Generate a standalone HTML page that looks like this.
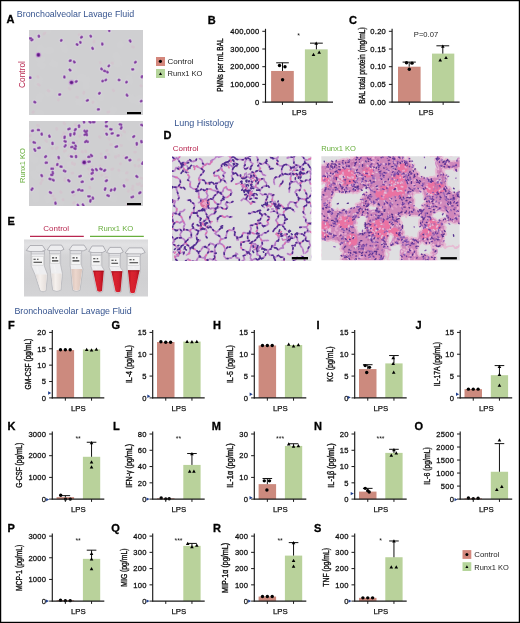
<!DOCTYPE html>
<html><head><meta charset="utf-8"><title>Figure</title>
<style>html,body{margin:0;padding:0;background:#fff;}svg{display:block;}text{font-family:'Liberation Sans', Arial, Helvetica, sans-serif;}</style>
</head><body>
<svg width="520" height="623" viewBox="0 0 520 623">
<rect x="0" y="0" width="520" height="623" fill="#fff"/>
<text x="16.80" y="16.60" font-size="9" fill="#36548f" text-anchor="start" font-weight="normal" textLength="117.3" lengthAdjust="spacingAndGlyphs">Bronchoalveolar Lavage Fluid</text>
<text x="6.50" y="23.00" font-size="11" fill="#000" text-anchor="start" font-weight="bold" stroke="#000" stroke-width="0.3">A</text>
<clipPath id="bc"><rect x="29" y="30" width="114" height="85"/></clipPath>
<filter id="bcf" x="-5%" y="-5%" width="110%" height="110%"><feGaussianBlur stdDeviation="0.35"/></filter>
<g clip-path="url(#bc)"><g filter="url(#bcf)">
<rect x="27" y="28" width="118" height="89" fill="#cfcfd1"/>
<path d="M80.6 77.6l2.5 -0.2M86.9 79.9l-1.9 0.1M100.8 97.4l-2.4 -1.2M39.3 98.8l1.2 -2.7M141 112l0.9 0.7M47 31.3l0.2 -2.6M50.7 50.6l-2.8 -0.2M79.2 101.6l0.1 0.8M86 86.3l-0.3 -1.3M142.7 114.6l2 1.2M64.9 49.5l-1.3 -2.6M116.4 64l2.1 -0.7M138.2 102l-3 -1.7M132.8 69.9l2.9 -0.6M37.3 83.5l1.7 -1.4M38.9 58.3l2.8 1.5M42.5 50.9l-2.4 -2.6M119.9 45.1l0.4 -0.3M50.7 92.2l-2.2 0.9M42.3 65.8l-1.7 -1.4M139.7 98.3l-1.2 2.3M53 63.5l2.1 0.9M40.4 114.1l-1.7 -1.5M117.1 58l-1.2 -2.6M39.3 79.5l-1.5 0.6M71.4 68.5l2.8 -0.1M94.5 103.7l-1.9 -2.1M132.6 99.5l-1.5 -1.9M113.3 109.9l-1.8 2.7M129.6 81.3l-0.5 -2.4" stroke="#d1d1d3" stroke-width="7" stroke-linecap="round" opacity="0.5"/>
<path d="M33.4 111.8l-0.6 0.5M58.3 100l0.2 -0.5M49 91.2l-1 -0.7M92.8 102.5l0.3 -0.5M133.6 47.3l-1.2 -0.6M79.8 35.1l-0.8 -0.3M94.2 41.2l-0.3 0.9M140.8 85.8l0.5 0.2M45 33l-1.2 1M108.9 111.8l-1.1 0.3M84 92.1l-0.4 1.2M37.6 76.4l0.6 1M113 89.8l0.7 1M69.1 88.2l1 0.9M76.6 97.2l0.9 0.2M100.2 62.5l0.2 0.3M38.1 84.3l1.2 0.9M112 63l0.6 0.2" stroke="#d7bccb" stroke-width="2.8" stroke-linecap="round" opacity="0.45"/>
<path d="M109.1 29.9l0.2 1M90.6 36l0.3 0.5M102.3 43.7l0 0.9M92.3 48l0.5 0.7M129.9 40.5l0.5 0.9M109 65.6l-0.3 0.5M101.3 68.8l0.5 0.4M104.2 70.8l0.7 0.3M107.2 71.9l0.4 0.5M135.7 62l-0.6 0.4M133.1 69.4l-0.8 0M142.1 76.3l-0.3 0.9M102.8 80.9l-0.4 0.3M106 79.8l-0.5 0.4M118.8 79.9l0.5 0.2M126.7 81.8l-0.3 0.5M99.7 93l-0.6 0.6M126.8 94.8l0.4 0.8M87.8 100.2l-0.8 0.4M141.4 100.9l-0.4 0.4M98 109.4l0.8 0M38.8 35.8l0.1 0.9M32.4 39.6l-0.8 0.6M30.9 38.3l-1.1 0.1M61.4 40.2l-0.3 0.4M81.8 36.9l-0.6 0.5M80.3 42.1l0.1 0.5M76.7 44.3l0.7 0.4M70.6 60.5l-0.8 0.3M74 61.6l0.6 0.7M69.7 69.7l0.6 0.7M64.4 76.6l-0.1 0.8M29.7 77.7l0.7 0M76.5 81.3l-0.7 0.5M60.1 94.4l-0.8 0.2M34.4 102l0.7 0.3" stroke="#dad4df" stroke-width="5.0" stroke-linecap="round" opacity="0.55"/>
<path d="M109.1 29.9l0.2 1M90.6 36l0.3 0.5M102.3 43.7l0 0.9M92.3 48l0.5 0.7M129.9 40.5l0.5 0.9M109 65.6l-0.3 0.5M101.3 68.8l0.5 0.4M104.2 70.8l0.7 0.3M107.2 71.9l0.4 0.5M135.7 62l-0.6 0.4M133.1 69.4l-0.8 0M142.1 76.3l-0.3 0.9M102.8 80.9l-0.4 0.3M106 79.8l-0.5 0.4M118.8 79.9l0.5 0.2M126.7 81.8l-0.3 0.5M99.7 93l-0.6 0.6M126.8 94.8l0.4 0.8M87.8 100.2l-0.8 0.4M141.4 100.9l-0.4 0.4M98 109.4l0.8 0M38.8 35.8l0.1 0.9M32.4 39.6l-0.8 0.6M30.9 38.3l-1.1 0.1M61.4 40.2l-0.3 0.4M81.8 36.9l-0.6 0.5M80.3 42.1l0.1 0.5M76.7 44.3l0.7 0.4M70.6 60.5l-0.8 0.3M74 61.6l0.6 0.7M69.7 69.7l0.6 0.7M64.4 76.6l-0.1 0.8M29.7 77.7l0.7 0M76.5 81.3l-0.7 0.5M60.1 94.4l-0.8 0.2M34.4 102l0.7 0.3" stroke="#ab7ec4" stroke-width="2.7" stroke-linecap="round"/>
<path d="M109.1 29.5l-0 0.8M109.3 30.5l-0 0.8M90.3 35.7l0.6 0.5M91.2 36.1l-0.5 0.6M102 43.4l0.6 0.6M101.9 44.5l0.8 0M92.4 47.6l-0 0.8M93.2 48.5l-0.6 0.6M130.3 40.4l-0.8 0.3M130.2 41.1l0.4 0.7M109.3 65.4l-0.7 0.5M108.9 65.9l-0.6 0.6M101.4 68.4l-0.2 0.8M101.6 68.8l0.4 0.7M104.5 70.5l-0.5 0.6M105.4 71.1l-0.8 0.1M107.2 71.5l0.1 0.8M108 72.2l-0.8 0.2M135.7 61.6l0 0.8M135.2 61.9l0.4 0.7M135.4 62.2l-0.7 0.4M133.4 69.2l-0.7 0.4M132.1 69.1l0.5 0.6M142.1 75.9l-0.2 0.8M141.5 76.8l0.5 0.7M102.7 80.6l0.2 0.8M102.1 81l0.7 0.4M106.4 79.5l-0.6 0.5M106 80.2l-0.8 0M119 79.5l-0.4 0.7M119.4 79.8l-0.7 0.5M119.8 80l-0.8 0.1M126.4 81.6l0.6 0.6M126.6 82l-0.5 0.6M99.4 92.8l0.7 0.4M98.8 93.3l0.5 0.6M126.8 94.4l-0 0.8M127.4 95.2l-0.8 0M126.9 95.4l0.7 0.4M87.4 100.1l0.8 0.2M87.4 100.5l-0.8 0.2M141.1 100.6l0.7 0.5M141.4 101.2l-0.8 0.3M98.4 109.2l-0.7 0.3M98.7 109.2l-0.6 0.5M99.2 109.3l-0.8 0.1M38.5 35.6l0.8 0.2M39.3 36.5l-0.7 0.3M32.1 39.3l0.6 0.5M32 40.1l-0.8 0.2M31.3 38.2l-0.8 0.1M30.8 38.2l-0.8 0.2M29.6 38l0.5 0.6M61 40.1l0.8 0.2M61.1 40l0.1 0.8M61.1 40.2l-0.1 0.8M81.5 36.7l0.6 0.5M81.6 37.3l-0.7 0.3M80.1 41.8l0.4 0.7M80.7 42.2l-0.6 0.5M80.1 42.5l0.7 0.3M76.8 43.9l-0 0.8M77.3 44.2l-0.4 0.7M77.4 44.3l0.1 0.8M70.2 60.4l0.8 0.2M69.9 60.4l0.6 0.5M69.8 60.5l-0.1 0.8M73.7 61.4l0.7 0.4M74.3 61.6l-0 0.8M75 62.3l-0.8 0.2M69.4 69.4l0.6 0.5M70.4 69.8l-0.7 0.4M70.7 70.3l-0.8 0.1M64.3 76.2l0.2 0.8M64 77.3l0.7 0.3M30.1 77.7l-0.8 0.1M30.1 77.3l-0 0.8M30.3 77.3l0.2 0.8M76.2 81.1l0.8 0.2M75.5 81.5l0.7 0.4M59.8 94.1l0.5 0.6M59.3 94.2l0.1 0.8M34.5 101.6l-0.1 0.8M34.8 102.1l0.8 0.3" stroke="#9a5db3" stroke-width="1.6" stroke-linecap="round"/>
<path d="M109.1 29.9l0.1 0.1M109.3 30.9l0.1 0.1M90.6 36l0.1 0.1M91 36.4l0.1 0.1M102.3 43.7l0.1 0.1M102.3 44.5l0.1 0.1M92.3 48l0.1 0.1M92.9 48.8l0.1 0.1M129.9 40.5l0.1 0.1M130.5 41.5l0.1 0.1M109 65.6l0.1 0.1M108.6 66.2l0.1 0.1M101.3 68.8l0.1 0.1M101.9 69.2l0.1 0.1M104.2 70.8l0.1 0.1M105 71.2l0.1 0.1M107.2 71.9l0.1 0.1M107.6 72.3l0.1 0.1M135.7 62l0.1 0.1M135.4 62.2l0.1 0.1M135.1 62.4l0.1 0.1M133.1 69.4l0.1 0.1M132.3 69.4l0.1 0.1M142.1 76.3l0.1 0.1M141.7 77.1l0.1 0.1M102.8 80.9l0.1 0.1M102.4 81.3l0.1 0.1M106 79.8l0.1 0.1M105.6 80.2l0.1 0.1M118.8 79.9l0.1 0.1M119.1 80l0.1 0.1M119.4 80.1l0.1 0.1M126.7 81.8l0.1 0.1M126.3 82.4l0.1 0.1M99.7 93l0.1 0.1M99.1 93.6l0.1 0.1M126.8 94.8l0.1 0.1M127 95.2l0.1 0.1M127.2 95.6l0.1 0.1M87.8 100.2l0.1 0.1M87 100.6l0.1 0.1M141.4 100.9l0.1 0.1M141 101.3l0.1 0.1M98 109.4l0.1 0.1M98.4 109.4l0.1 0.1M98.8 109.4l0.1 0.1M38.8 35.8l0.1 0.1M39 36.6l0.1 0.1M32.4 39.6l0.1 0.1M31.6 40.2l0.1 0.1M30.9 38.3l0.1 0.1M30.4 38.3l0.1 0.1M29.9 38.3l0.1 0.1M61.4 40.2l0.1 0.1M61.2 40.4l0.1 0.1M61 40.6l0.1 0.1M81.8 36.9l0.1 0.1M81.2 37.5l0.1 0.1M80.3 42.1l0.1 0.1M80.4 42.4l0.1 0.1M80.5 42.7l0.1 0.1M76.7 44.3l0.1 0.1M77.1 44.5l0.1 0.1M77.5 44.7l0.1 0.1M70.6 60.5l0.1 0.1M70.2 60.7l0.1 0.1M69.8 60.9l0.1 0.1M74 61.6l0.1 0.1M74.3 62l0.1 0.1M74.6 62.4l0.1 0.1M69.7 69.7l0.1 0.1M70 70l0.1 0.1M70.3 70.3l0.1 0.1M64.4 76.6l0.1 0.1M64.4 77.4l0.1 0.1M29.7 77.7l0.1 0.1M30.1 77.7l0.1 0.1M30.5 77.7l0.1 0.1M76.5 81.3l0.1 0.1M75.9 81.7l0.1 0.1M60.1 94.4l0.1 0.1M59.3 94.6l0.1 0.1M34.4 102l0.1 0.1M35.2 102.2l0.1 0.1" stroke="#7a3c98" stroke-width="1.1" stroke-linecap="round"/>
<circle cx="38.4" cy="54.9" r="3" fill="#c9a8d4" opacity="0.7"/><circle cx="38.4" cy="54.9" r="2.1" fill="#9a4cb6"/><circle cx="38.4" cy="54.9" r="1.3" fill="#5a1d80"/>
<circle cx="71.5" cy="82.5" r="3" fill="#c9a8d4" opacity="0.7"/><circle cx="71.5" cy="82.5" r="2.1" fill="#9a4cb6"/><circle cx="71.5" cy="82.5" r="1.3" fill="#5a1d80"/>
</g></g>
<clipPath id="bk"><rect x="29" y="121" width="114" height="85"/></clipPath>
<filter id="bkf" x="-5%" y="-5%" width="110%" height="110%"><feGaussianBlur stdDeviation="0.35"/></filter>
<g clip-path="url(#bk)"><g filter="url(#bkf)">
<rect x="27" y="119" width="118" height="89" fill="#cfcfd1"/>
<path d="M83.1 176.9l1 -2.1M30.2 152.9l-1.4 1.9M107.7 172.1l0.3 1M45.6 158.4l-2 2.4M35.7 190.6l-2.6 1.1M67.4 155.4l2.1 -2.9M35.9 198.8l0.1 -2.5M141.5 201.5l-2.3 -0.5M44.4 147.6l0.7 -2M108.4 125.4l-2 1.9M74.7 156.6l0.6 -0.1M72.8 123.6l1.4 2.8M140.3 177.4l-0.9 -0.8M107.7 178.3l-2.3 -1.6M70.4 164.5l1.9 0M32.2 190.9l-0.4 0.1M54.3 157.3l-0.7 1.6M40.7 167.7l-1.9 1.2M33.2 144.5l-0.9 0.8M34.9 160l-1.7 -1.3M83.3 202.5l-0.1 2.7M48.1 199.6l-0.8 -1.9M114.3 198.5l-3 -1.4M116.9 150.1l-1.6 -2.9M33.6 173.6l2.9 3M86.4 123l-1.1 1.7M123.8 175.3l-1.6 0.2M83.4 174.3l-1.4 2.7M131 134.8l-1.3 2.2M60.7 201.2l0.1 1.2" stroke="#d1d1d3" stroke-width="7" stroke-linecap="round" opacity="0.5"/>
<path d="M109.3 139.2l-0.5 -0.6M106.9 180l-0.9 0.9M76.9 141.5l-0.2 1.2M92.8 174.1l1 1.1M115.7 156.5l0.2 1M119 170.3l-0.4 -0.3M112.9 168.9l-1.2 0.5M132 188.8l1 1M90 188.1l-0.3 -1M69.3 147.5l1 0.5M90.7 173.9l-0.9 0.1M108.9 154.5l-0.6 -0.2M65.9 179.2l-0.9 -1M64.6 180.1l0.6 0.4M135.6 152.1l-1.1 -0M79.6 136.2l0.4 -0.4M56.2 148.8l1.1 -1.2M70.1 144.8l-0.7 -0.2M54.1 199.1l0 0.5M47.5 160.5l0.3 0.8M57.5 160.1l0.9 0.8M54.9 166.7l0.6 -0.3M105.8 177.4l1.1 0.1M106.6 150.8l0.6 -0.4M86 151.7l-0.5 -0.9M54.7 167.3l-0.6 -1.1M120.6 145.3l1 0.2M73.4 195.2l1 -0.4M43.3 175.5l0.8 0.3M118.4 156.1l0.3 -0.6M75.4 153.3l-0.3 -0.2M121 135.4l-0.7 -0.6M139.7 165.4l-1.1 0.8M128.6 190.8l-0.3 0.6M63.8 132.7l0.9 0.8M53.1 195.8l-1.1 -0.5M30.5 135.5l-0.8 0.5M62.8 137.2l-0.8 -0.5M127.3 172.6l-1 0.4M90.1 159.1l0.1 0.4M120.3 163.9l0.3 -0.1M101.3 154l-0.2 0M110.5 144.7l1 -0M126.5 179.7l1.1 0.4M77.7 155.5l0.3 0.6M124.7 132l-1.1 -0.9M38.6 125.8l-1.2 -0.6M41.9 179.2l0.3 1.1M138.5 184.5l1.1 -1.1M55 199.7l-0.1 -0.7M115.3 157l0.1 -0.4M56.6 128.4l0.3 1.1M141.5 186l1 -0.3M63 199.5l0.2 0.4M30.4 140.4l-0 0.6M123.1 185.4l-0.4 -0.3M127.3 205.1l-0 -0.7M100.2 166.6l-0.3 -0.6M72.9 173.1l-0.9 0.1M137.6 184.3l-0.6 -0.2M40.7 183.6l0.3 -0.8M91.5 171.6l0.2 -0.3M64.3 151.2l1.2 -0.4M86.3 160.1l-0.8 -0.2M52.4 148.4l-0.3 -0.4M135.9 146.2l-0.4 0.4M74.3 164.8l0.4 -1M105.6 129.6l-0.6 0.7M141.8 178.3l-0.8 -0.1M61.2 192.5l-0.6 -0.7M101.7 175.2l0.2 -0.1M138.3 160l1 -0.3M82.1 151.5l0.5 0.6M56.3 165.7l0.5 0M104.5 173.4l0.5 -0.3M63.9 123.1l0.9 0.7M73.5 203.2l1 -0.8M124.4 156.8l-0.4 -0.6M76.2 125.4l-1.1 -0.9M64 134.5l-0.9 0.8M72.3 162.7l0.2 1M45.7 140.4l0.9 1M135.2 165.9l-0.3 -0.7M132.8 186.1l0.1 0.7M58.7 166.4l1 -0.9M99.4 136.8l0.8 0.8M102.4 158.1l-1.1 -0M69.9 155l-1 1M88.5 168.7l0.8 1M91.7 167.2l0.8 -0.3" stroke="#d7bccb" stroke-width="2.8" stroke-linecap="round" opacity="0.45"/>
<path d="M32.9 130.6l-0.9 0.3M38.9 130l-1 0M41.5 133.7l0.3 0.9M49.2 135.7l0.4 1M33.6 142.2l1.3 0.5M39.6 147.8l-1.2 0.1M34.5 149.3l0.7 1.3M52.4 142.8l0.2 1.2M46 156.2l-0.8 0.8M46.8 162.6l-1.1 0.2M58.6 157.1l0.3 1.1M57.4 164.1l-0.2 0.9M60.5 166.5l1.1 0.2M63.9 170.7l1.4 0.6M52.9 168.7l-1.5 0M52.7 172.1l0.3 1.4M52.3 174.9l-1.1 0M49.5 178.9l0.9 0.2M52.8 179.8l0.9 0.5M41.5 175.2l0.5 0.9M32.5 188.5l-0.9 1.2M49.9 192.2l1.1 0.7M55.4 202.7l0.1 0.9M69.6 128.8l-1.2 0.3M75.7 129.1l-0.8 1M79 125.5l0.1 1.4M83.9 121l0.2 1.5M70.4 134.1l0 1.4M74.5 133.1l-0.4 1.2M84.5 130.8l1 1.1M85.4 134.3l-0.8 0.5M64.7 136.7l-0.2 1.3M64.7 141.2l1 0.5M65.6 145.3l-0.9 1.1M73 142.7l1 0.2M72.3 146.9l-1 0.1M75.5 145.6l0.4 1M74.4 148.3l1.1 0.6M86 141.3l-0.9 0.7M71 156.4l1 0.3M76 156l0.1 1.1M68.3 180.2l1.1 1M80.7 176l-1.3 0.5M82.7 181.6l-0.9 0.3M73.4 191.8l-1 0.5M79.2 189.6l-1 0.4M82.5 190.4l-1.4 0.1M77.7 205l0.6 1M82.8 204.5l0.6 0.9M89.6 121.8l0.9 0.7M94.3 122.1l-1.4 0.1M106.9 121.3l-1 0.8M105.9 126.1l1 0.3M119.8 124.3l1.3 0.3M121.5 127.3l-0.5 1.2M141.4 124.8l1 0.5M110.3 129.2l1.2 0.2M112.7 133.3l-1 0.2M106.4 133.7l0.5 0.8M118.5 135.5l-0.9 0M87 130.9l-0.5 1.1M86.5 133.9l0.4 1.2M86.5 141l1.3 0.8M134.1 136.2l-0.8 0.7M136.8 143.1l0 1.4M141.3 141.1l0.3 1.1M117 146.4l-1.2 0.4M89.3 156.9l-0.9 0M91 155l0.9 1M105.5 156.7l0.2 0.9M126.9 157.4l-1.1 0.5M130.3 160l-0.9 0.2M89.6 161.6l-1.2 0.2M92.1 169.7l0.9 0.7M96 169.1l0.8 1M100.3 168.8l1.2 0.6M105.1 170l-0.9 0.9M92.7 172.8l-1.1 0.8M92.6 178.7l-1 0.6M106.9 180.4l-1 0.7M136.4 176.1l0.9 0.8M123.9 185.5l0.3 0.9M105.4 188.3l-0.5 1.3M111.4 189.7l-0.5 0.8M115 188.7l-0.5 1.3M89.6 196.3l-1.3 0M92.8 197.6l0.2 1.1M90.5 200.1l-0.3 1.4M107.5 195.3l1.3 0.6M133 196.7l-1.4 0.5M140.4 192.4l-1.1 0.8M143 162.5l-0.8 1.1" stroke="#dad4df" stroke-width="5.0" stroke-linecap="round" opacity="0.55"/>
<path d="M32.9 130.6l-0.9 0.3M38.9 130l-1 0M41.5 133.7l0.3 0.9M49.2 135.7l0.4 1M33.6 142.2l1.3 0.5M39.6 147.8l-1.2 0.1M34.5 149.3l0.7 1.3M52.4 142.8l0.2 1.2M46 156.2l-0.8 0.8M46.8 162.6l-1.1 0.2M58.6 157.1l0.3 1.1M57.4 164.1l-0.2 0.9M60.5 166.5l1.1 0.2M63.9 170.7l1.4 0.6M52.9 168.7l-1.5 0M52.7 172.1l0.3 1.4M52.3 174.9l-1.1 0M49.5 178.9l0.9 0.2M52.8 179.8l0.9 0.5M41.5 175.2l0.5 0.9M32.5 188.5l-0.9 1.2M49.9 192.2l1.1 0.7M55.4 202.7l0.1 0.9M69.6 128.8l-1.2 0.3M75.7 129.1l-0.8 1M79 125.5l0.1 1.4M83.9 121l0.2 1.5M70.4 134.1l0 1.4M74.5 133.1l-0.4 1.2M84.5 130.8l1 1.1M85.4 134.3l-0.8 0.5M64.7 136.7l-0.2 1.3M64.7 141.2l1 0.5M65.6 145.3l-0.9 1.1M73 142.7l1 0.2M72.3 146.9l-1 0.1M75.5 145.6l0.4 1M74.4 148.3l1.1 0.6M86 141.3l-0.9 0.7M71 156.4l1 0.3M76 156l0.1 1.1M68.3 180.2l1.1 1M80.7 176l-1.3 0.5M82.7 181.6l-0.9 0.3M73.4 191.8l-1 0.5M79.2 189.6l-1 0.4M82.5 190.4l-1.4 0.1M77.7 205l0.6 1M82.8 204.5l0.6 0.9M89.6 121.8l0.9 0.7M94.3 122.1l-1.4 0.1M106.9 121.3l-1 0.8M105.9 126.1l1 0.3M119.8 124.3l1.3 0.3M121.5 127.3l-0.5 1.2M141.4 124.8l1 0.5M110.3 129.2l1.2 0.2M112.7 133.3l-1 0.2M106.4 133.7l0.5 0.8M118.5 135.5l-0.9 0M87 130.9l-0.5 1.1M86.5 133.9l0.4 1.2M86.5 141l1.3 0.8M134.1 136.2l-0.8 0.7M136.8 143.1l0 1.4M141.3 141.1l0.3 1.1M117 146.4l-1.2 0.4M89.3 156.9l-0.9 0M91 155l0.9 1M105.5 156.7l0.2 0.9M126.9 157.4l-1.1 0.5M130.3 160l-0.9 0.2M89.6 161.6l-1.2 0.2M92.1 169.7l0.9 0.7M96 169.1l0.8 1M100.3 168.8l1.2 0.6M105.1 170l-0.9 0.9M92.7 172.8l-1.1 0.8M92.6 178.7l-1 0.6M106.9 180.4l-1 0.7M136.4 176.1l0.9 0.8M123.9 185.5l0.3 0.9M105.4 188.3l-0.5 1.3M111.4 189.7l-0.5 0.8M115 188.7l-0.5 1.3M89.6 196.3l-1.3 0M92.8 197.6l0.2 1.1M90.5 200.1l-0.3 1.4M107.5 195.3l1.3 0.6M133 196.7l-1.4 0.5M140.4 192.4l-1.1 0.8M143 162.5l-0.8 1.1" stroke="#ab7ec4" stroke-width="2.7" stroke-linecap="round"/>
<path d="M33 130.2l-0.1 0.8M32.2 130.5l-0.3 0.7M38.7 129.7l0.5 0.6M37.9 129.6l-0 0.8M41.8 133.3l-0.4 0.7M42.1 133.9l-0.7 0.3M42 134.2l-0.4 0.7M49.4 135.4l-0.4 0.7M50 136.5l-0.7 0.4M33.7 141.8l-0.3 0.8M34.5 142.5l0.7 0.3M39.7 147.4l-0.1 0.8M38.8 147.8l-0.8 0.3M34.1 149.3l0.8 0M34.8 150.5l0.7 0.4M52.7 142.5l-0.6 0.6M52.9 143.8l-0.7 0.4M45.7 156l0.6 0.5M45.6 156.9l-0.8 0.1M46.5 162.5l0.8 0.2M45.7 162.4l0 0.8M58.3 156.7l0.5 0.7M59.1 157.4l-0.7 0.3M59 157.8l-0.3 0.7M57.7 163.9l-0.7 0.3M57.1 164.2l0.4 0.7M57.6 164.9l-0.8 0.2M60.7 166.2l-0.4 0.7M61.2 166.3l-0.5 0.6M61.2 166.5l0.6 0.5M64.1 170.3l-0.3 0.8M65.6 171l-0.6 0.6M53.3 168.7l-0.8 0M51.8 168.5l-0.6 0.5M52.5 171.7l0.4 0.7M53.1 173.1l-0.3 0.7M52.3 174.5l0.1 0.8M51.5 174.7l0.6 0.5M50.9 174.7l0.6 0.5M49.5 178.5l0 0.8M50.8 178.9l-0.7 0.5M52.8 179.5l-0.1 0.8M53.5 180l0.3 0.8M41.1 175l0.7 0.3M41.9 175.3l-0.4 0.7M42 175.6l-0.1 0.8M32.1 188.3l0.6 0.5M31.4 189.3l0.2 0.8M49.8 191.8l0.1 0.8M51.3 192.7l-0.8 0.2M55.3 202.4l0.3 0.8M55.2 203l0.6 0.5M56 203.6l-0.8 0.1M69.7 128.4l-0.2 0.8M68.6 128.9l0.8 0.2M68.6 128.9l-0.5 0.6M75.4 128.9l0.7 0.4M75 129.3l0.6 0.5M75.2 129.8l-0.5 0.6M79.4 125.4l-0.8 0.2M79.4 126.7l-0.7 0.3M84 120.6l-0.1 0.8M83.6 121.5l0.7 0.4M84.5 122.4l-0.8 0.1M70.8 133.9l-0.8 0.3M70.4 135.1l-0 0.8M74.2 132.8l0.5 0.6M73.9 133.6l0.8 0.2M73.8 134.1l0.7 0.4M84.7 130.5l-0.4 0.7M84.9 131l0.2 0.8M85.1 131.9l0.8 0.1M85.6 133.9l-0.3 0.7M84.9 134.5l-0.6 0.5M65.1 136.5l-0.8 0.2M64.2 137.3l0.8 0M64.8 137.6l-0.5 0.6M64.3 141.1l0.8 0.2M65.9 141.3l-0.4 0.7M65.6 144.9l-0 0.8M65.1 146.2l-0.6 0.5M72.6 142.7l0.8 0.1M73.8 142.6l0.4 0.7M71.9 146.9l0.8 0M71.6 146.8l-0.6 0.5M75.1 145.5l0.7 0.3M76.1 146.2l-0.4 0.7M74 148.2l0.8 0.2M75.1 148.3l-0.5 0.6M75.8 148.7l-0.7 0.4M86.4 141.2l-0.8 0.2M85.6 142.1l-0.8 0M70.8 156.1l0.4 0.7M71.9 156.5l-0.8 0.2M72.3 156.5l-0.6 0.5M75.6 155.9l0.8 0.2M75.6 157.1l0.8 0M68.3 179.8l-0.1 0.8M69.2 180.5l-0.7 0.3M69.7 181l-0.7 0.5M81 175.6l-0.5 0.7M79.1 176.3l0.8 0.2M82.3 181.4l0.7 0.4M82.1 182l-0.8 0M73.2 191.5l0.5 0.6M73.2 191.8l-0.5 0.6M72 192.3l0.8 0.1M79.3 189.2l-0.2 0.8M78.5 189.7l-0.6 0.6M82.4 190.1l0.2 0.8M80.7 190.5l0.8 0.2M77.7 204.6l0.1 0.8M78.1 205.6l0.4 0.7M82.6 204.2l0.4 0.7M83.1 205.2l0.6 0.5M90 121.7l-0.8 0.2M90.8 122.1l-0.5 0.6M94.7 121.9l-0.7 0.3M93.4 121.8l0.5 0.6M92.5 122.1l0.8 0.1M106.6 121.1l0.7 0.3M106.7 121.5l-0.6 0.5M105.9 121.7l-0.1 0.8M106.1 125.7l-0.3 0.7M106.5 126.2l0.8 0.2M120.2 124.1l-0.7 0.4M120.8 124.5l0.7 0.4M121.4 126.9l0.2 0.8M120.6 128.3l0.7 0.4M141.8 124.7l-0.8 0.2M142 125.3l0.8 0.1M110.6 128.9l-0.6 0.5M111.7 129.1l-0.5 0.6M112.8 133l-0.3 0.7M112.1 133.3l-0.7 0.3M106.8 133.7l-0.8 0M107.2 134.2l-0.4 0.7M118.9 135.4l-0.8 0.1M118.3 135.2l-0.6 0.5M117.6 135.1l-0.2 0.8M87.1 130.5l-0.2 0.8M86.5 131.5l-0.1 0.8M86.1 133.9l0.8 0M86.7 134.1l0.1 0.8M87.3 135.1l-0.8 0.1M86.2 140.7l0.5 0.6M87.9 141.4l-0.2 0.8M134.4 136l-0.7 0.4M132.9 136.8l0.8 0.1M136.7 142.7l0.2 0.8M136.5 143.5l0.6 0.5M136.9 144.1l-0.2 0.8M141.7 141l-0.8 0.2M142 142.1l-0.8 0.3M117.2 146.1l-0.4 0.7M116.2 146.7l-0.8 0.2M88.9 156.7l0.8 0.3M89.2 156.8l-0.8 0.1M88.7 156.7l-0.6 0.5M90.8 154.7l0.5 0.6M91.3 155.2l0.4 0.7M92.4 155.9l-0.8 0.2M105.1 156.7l0.8 0M105.8 156.8l-0.3 0.7M105.9 157.3l-0.5 0.6M126.5 157.3l0.8 0.1M126.6 157.3l-0.6 0.5M125.8 157.5l-0.1 0.8M130.3 159.6l0.2 0.8M129.4 159.8l0.2 0.8M89.2 161.5l0.8 0.1M88.2 161.5l0.4 0.7M92.3 169.3l-0.4 0.7M93.2 170l-0.3 0.7M95.9 168.7l0.3 0.8M96.2 169.3l0.4 0.7M96.4 169.9l0.8 0.3M100.3 168.4l0.1 0.8M101.2 168.8l-0.6 0.5M101.8 169.2l-0.7 0.3M104.7 169.9l0.8 0.1M104.9 170.1l-0.6 0.5M103.8 170.7l0.7 0.4M92.4 172.6l0.7 0.3M91.5 173.2l0.3 0.7M92.5 178.3l0.2 0.8M92.3 178.7l-0.4 0.7M91.2 179.1l0.7 0.4M107.3 180.3l-0.8 0.1M106.2 180.4l0.4 0.7M105.5 181l0.8 0M136.5 175.7l-0.3 0.7M136.4 176.3l0.7 0.3M136.8 176.9l0.8 0.1M123.6 185.2l0.5 0.6M123.7 185.6l0.6 0.5M123.7 186.3l0.8 0.1M105.3 188l0.1 0.8M105.2 188.6l-0.3 0.8M104.8 189.3l0.1 0.8M111 189.5l0.7 0.4M110.9 190.1l-0.2 0.8M115 188.3l0 0.8M114.3 189.2l0.7 0.3M114.4 189.7l0 0.8M90 196.3l-0.8 0.1M88 196.2l0.8 0.3M92.5 197.3l0.6 0.5M93.4 198.6l-0.8 0.2M90.8 199.8l-0.4 0.7M90 200.7l0.7 0.3M90 201.2l0.5 0.6M107.8 195.1l-0.7 0.4M108.9 195.5l-0.3 0.7M133.2 196.4l-0.5 0.7M131.3 197l0.6 0.5M140.3 192l0.2 0.8M139.7 192.5l0.4 0.7M139.8 193.1l-0.8 0.2M142.7 162.2l0.5 0.6M142.2 163.3l0 0.8" stroke="#9a5db3" stroke-width="1.6" stroke-linecap="round"/>
<path d="M32.9 130.6l0.1 0.1M32.1 130.8l0.1 0.1M38.9 130l0.1 0.1M37.9 130l0.1 0.1M41.5 133.7l0.1 0.1M41.7 134.1l0.1 0.1M41.9 134.5l0.1 0.1M49.2 135.7l0.1 0.1M49.6 136.7l0.1 0.1M33.6 142.2l0.1 0.1M34.8 142.6l0.1 0.1M39.6 147.8l0.1 0.1M38.4 148l0.1 0.1M34.5 149.3l0.1 0.1M35.1 150.7l0.1 0.1M52.4 142.8l0.1 0.1M52.6 144l0.1 0.1M46 156.2l0.1 0.1M45.2 157l0.1 0.1M46.8 162.6l0.1 0.1M45.8 162.8l0.1 0.1M58.6 157.1l0.1 0.1M58.7 157.6l0.1 0.1M58.8 158.1l0.1 0.1M57.4 164.1l0.1 0.1M57.3 164.5l0.1 0.1M57.2 164.9l0.1 0.1M60.5 166.5l0.1 0.1M61 166.6l0.1 0.1M61.5 166.7l0.1 0.1M63.9 170.7l0.1 0.1M65.3 171.3l0.1 0.1M52.9 168.7l0.1 0.1M51.5 168.7l0.1 0.1M52.7 172.1l0.1 0.1M52.9 173.5l0.1 0.1M52.3 174.9l0.1 0.1M51.8 174.9l0.1 0.1M51.3 174.9l0.1 0.1M49.5 178.9l0.1 0.1M50.5 179.1l0.1 0.1M52.8 179.8l0.1 0.1M53.6 180.4l0.1 0.1M41.5 175.2l0.1 0.1M41.7 175.6l0.1 0.1M41.9 176l0.1 0.1M32.5 188.5l0.1 0.1M31.5 189.7l0.1 0.1M49.9 192.2l0.1 0.1M50.9 192.8l0.1 0.1M55.4 202.7l0.1 0.1M55.5 203.2l0.1 0.1M55.6 203.7l0.1 0.1M69.6 128.8l0.1 0.1M69 129l0.1 0.1M68.4 129.2l0.1 0.1M75.7 129.1l0.1 0.1M75.3 129.6l0.1 0.1M74.9 130.1l0.1 0.1M79 125.5l0.1 0.1M79 126.9l0.1 0.1M83.9 121l0.1 0.1M84 121.7l0.1 0.1M84.1 122.4l0.1 0.1M70.4 134.1l0.1 0.1M70.4 135.5l0.1 0.1M74.5 133.1l0.1 0.1M74.3 133.7l0.1 0.1M74.1 134.3l0.1 0.1M84.5 130.8l0.1 0.1M85 131.4l0.1 0.1M85.5 132l0.1 0.1M85.4 134.3l0.1 0.1M84.6 134.7l0.1 0.1M64.7 136.7l0.1 0.1M64.6 137.3l0.1 0.1M64.5 137.9l0.1 0.1M64.7 141.2l0.1 0.1M65.7 141.6l0.1 0.1M65.6 145.3l0.1 0.1M64.8 146.5l0.1 0.1M73 142.7l0.1 0.1M74 142.9l0.1 0.1M72.3 146.9l0.1 0.1M71.3 147.1l0.1 0.1M75.5 145.6l0.1 0.1M75.9 146.6l0.1 0.1M74.4 148.3l0.1 0.1M74.9 148.6l0.1 0.1M75.4 148.9l0.1 0.1M86 141.3l0.1 0.1M85.2 142.1l0.1 0.1M71 156.4l0.1 0.1M71.5 156.6l0.1 0.1M72 156.8l0.1 0.1M76 156l0.1 0.1M76 157.2l0.1 0.1M68.3 180.2l0.1 0.1M68.8 180.7l0.1 0.1M69.3 181.2l0.1 0.1M80.7 176l0.1 0.1M79.5 176.4l0.1 0.1M82.7 181.6l0.1 0.1M81.7 182l0.1 0.1M73.4 191.8l0.1 0.1M72.9 192.1l0.1 0.1M72.4 192.4l0.1 0.1M79.2 189.6l0.1 0.1M78.2 190l0.1 0.1M82.5 190.4l0.1 0.1M81.1 190.6l0.1 0.1M77.7 205l0.1 0.1M78.3 206l0.1 0.1M82.8 204.5l0.1 0.1M83.4 205.5l0.1 0.1M89.6 121.8l0.1 0.1M90.6 122.4l0.1 0.1M94.3 122.1l0.1 0.1M93.6 122.1l0.1 0.1M92.9 122.1l0.1 0.1M106.9 121.3l0.1 0.1M106.4 121.7l0.1 0.1M105.9 122.1l0.1 0.1M105.9 126.1l0.1 0.1M106.9 126.3l0.1 0.1M119.8 124.3l0.1 0.1M121.2 124.7l0.1 0.1M121.5 127.3l0.1 0.1M120.9 128.5l0.1 0.1M141.4 124.8l0.1 0.1M142.4 125.4l0.1 0.1M110.3 129.2l0.1 0.1M111.5 129.4l0.1 0.1M112.7 133.3l0.1 0.1M111.7 133.5l0.1 0.1M106.4 133.7l0.1 0.1M107 134.5l0.1 0.1M118.5 135.5l0.1 0.1M118 135.5l0.1 0.1M117.5 135.5l0.1 0.1M87 130.9l0.1 0.1M86.4 131.9l0.1 0.1M86.5 133.9l0.1 0.1M86.7 134.5l0.1 0.1M86.9 135.1l0.1 0.1M86.5 141l0.1 0.1M87.7 141.8l0.1 0.1M134.1 136.2l0.1 0.1M133.3 136.8l0.1 0.1M136.8 143.1l0.1 0.1M136.8 143.8l0.1 0.1M136.8 144.5l0.1 0.1M141.3 141.1l0.1 0.1M141.7 142.3l0.1 0.1M117 146.4l0.1 0.1M115.8 146.8l0.1 0.1M89.3 156.9l0.1 0.1M88.8 156.9l0.1 0.1M88.3 156.9l0.1 0.1M91 155l0.1 0.1M91.5 155.5l0.1 0.1M92 156l0.1 0.1M105.5 156.7l0.1 0.1M105.6 157.2l0.1 0.1M105.7 157.7l0.1 0.1M126.9 157.4l0.1 0.1M126.3 157.6l0.1 0.1M125.7 157.8l0.1 0.1M130.3 160l0.1 0.1M129.5 160.2l0.1 0.1M89.6 161.6l0.1 0.1M88.4 161.8l0.1 0.1M92.1 169.7l0.1 0.1M93.1 170.3l0.1 0.1M96 169.1l0.1 0.1M96.4 169.6l0.1 0.1M96.8 170.1l0.1 0.1M100.3 168.8l0.1 0.1M100.9 169.1l0.1 0.1M101.5 169.4l0.1 0.1M105.1 170l0.1 0.1M104.6 170.4l0.1 0.1M104.1 170.8l0.1 0.1M92.7 172.8l0.1 0.1M91.7 173.6l0.1 0.1M92.6 178.7l0.1 0.1M92.1 179l0.1 0.1M91.6 179.3l0.1 0.1M106.9 180.4l0.1 0.1M106.4 180.7l0.1 0.1M105.9 181l0.1 0.1M136.4 176.1l0.1 0.1M136.8 176.5l0.1 0.1M137.2 176.9l0.1 0.1M123.9 185.5l0.1 0.1M124 185.9l0.1 0.1M124.1 186.3l0.1 0.1M105.4 188.3l0.1 0.1M105.1 189l0.1 0.1M104.8 189.7l0.1 0.1M111.4 189.7l0.1 0.1M110.8 190.5l0.1 0.1M115 188.7l0.1 0.1M114.7 189.4l0.1 0.1M114.4 190.1l0.1 0.1M89.6 196.3l0.1 0.1M88.4 196.3l0.1 0.1M92.8 197.6l0.1 0.1M93 198.6l0.1 0.1M90.5 200.1l0.1 0.1M90.4 200.8l0.1 0.1M90.3 201.5l0.1 0.1M107.5 195.3l0.1 0.1M108.7 195.9l0.1 0.1M133 196.7l0.1 0.1M131.6 197.3l0.1 0.1M140.4 192.4l0.1 0.1M139.9 192.8l0.1 0.1M139.4 193.2l0.1 0.1M143 162.5l0.1 0.1M142.2 163.7l0.1 0.1" stroke="#7a3c98" stroke-width="1.1" stroke-linecap="round"/>
<circle cx="84.2" cy="162.4" r="3" fill="#c9a8d4" opacity="0.7"/><circle cx="84.2" cy="162.4" r="2.1" fill="#9a4cb6"/><circle cx="84.2" cy="162.4" r="1.3" fill="#5a1d80"/>
</g></g>
<rect x="127" y="112" width="14" height="2.2" fill="#000"/>
<rect x="127" y="203" width="14" height="2.2" fill="#000"/>
<text transform="translate(22.20,74.50) rotate(-90)" x="0" y="2.99" font-size="8.3" fill="#b8264f" text-anchor="middle"  >Control</text>
<text transform="translate(21.90,165.50) rotate(-90)" x="0" y="2.92" font-size="8.1" fill="#68ae3d" text-anchor="middle" textLength="34.8" lengthAdjust="spacingAndGlyphs" >Runx1 KO</text>
<rect x="156" y="57" width="9" height="9" fill="#d4877c"/>
<rect x="156" y="69" width="9" height="9" fill="#b5d59b"/>
<circle cx="160.40" cy="61.30" r="1.6" fill="#000"/>
<polygon points="158.90,75.04 162.10,75.04 160.50,72.16" fill="#000"/>
<text x="167.60" y="63.90" font-size="8.0" fill="#222" text-anchor="start" font-weight="normal" >Control</text>
<text x="167.60" y="75.80" font-size="8.0" fill="#222" text-anchor="start" font-weight="normal" textLength="34.8" lengthAdjust="spacingAndGlyphs">Runx1 KO</text>
<text x="207.80" y="23.80" font-size="11" fill="#000" text-anchor="start" font-weight="bold" stroke="#000" stroke-width="0.3">B</text>
<rect x="271.10" y="70.95" width="22.70" height="31.15" fill="#cc8a7e"/>
<rect x="304.90" y="49.35" width="22.80" height="52.75" fill="#b9d29b"/>
<line x1="282.50" y1="70.95" x2="282.50" y2="62.81" stroke="#111" stroke-width="1.0" stroke-linecap="butt"/>
<line x1="276.20" y1="62.81" x2="288.80" y2="62.81" stroke="#111" stroke-width="1.0" stroke-linecap="butt"/>
<line x1="316.40" y1="49.35" x2="316.40" y2="43.16" stroke="#111" stroke-width="1.0" stroke-linecap="butt"/>
<line x1="310.00" y1="43.16" x2="322.80" y2="43.16" stroke="#111" stroke-width="1.0" stroke-linecap="butt"/>
<circle cx="279.50" cy="65.46" r="1.7" fill="#000"/>
<circle cx="285.00" cy="66.70" r="1.7" fill="#000"/>
<circle cx="282.60" cy="79.80" r="1.7" fill="#000"/>
<polygon points="314.40,44.78 318.00,44.78 316.20,41.54" fill="#000"/>
<polygon points="311.70,55.93 315.30,55.93 313.50,52.69" fill="#000"/>
<polygon points="317.40,53.63 321.00,53.63 319.20,50.39" fill="#000"/>
<line x1="265.50" y1="28.80" x2="265.50" y2="102.60" stroke="#1a1a1a" stroke-width="1.15" stroke-linecap="butt"/>
<line x1="262.30" y1="102.10" x2="265.50" y2="102.10" stroke="#1a1a1a" stroke-width="1.0" stroke-linecap="butt"/>
<text x="259.50" y="104.84" font-size="7.6" fill="#111" text-anchor="end" font-weight="normal" letter-spacing="0.25" stroke="#111" stroke-width="0.28">0</text>
<line x1="262.30" y1="84.40" x2="265.50" y2="84.40" stroke="#1a1a1a" stroke-width="1.0" stroke-linecap="butt"/>
<text x="259.50" y="87.14" font-size="7.6" fill="#111" text-anchor="end" font-weight="normal" letter-spacing="0.25" stroke="#111" stroke-width="0.28">100,000</text>
<line x1="262.30" y1="66.70" x2="265.50" y2="66.70" stroke="#1a1a1a" stroke-width="1.0" stroke-linecap="butt"/>
<text x="259.50" y="69.44" font-size="7.6" fill="#111" text-anchor="end" font-weight="normal" letter-spacing="0.25" stroke="#111" stroke-width="0.28">200,000</text>
<line x1="262.30" y1="49.00" x2="265.50" y2="49.00" stroke="#1a1a1a" stroke-width="1.0" stroke-linecap="butt"/>
<text x="259.50" y="51.74" font-size="7.6" fill="#111" text-anchor="end" font-weight="normal" letter-spacing="0.25" stroke="#111" stroke-width="0.28">300,000</text>
<line x1="262.30" y1="31.30" x2="265.50" y2="31.30" stroke="#1a1a1a" stroke-width="1.0" stroke-linecap="butt"/>
<text x="259.50" y="34.04" font-size="7.6" fill="#111" text-anchor="end" font-weight="normal" letter-spacing="0.25" stroke="#111" stroke-width="0.28">400,000</text>
<line x1="265.00" y1="102.10" x2="333.00" y2="102.10" stroke="#1a1a1a" stroke-width="1.15" stroke-linecap="butt"/>
<line x1="282.45" y1="102.10" x2="282.45" y2="104.90" stroke="#1a1a1a" stroke-width="1.0" stroke-linecap="butt"/>
<line x1="316.30" y1="102.10" x2="316.30" y2="104.90" stroke="#1a1a1a" stroke-width="1.0" stroke-linecap="butt"/>
<text x="299.40" y="114.60" font-size="7.8" fill="#111" text-anchor="middle" font-weight="normal" stroke="#111" stroke-width="0.25">LPS</text>
<text transform="translate(220.38,65.10) rotate(-90)" x="0" y="2.95" font-size="8.2" fill="#111" text-anchor="middle" textLength="53.4" lengthAdjust="spacingAndGlyphs" stroke="#111" stroke-width="0.35">PMNs per mL BAL</text>
<text x="298.50" y="37.50" font-size="6.9" fill="#111" text-anchor="middle" font-weight="normal" >*</text>
<text x="349.00" y="24.10" font-size="11" fill="#000" text-anchor="start" font-weight="bold" stroke="#000" stroke-width="0.3">C</text>
<rect x="398.00" y="66.70" width="22.60" height="35.40" fill="#cc8a7e"/>
<rect x="432.00" y="53.60" width="22.30" height="48.50" fill="#b9d29b"/>
<line x1="409.20" y1="66.70" x2="409.20" y2="62.10" stroke="#111" stroke-width="1.0" stroke-linecap="butt"/>
<line x1="402.60" y1="62.10" x2="415.80" y2="62.10" stroke="#111" stroke-width="1.0" stroke-linecap="butt"/>
<line x1="442.80" y1="53.60" x2="442.80" y2="45.81" stroke="#111" stroke-width="1.0" stroke-linecap="butt"/>
<line x1="436.40" y1="45.81" x2="449.20" y2="45.81" stroke="#111" stroke-width="1.0" stroke-linecap="butt"/>
<circle cx="406.50" cy="62.81" r="1.7" fill="#000"/>
<circle cx="412.00" cy="63.16" r="1.7" fill="#000"/>
<circle cx="409.30" cy="69.18" r="1.7" fill="#000"/>
<polygon points="441.00,47.79 444.60,47.79 442.80,44.55" fill="#000"/>
<polygon points="438.40,61.59 442.00,61.59 440.20,58.35" fill="#000"/>
<polygon points="444.20,59.12 447.80,59.12 446.00,55.88" fill="#000"/>
<line x1="392.10" y1="28.80" x2="392.10" y2="102.60" stroke="#1a1a1a" stroke-width="1.15" stroke-linecap="butt"/>
<line x1="388.90" y1="102.10" x2="392.10" y2="102.10" stroke="#1a1a1a" stroke-width="1.0" stroke-linecap="butt"/>
<text x="386.10" y="104.84" font-size="7.6" fill="#111" text-anchor="end" font-weight="normal" letter-spacing="0.25" stroke="#111" stroke-width="0.28">0.00</text>
<line x1="388.90" y1="84.40" x2="392.10" y2="84.40" stroke="#1a1a1a" stroke-width="1.0" stroke-linecap="butt"/>
<text x="386.10" y="87.14" font-size="7.6" fill="#111" text-anchor="end" font-weight="normal" letter-spacing="0.25" stroke="#111" stroke-width="0.28">0.05</text>
<line x1="388.90" y1="66.70" x2="392.10" y2="66.70" stroke="#1a1a1a" stroke-width="1.0" stroke-linecap="butt"/>
<text x="386.10" y="69.44" font-size="7.6" fill="#111" text-anchor="end" font-weight="normal" letter-spacing="0.25" stroke="#111" stroke-width="0.28">0.10</text>
<line x1="388.90" y1="49.00" x2="392.10" y2="49.00" stroke="#1a1a1a" stroke-width="1.0" stroke-linecap="butt"/>
<text x="386.10" y="51.74" font-size="7.6" fill="#111" text-anchor="end" font-weight="normal" letter-spacing="0.25" stroke="#111" stroke-width="0.28">0.15</text>
<line x1="388.90" y1="31.30" x2="392.10" y2="31.30" stroke="#1a1a1a" stroke-width="1.0" stroke-linecap="butt"/>
<text x="386.10" y="34.04" font-size="7.6" fill="#111" text-anchor="end" font-weight="normal" letter-spacing="0.25" stroke="#111" stroke-width="0.28">0.20</text>
<line x1="391.60" y1="102.10" x2="459.60" y2="102.10" stroke="#1a1a1a" stroke-width="1.15" stroke-linecap="butt"/>
<line x1="409.30" y1="102.10" x2="409.30" y2="104.90" stroke="#1a1a1a" stroke-width="1.0" stroke-linecap="butt"/>
<line x1="443.15" y1="102.10" x2="443.15" y2="104.90" stroke="#1a1a1a" stroke-width="1.0" stroke-linecap="butt"/>
<text x="426.15" y="114.60" font-size="7.8" fill="#111" text-anchor="middle" font-weight="normal" stroke="#111" stroke-width="0.25">LPS</text>
<text transform="translate(362.28,65.50) rotate(-90)" x="0" y="2.95" font-size="8.2" fill="#111" text-anchor="middle" textLength="76.7" lengthAdjust="spacingAndGlyphs" stroke="#111" stroke-width="0.35">BAL total protein (mg/mL)</text>
<text x="426.00" y="36.60" font-size="7.6" fill="#222" text-anchor="middle" font-weight="normal" >P=0.07</text>
<text x="174.20" y="126.30" font-size="9" fill="#36548f" text-anchor="start" font-weight="normal" >Lung Histology</text>
<text x="163.50" y="138.80" font-size="11" fill="#000" text-anchor="start" font-weight="bold" stroke="#000" stroke-width="0.3">D</text>
<text x="172.70" y="151.40" font-size="8" fill="#b8264f" text-anchor="start" font-weight="normal" >Control</text>
<text x="321.20" y="151.40" font-size="8" fill="#68ae3d" text-anchor="start" font-weight="normal" textLength="34.8" lengthAdjust="spacingAndGlyphs">Runx1 KO</text>
<clipPath id="hc"><rect x="172" y="156.3" width="139.3" height="104.8"/></clipPath>
<filter id="hcf" x="-5%" y="-5%" width="110%" height="110%"><feGaussianBlur stdDeviation="0.4"/></filter>
<g clip-path="url(#hc)"><g filter="url(#hcf)">
<rect x="170" y="154.3" width="143.3" height="108.8" fill="#dcdcde"/>
<path d="M169.8 178.5L170 181.9L169.8 185.2M310.7 204L311.6 206.3L313 208.3M252.2 260.2L249.4 261.9L248.4 265M252.2 260.2L255.2 258.6L258.2 260.1M259.9 179.8L258.2 182L256.2 184.1L255.5 187M259.9 179.8L257.9 178.6L255.9 177.2L253.5 177L251.3 176.1M251.3 176.1L250.7 177.1L249.6 177.7M249.6 177.7L251.3 179.7L252.1 182.1L250.7 185L252.3 187M300.9 187.8L300.4 185.2L300.8 182.7M301.6 181.3L304.2 181.6L306.6 179.9L309.3 180.6M309.3 180.6L310.3 183.4L313 184.8M313 184.8L313.2 186.8L311.7 188M313.9 193.6L311.9 191.1L311.7 188M313.9 193.6L310.8 194.3L309.5 197.5L306.7 198.6M306.7 198.6L306.9 195.5L306 192.6L304.4 189.9M311.8 173.2L310.6 175.5L311 178.4L309.3 180.6M310.7 204L309.3 202.3L307.1 202.4M306.7 198.6L306.3 199.1L306.2 199.8M307.1 202.4L306.6 201.1L306.2 199.8M171.2 233.3L171.4 235.9L172.9 237.9L174 240M174 240L174 241.8L172.5 242.7M193.6 261.6L190.6 260.9L188.1 259.1M183.8 262.8L185.8 260.8L188.1 259.1M206.7 260.3L205.1 259.5L204.8 257.7M193.6 261.6L196.6 260.9L197.7 258.1L199.8 256.4M204.8 257.7L202.1 257.8L199.8 256.4M239.1 261.8L236.4 263.7L232.9 262.5L230.1 264M219.5 263.2L217.5 261.8L215.3 260.6L214.9 258M207.4 260.5L209.7 258.8L212.7 259.7L214.9 258M206.7 260.3L207.2 259.9L207.4 260.5M313 208.3L311.8 210.9L310.6 213.4M317.8 228.5L316.3 225.8L312.8 225.6L311 223.4M315 217.5L312.6 218.8L313.4 222.2L311 223.4M266.3 262.6L268.9 263.8L271.4 262L274 262.3M274 262.3L273.6 262.9L274.3 262.6M258.2 260.1L259.1 258.7L260.6 258M262.8 258.1L261.7 258.8L260.6 258M274 262.3L275.2 260.3L274.3 258.1M274.3 258.1L273.2 255.4L269.7 255.1L268.4 252.5M262.8 258.1L264.9 256.4L265.9 253.7L268.4 252.5M249 253L250.7 255.1L250.3 258.1L252.2 260.2M260.6 258L259.7 255.9L257.1 254.6L257.2 252M287.5 157.9L287.9 157.7L288.2 157.4M220.8 156.4L224 155.3L225.1 152.1M225.1 152.1L226.7 154.7L229.3 156.2L231.8 157.9M231.8 157.9L229.5 159.9L228.3 162.7M228.3 162.7L225.8 162.3L223.8 163.6M216.6 156L218.6 157.1L220.8 156.4M234.3 157.3L232.7 156.2L231.8 157.9M170.4 152.9L171.2 155.6L172.9 157.6L175.3 159.1M175.3 159.1L172.5 161L169.6 162.6M216.6 156L214.7 158.8L211.8 160.4M259.9 179.8L261.8 179L263.8 178.6M251.3 176.1L250.6 173.9L252 172.2M265.5 175.5L262.8 174.5L261.4 171.7L258.9 170.4M258.9 170.4L256.7 171.1L254.6 172.7L252 172.2M240.5 175.1L237.9 175.7L236 173.1L233.4 173.5M237.3 165.2L234.9 166.3L233 168.2M233 168.2L232.4 170.2L232.4 172.2M233.4 173.5L232.8 172.9L232.4 172.2M236.9 159.5L235.5 158.4L234.3 157.3M228.3 162.7L229.7 164.7L231.8 166.1L233 168.2M255.5 187L258.2 188.3L259.9 190.8M263.8 178.6L264.5 181L266.5 183.1L266.4 185.8M259.9 190.8L261.4 188.3L263.4 186.4L266.4 185.8M274 179.3L273.9 181.9L274.5 184.3M266.4 185.8L268.1 186.1L269.3 187.4M267.9 216.4L265.3 214.2L262 214.5M260.4 210.7L259.8 213.2L262 214.5M266.7 205.1L267.2 206.7L268.5 205.7M271 194L271.6 195.7L273.2 195M300.9 187.8L299.7 190.2L296.3 189.9L295.2 192.4M306.2 199.8L303.8 199.2L301.3 198.7L298.7 198.3M298.7 198.3L297.2 195.2L295.2 192.4M305.1 214.6L303.3 212.3L303.9 209.4L303.7 206.8M306.3 227.3L303.2 226.9L300 227.4M306.3 227.3L307.5 225.5L308.6 223.7M308.6 223.7L305.8 222.2L305.8 218.7L303.6 216.8M311 223.4L309.8 223.5L308.6 223.7M307.1 202.4L306.4 205.4L303.7 206.8M298.7 198.3L298.2 201.3L295.6 203M295.6 203L295.6 205.4L297.3 207.1M183.8 262.8L181.1 262.6L178.4 262.2M179.6 248.6L176.9 247.7L175.2 245.4L172.9 244M179.6 248.6L180.1 250.7L180.1 252.8M180.1 252.8L178.3 255.8L174.9 256.6M186.6 255L189 253.6L189.7 251.1L190.5 248.7M190.5 248.7L189.2 246.4L187.1 244.8L185.6 242.7M185.6 242.7L183.6 244.6L181.3 246.3L179.6 248.6M178.4 262.2L176.2 259.7L174.9 256.6M199.8 256.4L198.7 254.4L198.5 252.2M190.5 248.7L191.7 247.2L193.2 248.4M198.5 252.2L196 250.2L193.2 248.4M174 240L176.1 238.5L178.4 237.6L181 237.9M185.6 242.7L185.2 242.3L185.5 241.8M181 237.9L184 239L185.5 241.8M172.3 176.1L175.2 177L178 178L180.2 180.2M181.1 167.3L179.2 169.3L176 167.9L174.5 171L171.8 171.1M223.8 163.6L221.7 164.7L221.5 167.1M225 172.7L222.2 170.5L221.5 167.1M211.8 160.4L211 161L211.6 161.8M287 219.1L284.6 220.4L284.5 223.5L282.4 224.9M282.4 224.9L284 227.8L286.3 230.3M311.8 173.2L310.4 173L311 171.7M319 161.7L316.6 162.9L315.8 165.8L314.2 167.9L311.3 168.6M311 171.7L311.6 170.2L311.3 168.6M319 161.7L316.9 160.4L314.3 159.7L312.9 157.4M274.3 258.1L276.4 256.7L278.5 255.2M268.4 252.5L268 251.2L268.6 250.1M268.6 250.1L271 249L271.9 246.4M272.3 246.4L272 245.2L271.9 246.4M272.3 246.4L274.3 247.5L276.6 248.3L278.3 250M317.8 228.5L315.4 229.3L315 232.4L312.6 233.2M306.3 227.3L307.8 229.1L307.5 231.4M312.6 233.2L310.3 231.5L307.5 231.4M268.6 250.1L265.6 249.6L262.8 248.6L260.3 246.8M257.2 252L257 249.4L258.7 247.6M258.7 247.6L259.5 247.2L260.3 246.8M241.7 181.1L241.9 183.8L243 186L245.9 187.2L246.2 189.9M249.6 177.7L247.1 176.6L245 178.3L242.7 178.6M252.3 187L250.5 189.3L247.9 190.6M257.4 233.7L254.8 233.7L252.3 233L249.9 231.9M257.4 233.7L256.7 231.3L257.6 228.9L257 226.5L257.3 224.1M249.9 231.9L251.1 228.8L250.2 225.6M250.2 225.6L252.6 225.3L254.9 224.1L257.3 224.1M259.9 210.5L257.6 211.2L255.5 212.2L252.9 211.7L250.9 213.3L248.6 213.6M262 214.5L261.6 217.2L260.3 219.4L257.8 220.7M255.3 202.2L252.6 201.8L250.9 203.9M269 219.1L267.1 220.8L268.4 223.9L266.3 225.6M269 219.1L269.3 217.4L267.9 216.4M266.3 225.6L263.1 226.3L261.1 223L258 223.4M257.8 220.7L259 221.9L258 223.4M241.7 181.1L239.2 183.2L236 184.1M242.7 178.6L240.8 177.3L240.5 175.1M233.4 173.5L231.6 175.9L232.9 179.1L231.3 181.6M213.7 173.1L215.5 171.5L217.8 170.6L220 169.4L221.2 167.1M213.7 173.1L214.6 175.9L218.4 175.5L219.4 178.1L221.1 179.9M225 172.7L223.1 174.7L224.1 177.8L222.2 179.8M222.2 179.8L224.7 180.9L226.3 183M268.4 240.5L265.1 240.4L261.9 241M261.9 241L260.6 238.3L258.3 236.3M268.7 230.5L266.5 232.6L263.7 233L261.5 235.2L258.4 235M258.4 235L259.3 235.7L258.3 236.3M260.3 246.8L262.4 244.3L261.9 241M273 231.5L274.5 229.1L276.8 227.3L278.3 225M275.9 220.1L277.2 222.5L278.3 225M257.4 233.7L258.8 233.7L258.4 235M258 223.4L257.4 223.5L257.3 224.1M311 171.7L308.3 171.1L306.1 173.5L303.6 173.8L301 173M301.6 181.3L299.8 179.3L300.9 176.7L300.1 174.5M300.1 174.5L299.8 173.3L301 173M300.8 182.7L298.3 183.8L296.1 180.9L293.6 181.9L291.2 181.7M300.1 174.5L297.3 174.5L294.5 173.8L291.6 174.2M291.6 174.2L290.7 176.7L290.4 179.2L291.2 181.7M289.3 192.1L289.4 189.1L289.7 186.1L289.8 183.1M289.8 183.1L291.1 183L291.2 181.7M258.9 170.4L260.4 168.1L258.2 165.6L259.4 163.4M259.4 163.4L262.6 164.1L265.3 162.2M265.3 162.2L267.3 164.2L269.4 166.1L269.8 169.1M178 159.2L179.4 161.8L181.1 164.1M178 159.2L179.7 156.5L181 153.6M181.1 164.1L183.1 162.4L186.3 163.3L187.9 161L190.2 160M181 153.6L184.2 154.1L187.3 154.6M175.3 159.1L176.7 158L178 159.2M181.1 167.3L182.1 165.7L181.1 164.1M193.8 161.3L191.7 161.6L190.2 160M193.8 161.3L195.8 160.9L196.5 159M205.5 164.9L207.2 163.5L209.3 164.4M205.5 164.9L203 166.3L201.9 169M201.9 169L203.8 170.8L202.9 173.3M199.7 158.7L202.1 160.3L202.7 163.6L205.5 164.9M211.6 161.8L210.5 163.2L209.3 164.4M194.1 167L197.1 166.3L199.5 167.8L201.9 169M243.8 167.5L245.6 169.4L248.6 167.3L250.4 169.3M236.9 159.5L239.8 159.4L242.9 159.7L245.7 158.4M243.8 167.5L244.9 165.3L244.8 162.9L245.7 160.8L245.7 158.4M246.3 157.8L247 159.1L245.7 158.4M260.2 193.4L262.5 194.8L265.4 194.2L267.6 195.8M265.5 202.5L265.9 200.2L267.1 198.1L267.6 195.8M271 194L268.8 193.9L267.6 195.8M247.9 190.6L247.4 191.6L248.4 192.3M248.4 192.3L250.9 193.2L253.2 194.6L254.1 197.8L256.9 198.3M250.9 203.9L248.5 201.4L245.9 199.2M245.9 199.2L247 197L248.2 194.9L248.4 192.3M266.7 205.1L265.5 204.1L265.5 202.5M273.9 203.2L272.2 200.6L272.5 197.8L273.2 195M270.9 211.9L274 211.1L277.2 212M273.9 203.2L276 204.9L278.7 205.3M278.7 205.3L276.7 208.4L277.2 212M287 219.1L285 217.4L283.7 215M275.9 220.1L278.1 217.6L278.8 214.3M282.4 224.9L280.3 224.8L278.3 225M283.7 215L281.2 214.7L278.8 214.3M277.2 212L277.5 213.5L278.8 214.3M202.7 247.1L201.2 250.1L198.5 252.2M193.2 248.4L193.5 245.8L195.8 244.2L197.2 242.1L197.9 239.8M197.9 239.8L198.8 241.1L200.1 240.3M185.5 241.8L187.5 240.2L188.9 237.8L191.7 237.4M197.9 239.8L197.1 239.4L196.8 238.6M171.4 217L172.4 216.1L172.6 214.7M172.6 214.7L170.2 213.6L169.3 210.9L167.6 209.1L165.4 207.8M285.1 233.9L283 235.8L280.6 236.3L278 235.6M272.3 246.4L275 245.2L275.6 241.9L278.3 240.7M278.3 240.7L278.9 238.1L278 235.6M307.5 231.4L304.7 232.6L304.5 235.6M304.5 235.6L302.2 234L299.6 233.7L297 233.2M297 233.2L297.3 234.3L296.5 233.4M312.6 233.2L313.9 235.3L313.2 237.6M304.5 235.6L306.2 237.2L305.4 239.4M305.4 239.4L306.9 241.2L309.2 241M305.4 253.1L307.7 251.1L308.3 247.9L310.5 245.8M314.3 261.8L312.8 258.7L311.9 255.4M309.2 241L309.5 243.5L310.5 245.8M283.8 261.7L282 261.5L282.3 263.3M274.3 262.6L276.9 263L279.5 264.4L282.3 263.3M283.6 257.2L280.6 257.2L278.5 255.2M283.6 257.2L284.2 259.4L283.8 261.7M314.3 261.8L312.8 263.7L311.2 265.5L309.7 267.4M249.9 231.9L250 233.7L248.3 233.2M248.3 233.2L247.7 235.8L247.7 238.3L249.1 240.7M258.3 236.3L256.3 238.5L254.6 241L251.5 242.1M258.7 247.6L256.9 245.5L254.8 243.9L252 243.5M252 243.5L250.3 243.2L251.5 242.1M249 253L248.7 252.2L247.9 252.3M252 243.5L251.3 245.8L250.4 248.1L250.2 250.7L247.9 252.3M245.9 199.2L243.3 198.5L241.4 200.5M248.3 233.2L246.1 233.1L243.8 232.6M300 167.1L298.2 165.2L295.5 165.2M300 167.1L302.6 165.1L304.7 162.7M295.5 165.2L293.8 162.8L293.6 160L293.8 157.2M302.1 156.2L303.6 157.9L305 159.7M295.6 155.8L294.3 156L293.8 157.2M305 159.7L304.5 161.2L304.7 162.7M311.3 168.6L309.2 166.5L307.8 163.7L304.7 162.7M301 173L300.7 170L300 167.1M312.9 157.4L310.4 158.5L307.9 160L305 159.7M288.2 157.4L291 157.1L293.8 157.2M274 179.3L275.7 177.3L278.6 177.1L280.3 175.3M279.5 186.4L280.6 184.4L282.4 182.7L283 180.4M280.3 175.3L280.9 174.9L281.5 175.4M269.8 169.1L271.1 168.5L272.6 168.6M291.2 168.1L289.1 165.5L285.8 164.4M290.9 173.5L288.2 174.8L285.3 173.7L282.6 174.3M282.6 174.3L281.6 171.5L281.8 168.7L283.1 166M285.8 164.4L284.3 164.9L283.1 166M295.5 165.2L293.8 167.3L291.2 168.1M277 163.8L279.7 165.8L283.1 166M278 156.7L277.6 157.9L276.4 158.4M276.4 158.4L277.7 161L277 163.8M265.3 162.2L266.8 161.2L266.4 159.5M276.4 158.4L273.1 158.6L270.2 157.1M257.7 162.5L257.7 159L256.6 155.8M252.9 163.7L250.7 162L250.1 158.8L247.1 157.9M247.1 157.9L249.1 156.4L251.7 155.8L253.5 154M253.5 154L255 155.1L256.6 155.8M250.4 169.3L251.3 166.3L252.9 163.7M246.3 157.8L246.7 157.7L247.1 157.9M280.2 204.6L282.3 206.1L284 208.3L286.8 208.3M290.2 201.9L288.2 204.6L288 208M288 208L287.5 208.7L286.8 208.3M278.7 205.3L278.8 203.7L280.2 204.6M283.7 215L283.5 212.2L285.2 210.3L286.8 208.3M295.6 203L293 202L290.2 201.9M294.4 211.6L292.7 209.6L290.7 208.1L288 208M202.7 247.1L205 246.6L206.9 247.8M210.3 243.2L208.6 245.4L206.9 247.8M204.8 257.7L205.7 255.6L207.2 253.7L208.6 251.8M208.6 251.8L208.9 249.3L206.9 247.8M209.9 225.7L211.5 228.5L213.7 230.6L216.6 232.1M206.8 237.7L205.4 234.8L207 231.5L205.4 228.7M216.6 232.1L215.1 233.4L216.6 234.8M182.7 221.4L179.9 222.7L176.6 221.7L173.9 223.5M182.7 221.4L183.3 221.4L183.5 221.8M183.5 221.8L184.9 224.3L183.6 227L183.8 229.5M173.9 223.5L173.3 225.1L172.6 226.7M182 231.1L179.5 229.1L176 230.6L173.3 229.1M173.3 229.1L171.7 228.3L172.6 226.7M171.4 217L172.9 218.9L172.8 221.5L173.9 223.5M179.3 214.4L177.2 214L175.2 213.5M179.3 214.4L181.1 216.4L182.3 218.7L182.7 221.4M172.6 214.7L173.2 212.8L175.2 213.5M181 237.9L180.1 234.3L182 231.1M191.7 237.4L191.3 235.1L191.4 232.6L189.3 230.9M189.3 230.9L186.7 229.7L183.8 229.5M189.3 230.9L191.3 229.3L193.4 227.9M196.8 238.6L196.1 235.6L198 233.2L198.5 230.5M193.4 227.9L195.5 230L198.5 230.5M205.4 228.7L204.3 229.1L203.3 228.3M203.3 228.3L201.3 230.3L198.5 230.5M178 200.1L179.1 197.4L177.9 194.9L177.6 192.3L176.6 189.8L176.7 187.1M174.7 200.8L171.9 199.8L169.7 198.2L168.2 195.6M168.2 195.6L168.8 193.3L170.5 191.6L171.3 189.4L172 187.2M172 187.2L174.3 187.3L176.7 187.1M179.3 214.4L180.1 211.7L183.1 211.3L184.7 209.5M175.2 213.5L176.7 211L176.7 208.5L174.2 205.9L174.4 203.4L175.5 200.9M165.4 207.8L166.9 206L168.7 204.4L170.4 202.9L172.6 201.9L174.7 200.8M180.2 180.2L180.5 182.9L179.2 185.3M179.2 185.3L178.2 186.5L176.7 187.1M278.3 250L280.5 248.3L283.3 248M283.3 248L282.7 245.6L284.6 244M247.9 252.3L247.5 253.4L247.1 252.3M247.1 252.3L246 254.6L243.3 256L244.6 259.6L242.1 261.1M226.3 258.7L228.9 258.3L231.5 257.9L233.5 256L235.7 254.6M235.7 254.6L235.9 257.4L239.2 258.5L239.4 261.4M242.1 261.1L240.9 262.5L239.4 261.4M249.1 240.7L246.3 241.1L243.7 242L240.9 242.3M247.1 252.3L245.2 250.3L242.4 249.5M240.9 242.3L241 244.8L240.9 247.3L242.4 249.5M243.8 232.6L242.3 234.4L241.8 237L238.5 237.4L238.1 240.1M235.7 254.6L237 254.2L236 253.3M226.3 186.9L227.4 189.5L230.7 190L231.8 192.7M226.3 186.9L223.7 188.4L222.7 191.8L219.7 192.9M219.7 192.9L222.4 194.6L223.9 197.4M231.8 192.7L230.4 194.8L228.6 196.3L226.6 197.5L223.9 197.4M179.2 185.3L180.4 187.8L183.6 187.3L185.1 189.4M193.8 203.5L191.6 202.5L190.2 200.3L187.5 200.2M196.3 191.2L198.6 192.5L198.8 195.2L198.9 197.8L200.9 199.4M198.6 202.7L200.7 201.7L200.9 199.4M206.9 189.7L206.3 192.6L207.8 195.4L206.8 198.3M206.9 189.7L204.3 190.5L201.7 189L199.1 190.8L196.5 190.1M196.5 190.1L197.5 190.9L196.3 191.2M200.9 199.4L204 199.6L206.8 198.3M217.3 183.1L216.1 185.4L216.1 187.7L218 190L217.6 192.3M217.3 183.1L214.6 184.2L212 182.4L209.4 182.5M217.6 192.3L215.3 190.7L212.7 190.2L210.3 188.9L207.5 189.1M208.2 183.5L209.5 183.7L209.4 182.5M221.1 179.9L219.7 182.1L217.3 183.1M219.7 192.9L218.9 191.7L217.7 192.5M206.9 189.7L206.8 189L207.5 189.1M213.1 199.4L213.5 196.3L216 194.6L217.7 192.5M213.1 199.4L210.8 198.8L208.6 199.6M217.5 204.4L220.6 203.9L221.3 200.4L224 199.5M217.5 204.4L217.8 206.2L217.3 208M217.3 208L220.5 207L223.2 208.8L226.2 209M226.2 209L227.7 206.8L225.4 204.3L226.7 202M213.1 199.4L214.9 202.2L217.5 204.4M223.9 197.4L222.7 198.6L224 199.5M232.8 201.6L229.8 202.9L226.7 202M232.1 216.7L229.6 217.1L227 216.1L224.5 217.2L221.9 215.8L219.4 216.4M219.4 216.4L217.5 218.7L217.4 221.6M222 225.9L220.9 226.7L222 227.5M216.6 232.1L218.4 230.6L220 228.9L222 227.5M215.9 253.2L214.3 253.2L214.8 251.7M214.8 251.7L214.7 248.7L215.6 245.8M224.2 253.2L224.6 251.5L225.4 249.8M225.4 249.8L224.4 247L222.7 244.7L219.9 243.4M219.9 243.4L217.3 243.8L215.6 245.8M226.2 258.7L224.1 256.4L224.2 253.2M214.9 258L214.3 255.3L215.9 253.2M208.6 251.8L211.7 251.5L214.8 251.7M210.3 243.2L213.1 244.2L215.6 245.8M230.8 247L227.5 247.2L225.4 249.8M216.6 234.8L219.7 236.1L221.1 239.2M221.1 239.2L219.6 241L219.9 243.4M234 227.9L233.8 230.5L235.2 232.7L234.4 235.4L237.3 237.3L236.9 239.9M234 227.9L232.4 230.4L229.3 230L227.2 231.4M227.2 231.4L226.5 234.5L226 237.7M221.1 239.2L223.6 238.7L226 237.7M189.7 219.2L190 216.8L191.1 214.7M200.9 218.5L198.1 216.5L196.7 213.4M200.9 218.5L200.2 220.1L199.4 221.7M191.1 214.7L192 212.7L194.1 213M194.1 213L195.4 213.1L196.7 213.4M193.4 227.9L192.2 225.4L193.5 223.1M203.3 228.3L200.8 226.8L201 223.7L199.4 221.7M193.8 203.5L194.7 205.9L193.8 208.3L193.8 210.7L194.1 213M202.8 208.7L201.1 210.8L197.9 210.7L196.7 213.4M285.1 233.9L287 236.6L288.7 239.3M296.5 233.4L295.1 234.2L295.5 235.8M295.5 235.8L293.9 238.3L290.9 238.1L288.7 239.3M284.6 244L285.7 241.9L288.1 242M288.7 239.3L289.6 240.9L288.1 242M196.2 189.5L192.9 188.7L190.3 186.7M196.2 189.5L197.8 187.3L198.3 184.8L199.8 182.6L199.3 179.7M190.3 186.7L190.1 184.3L190.4 181.8L187.6 179.9L189.6 177L188 174.9M196.5 190.1L196.3 189.8L196.2 189.5M208.2 183.5L205.8 183.1L204.2 180.6L201.9 179.8L199.3 179.7M202.9 173.3L200.2 175.4L198.8 178.6M207.8 206.6L206.7 208.9L204.2 209M207.8 206.6L209.9 208.8L213.5 208L215.7 210.2M204.2 209L205.2 211.7L206.5 214.3L207.3 217.1M215.7 210.2L214.7 210.8L215.6 211.5M215.6 211.5L214.3 213.8L211.6 214.2L209.7 215.6L208.1 217.5M207.3 217.1L207.7 217.3L208.1 217.5M202.8 208.7L203.2 210.1L204.2 209M208.6 199.6L207.1 201.8L208.8 204.3L207.8 206.6M217.3 208L215.6 208.4L215.7 210.2M210.6 223.6L209.3 220.6L208.1 217.5M292.1 245.5L294.8 245.8L296.4 242.7L299.2 243.2M292.1 245.5L293.1 248.2L292.5 251L292.5 253.7M300 243.5L299.8 242.9L299.2 243.2M300 243.5L300.7 246.1L302.5 248.3L303.2 250.9L303.7 253.5M295.5 235.8L297.3 238L297.6 240.9L299.2 243.2M287.5 253.7L290 254.6L292.5 253.7M290.8 263.6L292.8 261.4L295.5 259.8L297 257M305.4 239.4L302.5 241.3L300 243.5M309.7 267.4L309.2 264.9L307.1 263.5L304.9 262.1L304.4 259.6L303.3 257.5L301.5 255.9" fill="none" stroke="#d3aadb" stroke-width="2.0" stroke-linecap="round"/>
<path d="M169.8 178.5L170 181.9L169.8 185.2M310.7 204L311.6 206.3L313 208.3M252.2 260.2L249.4 261.9L248.4 265M252.2 260.2L255.2 258.6L258.2 260.1M259.9 179.8L258.2 182L256.2 184.1L255.5 187M259.9 179.8L257.9 178.6L255.9 177.2L253.5 177L251.3 176.1M251.3 176.1L250.7 177.1L249.6 177.7M249.6 177.7L251.3 179.7L252.1 182.1L250.7 185L252.3 187M300.9 187.8L300.4 185.2L300.8 182.7M301.6 181.3L304.2 181.6L306.6 179.9L309.3 180.6M309.3 180.6L310.3 183.4L313 184.8M313 184.8L313.2 186.8L311.7 188M313.9 193.6L311.9 191.1L311.7 188M313.9 193.6L310.8 194.3L309.5 197.5L306.7 198.6M306.7 198.6L306.9 195.5L306 192.6L304.4 189.9M311.8 173.2L310.6 175.5L311 178.4L309.3 180.6M310.7 204L309.3 202.3L307.1 202.4M306.7 198.6L306.3 199.1L306.2 199.8M307.1 202.4L306.6 201.1L306.2 199.8M171.2 233.3L171.4 235.9L172.9 237.9L174 240M174 240L174 241.8L172.5 242.7M193.6 261.6L190.6 260.9L188.1 259.1M183.8 262.8L185.8 260.8L188.1 259.1M206.7 260.3L205.1 259.5L204.8 257.7M193.6 261.6L196.6 260.9L197.7 258.1L199.8 256.4M204.8 257.7L202.1 257.8L199.8 256.4M239.1 261.8L236.4 263.7L232.9 262.5L230.1 264M219.5 263.2L217.5 261.8L215.3 260.6L214.9 258M207.4 260.5L209.7 258.8L212.7 259.7L214.9 258M206.7 260.3L207.2 259.9L207.4 260.5M313 208.3L311.8 210.9L310.6 213.4M317.8 228.5L316.3 225.8L312.8 225.6L311 223.4M315 217.5L312.6 218.8L313.4 222.2L311 223.4M266.3 262.6L268.9 263.8L271.4 262L274 262.3M274 262.3L273.6 262.9L274.3 262.6M258.2 260.1L259.1 258.7L260.6 258M262.8 258.1L261.7 258.8L260.6 258M274 262.3L275.2 260.3L274.3 258.1M274.3 258.1L273.2 255.4L269.7 255.1L268.4 252.5M262.8 258.1L264.9 256.4L265.9 253.7L268.4 252.5M249 253L250.7 255.1L250.3 258.1L252.2 260.2M260.6 258L259.7 255.9L257.1 254.6L257.2 252M287.5 157.9L287.9 157.7L288.2 157.4M220.8 156.4L224 155.3L225.1 152.1M225.1 152.1L226.7 154.7L229.3 156.2L231.8 157.9M231.8 157.9L229.5 159.9L228.3 162.7M228.3 162.7L225.8 162.3L223.8 163.6M216.6 156L218.6 157.1L220.8 156.4M234.3 157.3L232.7 156.2L231.8 157.9M170.4 152.9L171.2 155.6L172.9 157.6L175.3 159.1M175.3 159.1L172.5 161L169.6 162.6M216.6 156L214.7 158.8L211.8 160.4M259.9 179.8L261.8 179L263.8 178.6M251.3 176.1L250.6 173.9L252 172.2M265.5 175.5L262.8 174.5L261.4 171.7L258.9 170.4M258.9 170.4L256.7 171.1L254.6 172.7L252 172.2M240.5 175.1L237.9 175.7L236 173.1L233.4 173.5M237.3 165.2L234.9 166.3L233 168.2M233 168.2L232.4 170.2L232.4 172.2M233.4 173.5L232.8 172.9L232.4 172.2M236.9 159.5L235.5 158.4L234.3 157.3M228.3 162.7L229.7 164.7L231.8 166.1L233 168.2M255.5 187L258.2 188.3L259.9 190.8M263.8 178.6L264.5 181L266.5 183.1L266.4 185.8M259.9 190.8L261.4 188.3L263.4 186.4L266.4 185.8M274 179.3L273.9 181.9L274.5 184.3M266.4 185.8L268.1 186.1L269.3 187.4M267.9 216.4L265.3 214.2L262 214.5M260.4 210.7L259.8 213.2L262 214.5M266.7 205.1L267.2 206.7L268.5 205.7M271 194L271.6 195.7L273.2 195M300.9 187.8L299.7 190.2L296.3 189.9L295.2 192.4M306.2 199.8L303.8 199.2L301.3 198.7L298.7 198.3M298.7 198.3L297.2 195.2L295.2 192.4M305.1 214.6L303.3 212.3L303.9 209.4L303.7 206.8M306.3 227.3L303.2 226.9L300 227.4M306.3 227.3L307.5 225.5L308.6 223.7M308.6 223.7L305.8 222.2L305.8 218.7L303.6 216.8M311 223.4L309.8 223.5L308.6 223.7M307.1 202.4L306.4 205.4L303.7 206.8M298.7 198.3L298.2 201.3L295.6 203M295.6 203L295.6 205.4L297.3 207.1M183.8 262.8L181.1 262.6L178.4 262.2M179.6 248.6L176.9 247.7L175.2 245.4L172.9 244M179.6 248.6L180.1 250.7L180.1 252.8M180.1 252.8L178.3 255.8L174.9 256.6M186.6 255L189 253.6L189.7 251.1L190.5 248.7M190.5 248.7L189.2 246.4L187.1 244.8L185.6 242.7M185.6 242.7L183.6 244.6L181.3 246.3L179.6 248.6M178.4 262.2L176.2 259.7L174.9 256.6M199.8 256.4L198.7 254.4L198.5 252.2M190.5 248.7L191.7 247.2L193.2 248.4M198.5 252.2L196 250.2L193.2 248.4M174 240L176.1 238.5L178.4 237.6L181 237.9M185.6 242.7L185.2 242.3L185.5 241.8M181 237.9L184 239L185.5 241.8M172.3 176.1L175.2 177L178 178L180.2 180.2M181.1 167.3L179.2 169.3L176 167.9L174.5 171L171.8 171.1M223.8 163.6L221.7 164.7L221.5 167.1M225 172.7L222.2 170.5L221.5 167.1M211.8 160.4L211 161L211.6 161.8M287 219.1L284.6 220.4L284.5 223.5L282.4 224.9M282.4 224.9L284 227.8L286.3 230.3M311.8 173.2L310.4 173L311 171.7M319 161.7L316.6 162.9L315.8 165.8L314.2 167.9L311.3 168.6M311 171.7L311.6 170.2L311.3 168.6M319 161.7L316.9 160.4L314.3 159.7L312.9 157.4M274.3 258.1L276.4 256.7L278.5 255.2M268.4 252.5L268 251.2L268.6 250.1M268.6 250.1L271 249L271.9 246.4M272.3 246.4L272 245.2L271.9 246.4M272.3 246.4L274.3 247.5L276.6 248.3L278.3 250M317.8 228.5L315.4 229.3L315 232.4L312.6 233.2M306.3 227.3L307.8 229.1L307.5 231.4M312.6 233.2L310.3 231.5L307.5 231.4M268.6 250.1L265.6 249.6L262.8 248.6L260.3 246.8M257.2 252L257 249.4L258.7 247.6M258.7 247.6L259.5 247.2L260.3 246.8M241.7 181.1L241.9 183.8L243 186L245.9 187.2L246.2 189.9M249.6 177.7L247.1 176.6L245 178.3L242.7 178.6M252.3 187L250.5 189.3L247.9 190.6M257.4 233.7L254.8 233.7L252.3 233L249.9 231.9M257.4 233.7L256.7 231.3L257.6 228.9L257 226.5L257.3 224.1M249.9 231.9L251.1 228.8L250.2 225.6M250.2 225.6L252.6 225.3L254.9 224.1L257.3 224.1M259.9 210.5L257.6 211.2L255.5 212.2L252.9 211.7L250.9 213.3L248.6 213.6M262 214.5L261.6 217.2L260.3 219.4L257.8 220.7M255.3 202.2L252.6 201.8L250.9 203.9M269 219.1L267.1 220.8L268.4 223.9L266.3 225.6M269 219.1L269.3 217.4L267.9 216.4M266.3 225.6L263.1 226.3L261.1 223L258 223.4M257.8 220.7L259 221.9L258 223.4M241.7 181.1L239.2 183.2L236 184.1M242.7 178.6L240.8 177.3L240.5 175.1M233.4 173.5L231.6 175.9L232.9 179.1L231.3 181.6M213.7 173.1L215.5 171.5L217.8 170.6L220 169.4L221.2 167.1M213.7 173.1L214.6 175.9L218.4 175.5L219.4 178.1L221.1 179.9M225 172.7L223.1 174.7L224.1 177.8L222.2 179.8M222.2 179.8L224.7 180.9L226.3 183M268.4 240.5L265.1 240.4L261.9 241M261.9 241L260.6 238.3L258.3 236.3M268.7 230.5L266.5 232.6L263.7 233L261.5 235.2L258.4 235M258.4 235L259.3 235.7L258.3 236.3M260.3 246.8L262.4 244.3L261.9 241M273 231.5L274.5 229.1L276.8 227.3L278.3 225M275.9 220.1L277.2 222.5L278.3 225M257.4 233.7L258.8 233.7L258.4 235M258 223.4L257.4 223.5L257.3 224.1M311 171.7L308.3 171.1L306.1 173.5L303.6 173.8L301 173M301.6 181.3L299.8 179.3L300.9 176.7L300.1 174.5M300.1 174.5L299.8 173.3L301 173M300.8 182.7L298.3 183.8L296.1 180.9L293.6 181.9L291.2 181.7M300.1 174.5L297.3 174.5L294.5 173.8L291.6 174.2M291.6 174.2L290.7 176.7L290.4 179.2L291.2 181.7M289.3 192.1L289.4 189.1L289.7 186.1L289.8 183.1M289.8 183.1L291.1 183L291.2 181.7M258.9 170.4L260.4 168.1L258.2 165.6L259.4 163.4M259.4 163.4L262.6 164.1L265.3 162.2M265.3 162.2L267.3 164.2L269.4 166.1L269.8 169.1M178 159.2L179.4 161.8L181.1 164.1M178 159.2L179.7 156.5L181 153.6M181.1 164.1L183.1 162.4L186.3 163.3L187.9 161L190.2 160M181 153.6L184.2 154.1L187.3 154.6M175.3 159.1L176.7 158L178 159.2M181.1 167.3L182.1 165.7L181.1 164.1M193.8 161.3L191.7 161.6L190.2 160M193.8 161.3L195.8 160.9L196.5 159M205.5 164.9L207.2 163.5L209.3 164.4M205.5 164.9L203 166.3L201.9 169M201.9 169L203.8 170.8L202.9 173.3M199.7 158.7L202.1 160.3L202.7 163.6L205.5 164.9M211.6 161.8L210.5 163.2L209.3 164.4M194.1 167L197.1 166.3L199.5 167.8L201.9 169M243.8 167.5L245.6 169.4L248.6 167.3L250.4 169.3M236.9 159.5L239.8 159.4L242.9 159.7L245.7 158.4M243.8 167.5L244.9 165.3L244.8 162.9L245.7 160.8L245.7 158.4M246.3 157.8L247 159.1L245.7 158.4M260.2 193.4L262.5 194.8L265.4 194.2L267.6 195.8M265.5 202.5L265.9 200.2L267.1 198.1L267.6 195.8M271 194L268.8 193.9L267.6 195.8M247.9 190.6L247.4 191.6L248.4 192.3M248.4 192.3L250.9 193.2L253.2 194.6L254.1 197.8L256.9 198.3M250.9 203.9L248.5 201.4L245.9 199.2M245.9 199.2L247 197L248.2 194.9L248.4 192.3M266.7 205.1L265.5 204.1L265.5 202.5M273.9 203.2L272.2 200.6L272.5 197.8L273.2 195M270.9 211.9L274 211.1L277.2 212M273.9 203.2L276 204.9L278.7 205.3M278.7 205.3L276.7 208.4L277.2 212M287 219.1L285 217.4L283.7 215M275.9 220.1L278.1 217.6L278.8 214.3M282.4 224.9L280.3 224.8L278.3 225M283.7 215L281.2 214.7L278.8 214.3M277.2 212L277.5 213.5L278.8 214.3M202.7 247.1L201.2 250.1L198.5 252.2M193.2 248.4L193.5 245.8L195.8 244.2L197.2 242.1L197.9 239.8M197.9 239.8L198.8 241.1L200.1 240.3M185.5 241.8L187.5 240.2L188.9 237.8L191.7 237.4M197.9 239.8L197.1 239.4L196.8 238.6M171.4 217L172.4 216.1L172.6 214.7M172.6 214.7L170.2 213.6L169.3 210.9L167.6 209.1L165.4 207.8M285.1 233.9L283 235.8L280.6 236.3L278 235.6M272.3 246.4L275 245.2L275.6 241.9L278.3 240.7M278.3 240.7L278.9 238.1L278 235.6M307.5 231.4L304.7 232.6L304.5 235.6M304.5 235.6L302.2 234L299.6 233.7L297 233.2M297 233.2L297.3 234.3L296.5 233.4M312.6 233.2L313.9 235.3L313.2 237.6M304.5 235.6L306.2 237.2L305.4 239.4M305.4 239.4L306.9 241.2L309.2 241M305.4 253.1L307.7 251.1L308.3 247.9L310.5 245.8M314.3 261.8L312.8 258.7L311.9 255.4M309.2 241L309.5 243.5L310.5 245.8M283.8 261.7L282 261.5L282.3 263.3M274.3 262.6L276.9 263L279.5 264.4L282.3 263.3M283.6 257.2L280.6 257.2L278.5 255.2M283.6 257.2L284.2 259.4L283.8 261.7M314.3 261.8L312.8 263.7L311.2 265.5L309.7 267.4M249.9 231.9L250 233.7L248.3 233.2M248.3 233.2L247.7 235.8L247.7 238.3L249.1 240.7M258.3 236.3L256.3 238.5L254.6 241L251.5 242.1M258.7 247.6L256.9 245.5L254.8 243.9L252 243.5M252 243.5L250.3 243.2L251.5 242.1M249 253L248.7 252.2L247.9 252.3M252 243.5L251.3 245.8L250.4 248.1L250.2 250.7L247.9 252.3M245.9 199.2L243.3 198.5L241.4 200.5M248.3 233.2L246.1 233.1L243.8 232.6M300 167.1L298.2 165.2L295.5 165.2M300 167.1L302.6 165.1L304.7 162.7M295.5 165.2L293.8 162.8L293.6 160L293.8 157.2M302.1 156.2L303.6 157.9L305 159.7M295.6 155.8L294.3 156L293.8 157.2M305 159.7L304.5 161.2L304.7 162.7M311.3 168.6L309.2 166.5L307.8 163.7L304.7 162.7M301 173L300.7 170L300 167.1M312.9 157.4L310.4 158.5L307.9 160L305 159.7M288.2 157.4L291 157.1L293.8 157.2M274 179.3L275.7 177.3L278.6 177.1L280.3 175.3M279.5 186.4L280.6 184.4L282.4 182.7L283 180.4M280.3 175.3L280.9 174.9L281.5 175.4M269.8 169.1L271.1 168.5L272.6 168.6M291.2 168.1L289.1 165.5L285.8 164.4M290.9 173.5L288.2 174.8L285.3 173.7L282.6 174.3M282.6 174.3L281.6 171.5L281.8 168.7L283.1 166M285.8 164.4L284.3 164.9L283.1 166M295.5 165.2L293.8 167.3L291.2 168.1M277 163.8L279.7 165.8L283.1 166M278 156.7L277.6 157.9L276.4 158.4M276.4 158.4L277.7 161L277 163.8M265.3 162.2L266.8 161.2L266.4 159.5M276.4 158.4L273.1 158.6L270.2 157.1M257.7 162.5L257.7 159L256.6 155.8M252.9 163.7L250.7 162L250.1 158.8L247.1 157.9M247.1 157.9L249.1 156.4L251.7 155.8L253.5 154M253.5 154L255 155.1L256.6 155.8M250.4 169.3L251.3 166.3L252.9 163.7M246.3 157.8L246.7 157.7L247.1 157.9M280.2 204.6L282.3 206.1L284 208.3L286.8 208.3M290.2 201.9L288.2 204.6L288 208M288 208L287.5 208.7L286.8 208.3M278.7 205.3L278.8 203.7L280.2 204.6M283.7 215L283.5 212.2L285.2 210.3L286.8 208.3M295.6 203L293 202L290.2 201.9M294.4 211.6L292.7 209.6L290.7 208.1L288 208M202.7 247.1L205 246.6L206.9 247.8M210.3 243.2L208.6 245.4L206.9 247.8M204.8 257.7L205.7 255.6L207.2 253.7L208.6 251.8M208.6 251.8L208.9 249.3L206.9 247.8M209.9 225.7L211.5 228.5L213.7 230.6L216.6 232.1M206.8 237.7L205.4 234.8L207 231.5L205.4 228.7M216.6 232.1L215.1 233.4L216.6 234.8M182.7 221.4L179.9 222.7L176.6 221.7L173.9 223.5M182.7 221.4L183.3 221.4L183.5 221.8M183.5 221.8L184.9 224.3L183.6 227L183.8 229.5M173.9 223.5L173.3 225.1L172.6 226.7M182 231.1L179.5 229.1L176 230.6L173.3 229.1M173.3 229.1L171.7 228.3L172.6 226.7M171.4 217L172.9 218.9L172.8 221.5L173.9 223.5M179.3 214.4L177.2 214L175.2 213.5M179.3 214.4L181.1 216.4L182.3 218.7L182.7 221.4M172.6 214.7L173.2 212.8L175.2 213.5M181 237.9L180.1 234.3L182 231.1M191.7 237.4L191.3 235.1L191.4 232.6L189.3 230.9M189.3 230.9L186.7 229.7L183.8 229.5M189.3 230.9L191.3 229.3L193.4 227.9M196.8 238.6L196.1 235.6L198 233.2L198.5 230.5M193.4 227.9L195.5 230L198.5 230.5M205.4 228.7L204.3 229.1L203.3 228.3M203.3 228.3L201.3 230.3L198.5 230.5M178 200.1L179.1 197.4L177.9 194.9L177.6 192.3L176.6 189.8L176.7 187.1M174.7 200.8L171.9 199.8L169.7 198.2L168.2 195.6M168.2 195.6L168.8 193.3L170.5 191.6L171.3 189.4L172 187.2M172 187.2L174.3 187.3L176.7 187.1M179.3 214.4L180.1 211.7L183.1 211.3L184.7 209.5M175.2 213.5L176.7 211L176.7 208.5L174.2 205.9L174.4 203.4L175.5 200.9M165.4 207.8L166.9 206L168.7 204.4L170.4 202.9L172.6 201.9L174.7 200.8M180.2 180.2L180.5 182.9L179.2 185.3M179.2 185.3L178.2 186.5L176.7 187.1M278.3 250L280.5 248.3L283.3 248M283.3 248L282.7 245.6L284.6 244M247.9 252.3L247.5 253.4L247.1 252.3M247.1 252.3L246 254.6L243.3 256L244.6 259.6L242.1 261.1M226.3 258.7L228.9 258.3L231.5 257.9L233.5 256L235.7 254.6M235.7 254.6L235.9 257.4L239.2 258.5L239.4 261.4M242.1 261.1L240.9 262.5L239.4 261.4M249.1 240.7L246.3 241.1L243.7 242L240.9 242.3M247.1 252.3L245.2 250.3L242.4 249.5M240.9 242.3L241 244.8L240.9 247.3L242.4 249.5M243.8 232.6L242.3 234.4L241.8 237L238.5 237.4L238.1 240.1M235.7 254.6L237 254.2L236 253.3M226.3 186.9L227.4 189.5L230.7 190L231.8 192.7M226.3 186.9L223.7 188.4L222.7 191.8L219.7 192.9M219.7 192.9L222.4 194.6L223.9 197.4M231.8 192.7L230.4 194.8L228.6 196.3L226.6 197.5L223.9 197.4M179.2 185.3L180.4 187.8L183.6 187.3L185.1 189.4M193.8 203.5L191.6 202.5L190.2 200.3L187.5 200.2M196.3 191.2L198.6 192.5L198.8 195.2L198.9 197.8L200.9 199.4M198.6 202.7L200.7 201.7L200.9 199.4M206.9 189.7L206.3 192.6L207.8 195.4L206.8 198.3M206.9 189.7L204.3 190.5L201.7 189L199.1 190.8L196.5 190.1M196.5 190.1L197.5 190.9L196.3 191.2M200.9 199.4L204 199.6L206.8 198.3M217.3 183.1L216.1 185.4L216.1 187.7L218 190L217.6 192.3M217.3 183.1L214.6 184.2L212 182.4L209.4 182.5M217.6 192.3L215.3 190.7L212.7 190.2L210.3 188.9L207.5 189.1M208.2 183.5L209.5 183.7L209.4 182.5M221.1 179.9L219.7 182.1L217.3 183.1M219.7 192.9L218.9 191.7L217.7 192.5M206.9 189.7L206.8 189L207.5 189.1M213.1 199.4L213.5 196.3L216 194.6L217.7 192.5M213.1 199.4L210.8 198.8L208.6 199.6M217.5 204.4L220.6 203.9L221.3 200.4L224 199.5M217.5 204.4L217.8 206.2L217.3 208M217.3 208L220.5 207L223.2 208.8L226.2 209M226.2 209L227.7 206.8L225.4 204.3L226.7 202M213.1 199.4L214.9 202.2L217.5 204.4M223.9 197.4L222.7 198.6L224 199.5M232.8 201.6L229.8 202.9L226.7 202M232.1 216.7L229.6 217.1L227 216.1L224.5 217.2L221.9 215.8L219.4 216.4M219.4 216.4L217.5 218.7L217.4 221.6M222 225.9L220.9 226.7L222 227.5M216.6 232.1L218.4 230.6L220 228.9L222 227.5M215.9 253.2L214.3 253.2L214.8 251.7M214.8 251.7L214.7 248.7L215.6 245.8M224.2 253.2L224.6 251.5L225.4 249.8M225.4 249.8L224.4 247L222.7 244.7L219.9 243.4M219.9 243.4L217.3 243.8L215.6 245.8M226.2 258.7L224.1 256.4L224.2 253.2M214.9 258L214.3 255.3L215.9 253.2M208.6 251.8L211.7 251.5L214.8 251.7M210.3 243.2L213.1 244.2L215.6 245.8M230.8 247L227.5 247.2L225.4 249.8M216.6 234.8L219.7 236.1L221.1 239.2M221.1 239.2L219.6 241L219.9 243.4M234 227.9L233.8 230.5L235.2 232.7L234.4 235.4L237.3 237.3L236.9 239.9M234 227.9L232.4 230.4L229.3 230L227.2 231.4M227.2 231.4L226.5 234.5L226 237.7M221.1 239.2L223.6 238.7L226 237.7M189.7 219.2L190 216.8L191.1 214.7M200.9 218.5L198.1 216.5L196.7 213.4M200.9 218.5L200.2 220.1L199.4 221.7M191.1 214.7L192 212.7L194.1 213M194.1 213L195.4 213.1L196.7 213.4M193.4 227.9L192.2 225.4L193.5 223.1M203.3 228.3L200.8 226.8L201 223.7L199.4 221.7M193.8 203.5L194.7 205.9L193.8 208.3L193.8 210.7L194.1 213M202.8 208.7L201.1 210.8L197.9 210.7L196.7 213.4M285.1 233.9L287 236.6L288.7 239.3M296.5 233.4L295.1 234.2L295.5 235.8M295.5 235.8L293.9 238.3L290.9 238.1L288.7 239.3M284.6 244L285.7 241.9L288.1 242M288.7 239.3L289.6 240.9L288.1 242M196.2 189.5L192.9 188.7L190.3 186.7M196.2 189.5L197.8 187.3L198.3 184.8L199.8 182.6L199.3 179.7M190.3 186.7L190.1 184.3L190.4 181.8L187.6 179.9L189.6 177L188 174.9M196.5 190.1L196.3 189.8L196.2 189.5M208.2 183.5L205.8 183.1L204.2 180.6L201.9 179.8L199.3 179.7M202.9 173.3L200.2 175.4L198.8 178.6M207.8 206.6L206.7 208.9L204.2 209M207.8 206.6L209.9 208.8L213.5 208L215.7 210.2M204.2 209L205.2 211.7L206.5 214.3L207.3 217.1M215.7 210.2L214.7 210.8L215.6 211.5M215.6 211.5L214.3 213.8L211.6 214.2L209.7 215.6L208.1 217.5M207.3 217.1L207.7 217.3L208.1 217.5M202.8 208.7L203.2 210.1L204.2 209M208.6 199.6L207.1 201.8L208.8 204.3L207.8 206.6M217.3 208L215.6 208.4L215.7 210.2M210.6 223.6L209.3 220.6L208.1 217.5M292.1 245.5L294.8 245.8L296.4 242.7L299.2 243.2M292.1 245.5L293.1 248.2L292.5 251L292.5 253.7M300 243.5L299.8 242.9L299.2 243.2M300 243.5L300.7 246.1L302.5 248.3L303.2 250.9L303.7 253.5M295.5 235.8L297.3 238L297.6 240.9L299.2 243.2M287.5 253.7L290 254.6L292.5 253.7M290.8 263.6L292.8 261.4L295.5 259.8L297 257M305.4 239.4L302.5 241.3L300 243.5M309.7 267.4L309.2 264.9L307.1 263.5L304.9 262.1L304.4 259.6L303.3 257.5L301.5 255.9" fill="none" stroke="#b07ac0" stroke-width="0.9" stroke-linecap="round"/>
<ellipse cx="205" cy="203.5" rx="5" ry="4.5" fill="#d9709f"/>
<path d="M203.6 202.8l0.3 0.3M208.5 202.9l0.3 0.3M205.7 202.4l0.3 0.3M205.4 204.8l0.3 0.3M204.8 206.8l0.3 0.3M204.4 203.1l0.3 0.3M203.8 203.6l0.3 0.3M206.7 202.5l0.3 0.3M204.8 204.3l0.3 0.3M204.7 200.8l0.3 0.3M206.3 203l0.3 0.3M205.9 202.4l0.3 0.3M202.9 203.6l0.3 0.3M205.1 202.2l0.3 0.3" stroke="#eaa6c6" stroke-width="1.6" stroke-linecap="round"/>
<path d="M169.9 182.4l-0 1.4M311 205.1l0.7 1.2M249.9 261.6l-0.7 0.4M249.5 261.8l-0.4 0.5M253.9 259.4l0.7 -0.6M260 179.5l-1.4 -0.2M256.2 177.2l-1 -0M252.8 176.7l-0.9 -0.4M251.2 176.4l-0.5 0.6M251 176.8l-1.1 0.9M250.6 178.7l0.2 0.7M306.7 179.8l1.1 0.5M310 182.1l0.2 1.7M312.9 185.7l0.4 1.1M312.3 187.6l-1.1 0.5M311.8 190.2l0 -1.2M306.6 196.5l0.5 -1.5M310.5 176.6l0.6 1.2M171.5 234.5l-0.3 1.1M172.7 237.6l0.6 1M174.2 240.1l-0.5 1.3M174.5 241.5l-1.1 0.7M205.1 258.5l-0.6 -1.4M196.8 260l0.7 -1.1M205.5 257.7l-1.6 0.1M237.3 262.8l-0.7 1M231 263.3l-0.5 0.6M219 263.1l-0.5 -0.7M217.2 261.8l-1.1 -0.8M212.3 259.6l0.7 0.3M206.4 260.6l1 -1.1M311.1 212.3l-0.2 0.6M311.5 224.2l-0.7 -1.3M313.1 221l0.4 1M268.2 263.3l0.5 0.4M271.9 262.2l1 -0.2M269.5 254.9l-0.2 -0.7M263.7 257.4l0.7 -0.5M267.3 252.9l0.7 -0.1M250.9 254.4l-0.2 1.5M251 259.1l0.7 0.5M259.2 255.7l-1.1 -0.6M257.1 252.8l0.2 -1.3M287.1 158l1 -0.1M287.8 157.7l0.7 -0.5M222.6 155.6l1 -0M224.7 153.3l0.5 -1.6M227.1 154.8l0.8 0.8M230.5 158.9l-0.6 0.6M228.5 162.7l-1.3 -0M217.5 156.5l1.3 0.7M219.7 156.6l1.4 -0M169.9 162.4l-0.6 0.4M216.2 156.5l-0.3 0.7M213 159.6l-1.1 0.8M251.5 173l0.7 -1.4M264.2 175l-1.5 -0.5M261.9 172.5l-0.7 -0.7M256.6 171.1l-0.8 0.8M238.9 175.5l-0.6 0.1M232.4 171.8l-0.1 0.9M232.9 173l-0.8 -1.1M229.1 163.8l0.9 1.2M231.1 165.8l1.1 0.3M232.9 167.7l0.2 0.7M256.9 187.4l1.1 1M263.9 179.2l0.4 0.9M265.2 181.7l1 1.2M260.1 191l0.3 -1.5M263.6 186.6l1.4 -0.8M274 179.1l-0 0.7M273.8 181.9l0.4 0.8M267.3 185.9l1.3 0.5M264.2 214.4l-0.7 -0.1M267.4 206.4l1.4 -0.9M271.1 194.3l0.2 0.8M296 191l-0.7 0.8M302.4 198.7l-1.4 0M305.6 227l-1.4 0.2M306.4 227.4l0.3 -0.7M308.2 223.4l-0.8 -0.3M304.3 217.5l-0.8 -0.8M295.6 204.4l-0.1 1.1M296.2 205.8l0.5 1M183.7 262.6l-1 0.3M179.5 262.3l-1.4 -0.1M180 248.8l-1.2 -0.5M180 251.5l0.1 1.2M180.3 252.5l-0.3 0.7M178.5 256l-1.1 -0.1M189.1 252.9l0.6 -1.1M190 249.8l0.8 -1.3M184.7 243.7l-0.9 0.5M200 256.6l-0.9 -1.4M185.2 242.2l0.5 -0.6M181.8 238.1l1.3 0.6M184.4 239.8l0.6 0.8M173.1 176.4l1.5 0.3M179.6 179.6l0.6 0.5M176.4 167.5l-0.8 0.9M223.7 171.6l-0.7 -0.3M211.3 160.4l-0.5 1M210.8 160.9l0.9 0.9M283.5 224.1l-0.9 0.6M311.5 173.4l-1.3 -0.8M310.6 172.6l0.4 -1.2M317.9 161.9l-1.1 1.2M311.3 170.9l0.4 -0.6M315.7 160l-0.9 -0.1M313.8 158.3l-1.2 -1M274.1 258.3l0.8 -0.5M268.4 253l0 -1.1M267.7 251.4l0.7 -0.6M272 246.2l0.1 -1.1M274 247.2l0.5 0.5M313.1 232.9l-0.8 0.6M307.1 228.4l0.5 0.6M309.7 231.2l-1.5 0.6M266.6 249.8l-0.7 -0.2M257 250.2l-0.1 -1.4M256.7 249.5l1.4 -1M258.3 248l1.1 -1M259.5 247l1.5 -0.4M242.6 185l0.4 1.4M248 176.9l-0.6 -0M250.8 188.6l-0.3 1M248.9 190.1l-1.5 0.8M251 232.3l-1.1 -0.2M250.5 230.6l0.2 -0.8M251.1 228.4l-0.5 -0.8M253.6 224.7l1.4 -0.5M252.6 211.8l-0.7 0.9M267.7 224.6l-0.6 0.3M258.5 221.6l0.6 0.3M258.7 222l-0.4 1.1M220.1 169l0.8 -1.4M216.1 175.9l0.7 -0.4M225.5 172.5l-1.1 0.6M223.3 178.7l-0.6 0.4M222.8 180.1l0.7 0.1M267.6 240.4l-1 0.2M264.5 240.6l-0.6 -0.1M262 234.5l-0.3 0.7M259.4 234.8l-1.6 0.6M258.7 235l0.5 0.9M261.1 245.9l0.4 -0.6M276.1 220.1l0.4 1.3M259 233.2l-0.5 1.6M258.3 223.1l-1.2 0.6M310.8 171.8l-1 -0.5M305.6 173.6l-1.5 0.1M300.5 176.1l-0.1 -1.3M297.1 182.4l-0.2 -0.6M295 181.6l-1.6 0.1M300.4 174.6l-0.8 -0.3M295.5 174.1l-0.9 -0.3M293.9 173.7l-0.7 0.4M291.2 174.9l-0.1 1.4M290.9 180.1l0.1 1.6M289.6 190.2l-0.4 -1.5M290.4 183.1l1.1 -0.1M290.9 183.4l0.4 -1.3M258.8 166.5l-0.6 -0.8M264.8 162.7l0.6 -0.6M267.9 164.5l0.9 1.4M180.3 155.4l0.5 -1.3M184.3 162.6l1.4 0.7M187.1 161.9l0.7 -0.6M188 160.7l1.4 -0.1M175.1 159.5l0.7 -1.2M176.8 157.8l0.8 1.4M194.1 161.2l-1.2 0.2M193.5 161.6l1.3 -0.8M208.2 164l0.9 0.2M205.4 165l-0.7 0.3M199.3 158.7l1.5 0.5M202.8 163l-0.1 1M249.9 168.7l0.5 0.5M245 165.1l-0.4 -1.4M245 162l0.7 -1.1M245.7 159.7l0 -1M246.1 157.8l0.6 0.6M261.8 194.5l0.9 0.4M265.4 194.3l0.9 0.3M265.5 203.2l-0 -1.6M271.7 194l-1.5 0.1M269.3 193.5l-1.2 1.2M253.2 194.2l-0 0.9M247.1 200.4l-1 -1.1M266.7 205l-1.1 -0.7M272.5 201.3l-0.5 -1.1M275.9 211.8l0.9 -0.1M275.9 205l1.5 0.1M277.2 218.6l0.6 -0.7M282.3 225l-1.6 -0.3M280.7 214.6l-1.2 -0.1M277.1 213l1 1.1M202.6 248l-1.2 1.1M198.7 241.1l1.1 -0.5M190.6 237.6l0.6 -0.3M197.1 239.4l-0.2 -0.6M169.4 211.9l0 -1.4M283.7 235l-0.6 0.8M274 245.4l1.2 -0.1M275 244.8l0.4 -1.5M278.9 238.1l-0.4 -0.6M307.8 231.3l-0.9 0.4M297.2 233.6l0.1 1.3M312.3 233.1l0.7 0.6M314 235.3l-0.6 0.9M305.4 236.3l0.7 1.1M306.9 251.8l0.5 -0.4M307.9 248.8l0.6 -1.2M309.1 241.2l0.3 0.8M309.8 244l0.2 0.7M284.2 262l-1.4 -0.6M312.6 263.7l-0.2 0.6M310.8 266.1l-1.1 1.1M248 234l0.1 1M248.7 240.3l0.6 0.5M257.5 246.4l-0.3 -0.6M256.1 245.1l-0.8 -1.2M255.5 243.7l-1.6 0.4M251 246.5l-0.3 0.9M250.3 249.5l-0.1 1.5M249.6 251.2l-1.2 0.7M244.5 199.1l-1 -0.7M242.1 199.7l-0.8 0.8M244.6 232.6l-1.4 0.1M299.6 166.9l-0.7 -1.3M294.3 163.5l-0.3 -0.5M293.6 160.3l0 -1.3M302.1 155.9l0.4 0.8M295 155.8l-0.7 0.4M304.9 159.5l-0.2 1.5M300.6 169.7l-0.1 -1.2M306.3 159.8l-0.6 0.1M287.9 157.3l0.8 0.2M275.1 177.4l1.6 -0.4M280.1 175.5l0.9 -0.6M281.1 175.1l0.7 0.6M281.8 165.9l0.7 0.1M278.1 156.4l-0.4 1.4M277.1 158l-0.5 0.4M257.6 159.2l-0.1 -1.4M251.3 162.4l-1 -0.7M247.2 157.8l0.6 -0.6M254.3 154.7l1.3 0.7M254.8 155l0.6 0.2M245.9 158l0.9 -0.4M246.6 157.5l0.8 0.7M289.6 202.6l-0.4 1.1M288.1 204.4l0.2 1.6M278.4 203.6l1.2 0.6M283.7 215l-0.1 -0.7M291.2 201.8l-0.9 0.2M292.8 209.8l-0.6 -0.6M207.3 247.2l-0.4 0.6M205.1 256.9l0.3 -0.7M208.7 252.2l-0.3 -1.2M209.2 249.3l-1.3 -0.6M206.2 229.7l-0.9 -0.8M216.7 231.9l-0.8 0.8M215.1 233.5l0.5 0.5M180.9 222l-1.1 1M182.4 221.6l1 -0.4M183.9 222.4l0.1 0.7M184.1 225.8l-0.1 0.7M171.9 227.8l0.5 -0.7M171.9 217.7l0.5 0.7M178.7 214.4l-0.8 -0.3M182.6 219.7l-0.2 0.8M172.4 215.2l0.5 -1.4M174 213.1l1 0.2M180.8 236.4l-0.5 -0.9M181.3 232.5l0.6 -1.2M191.5 234.2l-0.3 -1.1M190.9 232.4l-0.8 -1M194.2 228.7l0.5 0.4M199.9 230.6l-1.3 -0.2M178.7 197l-0.1 -1.4M177 190.8l-0.6 -1.2M176.7 190.2l-0.2 -1.1M169.8 198l-0.9 -0.9M170.1 192.4l0.7 -1.5M180.2 211.7l1.5 -0.1M183.5 210.7l0.7 -0.6M175.4 212.6l1.2 -0.9M174.2 205.3l0.3 -1.6M174.4 203.4l0.4 -1.2M166.5 206.5l0.9 -1.1M167.9 205.1l1.2 -0.9M178.4 186.5l-1.4 0.4M278.7 249.5l1 -0.4M281 248.3l1.1 -0.3M283.2 247.5l-0.2 -0.6M282.5 246.1l0.5 -0.9M248 252.6l-0.7 1M246.6 253.5l-0.4 0.8M243.8 257.4l0.4 0.9M243.4 260.2l-0.4 0.5M230.1 258l1.1 0M232.6 256.8l0.7 -0.6M236.6 257.6l1.1 0.5M246.9 251.9l-0.8 -0.5M238.5 238.1l-0.3 1.4M236.1 254.4l1.5 -0.4M237.2 254.3l-1.2 -1M226.9 188.5l0.5 0.8M230.5 189.6l0.4 1.1M223.2 190.3l-0.5 1.2M225.6 197.6l-1.1 -0.3M198.6 192.8l0.1 1.5M198.6 197.7l0.6 0.2M199.8 202.4l1 -1.1M206.5 192.5l0.3 1.2M207.6 195.8l-0.2 1.4M197.4 190.9l-0.7 0.3M200.7 199.4l0.9 -0.1M204.4 199.6l0.9 -0.7M216.7 184l-0.2 0.8M216.2 191.1l-0.8 -0.3M215.5 190.7l-0.7 -0.2M210.5 188.9l-1.7 0.2M208.2 183.6l1 0.1M220.4 182.1l-1.5 0.1M219.7 193.3l-0.2 -1M206.9 190.2l0 -1.1M216.5 194.3l0.6 -1.6M221.3 201l-0 -0.7M217.6 204.4l0 1M216.6 208l1.7 0M227 206.2l-0.7 -1.1M226 203.6l0.1 -0.8M215.3 202.7l1.4 0.7M228.2 216.8l-1.1 -0.9M218 231.2l0.8 -1.1M214.4 252.5l0.8 -1.4M214.9 251.9l-0.2 -1.3M224.3 252.7l0.3 -0.7M224.2 251.8l1 -1.2M225.3 250.4l-0 -1.6M222.2 244.5l-0.8 -0.4M219.4 243.2l-1.5 0.7M226 258.7l-0.5 -1.2M214.5 255.3l0.8 -1.5M212.1 243.8l1 0.4M212.9 243.9l0.7 0.9M219.5 235.6l0.8 1.3M219.6 241.2l0.2 0.8M233.9 228.4l0.1 0.6M227 232.1l-0.2 1.1M226.3 235.1l-0 1.2M221.4 239.1l0.7 -0.1M191 215.2l0.2 -0.6M200.4 219.6l-0.6 1.4M194 203.6l0.1 1.1M193.8 208l0.1 1.7M194 211.8l0.1 0.8M285.3 234.4l0.8 0.8M288.1 238.4l0.8 1.2M287.3 241.8l1.5 0.5M289.3 241.1l-0.6 0.5M190.6 187l-0.5 -0.5M199.8 181.9l-0.4 -0.6M190 184.9l0.1 -0.6M188.8 178.4l0.2 -0.7M196.5 190.2l-0.3 -0.6M199.2 177.7l-0.5 1.1M207.7 206.5l-0.4 1.1M204.9 209l-0.6 -0.1M210.8 208.8l1 -0.6M214.1 208.5l0.4 0.5M205.7 212.9l0.6 0.9M214.7 213.7l-1.1 0.1M211.7 214.4l-0.8 0.2M209.2 215.8l-0.6 1.3M292.7 247.3l0.5 1.1M299.6 243.1l-0.6 0.1M300.2 244.8l0.3 0.7M300.8 246.5l0.6 0.4M303 249.8l0.1 1M303.1 250.9l0.4 0.7M297.4 238.1l-0.1 0.9M298.5 242.3l0.9 1.1M287.6 253.6l1.4 0.8M295.1 260.1l1.1 -1.2M309.6 266.6l-0.3 -1.5M308 264l-1.1 -0.6M304.8 261.5l-0.3 -1.5M252.1 193.6l0.4 1.7M254.8 175.3l0.2 0.6M253.7 176.4l-0.3 1.7M250.8 189.6l-0.7 0.5M251.2 188.4l-0.3 0.8M253.4 186.9l1.1 0.2M248.3 182.5l1 0.5M245 183.7l-1 0.7M250.5 194.1l1 1.5M249.7 174l-1.5 0.5M243.6 177l1.7 0.3M249.4 195.5l0 1.2M246.5 175l0 1.6M250.6 181.5l0.9 0.2M254.7 195.2l-0.7 1M251.1 186.9l-0.2 1.7M246.3 172.8l-0.4 1.1M247.2 187.3l0.5 0.8M244.8 173.8l-0.3 1.4M241.9 186.1l0.6 1.4M249.5 180.7l-0.6 0.1M250.1 196.4l-0.4 1.6M243.3 187.4l-0.5 1.3M252.4 191.1l-1.3 0.7M254.7 195.3l-0.8 0.3M253.8 176.1l-1.2 0.4M252.9 181.1l-0 0.7M252.8 186.2l1.1 0.5M271.6 209l1.7 0M279.9 206.6l-0.1 0.9M263.8 207.1l0.4 0.5M276.2 207.1l1.2 0.9M275.8 208l0.2 1M268 209.4l-0.8 0.9M275.3 202.8l0.8 0.4M273.6 204l-0.7 0M272.2 203.6l0.2 0.7M279.2 205.8l0.9 0.7M267.7 208.9l0.6 0.4M274.9 201.1l0.4 1.7M178.7 166.8l-0.8 0.9M183.6 163.4l1.1 0.2M183.3 166.7l-0.6 0.8M186.9 172.4l-0.5 0.6M185.6 170.2l-0.8 0.6M179.1 167.2l1.2 1.1M183.2 162.6l1.5 0.1M192.9 165.6l1.7 0.5M185.1 170.5l-0.1 1.7M185.1 165.1l-0.6 0.2M187.5 167.4l1.1 0.4M187 165.8l0.7 1M188.5 172.4l-0.5 0.3M188.2 168.7l-0.5 0.4M183.5 169.2l0.1 0.6M202.8 221.8l0.5 1.2M205.5 219.4l1.2 0.3M208.1 225.4l-0.5 1.3M205.3 223.8l-0.6 0.5M201.2 222.2l0.5 0.4M200.8 224.8l-0 0.9M207.5 227.5l0.6 0.9M203.7 220.1l-0.1 1.6M196.9 225.2l1 0.8M199.4 225.5l0.1 0.8M289.8 239.8l-1 0.9M287 238.8l-0.5 1.5M289.7 240.1l-0.7 0.1M291.2 237.3l1.3 0M290.7 237.3l0.4 0.5M288.4 236.6l1.3 0.3M291.6 235.9l-1 0.8M279 236.4l0.2 0.9M282.1 238.4l0.5 1.6M286.9 238.8l-1.2 0.8M282.7 235.8l-1.2 0.5M286.8 237.1l0.3 1M297.5 175.8l0.3 1.2M302.3 167.5l0.4 1.3M303.8 173.7l-0.6 0.2M297.3 166.8l-0.6 1.2M293.9 167.8l0.2 1.3M298.9 174.4l0.7 1.3M291.2 169.8l-1.2 0.3M295.6 168.5l-0.4 0.4M293.6 166.2l-1.4 0.7M291 172.6l-0.9 0.6M301.9 168.9l-0.5 0.9M294.7 166.8l0.4 1.5M293.2 170.7l-0.7 0.6M300.9 174.4l0.9 0.6M230.6 160.6l0.9 0.1M236.7 165.4l0.2 1.2M235.3 162.9l-1.1 0.7M229.7 160.1l-1 1.1M226.5 165.8l-0.6 0.4M224.2 163.5l0.3 1.4M233.9 160.2l-0.5 1M230.8 160.1l-0.7 0.7M231 161.5l-0 0.8M234.3 162.1l0.6 0.4M228.5 164.7l0.1 0.9M180.2 247.5l0.5 0.5M184.1 248.8l-0.4 0.6M177.5 249.5l-0.1 1.5M178.4 249.6l-1 0.9M173.7 251.6l-0.3 0.7M183.6 253.4l-0.3 1.1M177.8 254l-1.4 0.7M177.2 250.1l0.1 0.8M184.3 251.8l-1.2 1.2M182.8 252l-0.2 0.7M179.8 252.7l1.3 0.2M253.8 245.8l1.5 0.5M252.8 246.4l0.1 1.6M254.7 249.5l-0.9 0.3M258.9 248.5l-1.6 0.4M257.6 253.3l-0.5 1.4M258.4 250.7l0.8 0.1M258.3 248.3l0.2 1.3M257.9 248.6l0.2 1.3M256.8 249.1l-1.6 0.4" stroke="#b27cc4" stroke-width="1.4" stroke-linecap="round"/>
<path d="M170.1 180l-0.4 1.5M259.8 179.6l-0.6 1.4M257.3 182.8l-0.4 0.7M255.6 186.1l-0 0.7M251.5 183.4l-0.8 1.3M300.5 183.5l0.4 -0.9M310.8 183.8l1.5 0.5M313 193.9l-0.9 0.1M304.9 190.7l-0.3 -0.6M310.5 203.3l-1.4 -0.7M190.2 260.3l-1.2 -0.3M206.2 260.1l-1 -0.6M193.4 261.6l0.7 -0.1M236.1 263.7l-0.7 -0.5M214.9 258.7l0 -1.1M312.6 209.1l-0.6 1.4M274.1 262.4l-0.9 0.8M229.7 156.7l1.2 0.6M174.7 159.5l-0.6 0.4M259.9 179.5l1.6 -0.1M266.9 205.1l-0.1 1.1M300.1 190.3l-1 -0.1M304.8 199.4l-0.6 -0.1M303.3 212.4l-0 -0.8M303.9 208.9l-0.1 -1.4M307.7 224.9l1.1 -1.2M310.8 223.3l-1 0.3M296.9 202l-0.4 0.5M175.6 245.8l-0.5 -0.7M188.4 253.7l1.2 -0.2M187 244.5l-0.8 -0.8M175.1 257.6l-0.2 -1.6M194.9 249.2l-1.5 -0.4M185.7 242.7l-0.5 -0.3M175.5 177.4l1.6 -0M179.5 168.9l-0.4 0.5M222.3 170.5l-0.5 -0.9M316.1 164.7l-0.3 1M315.5 166.1l-0.6 0.8M316 228.9l-1.3 0.7M311.9 232.5l-1.3 -0.6M262.8 248.6l-0.8 -0.7M243.1 186l1.3 0.5M245.9 187.7l0.2 1.1M253.9 233.6l-1.4 -0.7M256.4 231.4l0.9 -1.1M257.3 226l-0.2 -1.6M252.1 202.2l-0.7 1.3M267.2 221.2l0.8 1.4M268.8 219.4l0.6 -1.4M236.7 184l-0.7 0.1M216.8 171.1l0.5 -0.5M214.4 175.3l0.2 0.7M218.7 176.7l0.7 1.1M219.4 178.1l0.7 0.8M261.7 240.3l-0.9 -0.8M277.6 223l0.3 1.3M257.2 223.3l0.3 0.9M301.1 182.6l-0.9 0.2M290.5 177.7l0.1 1.5M259.7 169.2l0.6 -0.7M179.4 157.3l0.2 -0.9M205.2 165l1.2 -0.9M202.8 166.7l-0.4 1.3M211.7 161.7l-0.6 0.7M210.5 163l-0.6 1.2M193.8 166.9l0.7 0.1M196.7 165.8l0.9 1.2M201.3 168.4l1.1 1.2M242.3 159.8l1.2 -0.1M250 192.8l0.7 0.5M250.9 193.3l1.1 0.5M250.7 203.9l-0.2 -0.6M272.4 200.1l-0.2 -0.9M272.9 195.6l0.6 -1M276.8 208.3l0.1 1.7M197.9 239.6l0.5 1.3M172.3 216.2l0.3 -1M169.4 211.4l-0.4 -1.1M278.9 235.8l-1.5 -0.4M281.9 262.6l0.6 1.1M284.3 259l-0 1M250.5 243.1l0.7 -0.8M251.4 244.5l0 1.3M311.7 157.9l-1.3 0.7M310.4 158.9l-1.7 0.3M280 185.5l0.6 -1M277.5 162.5l-0.7 1.3M252.5 154.7l1.3 -0.7M281 205l0.5 0.7M282.9 206.9l0.7 0.9M283.8 212l0.3 -0.7M205.6 255.9l0.9 -1.2M213.6 230.5l1.2 0.5M205.9 233.4l0.7 -0.7M177.4 221.8l-0.9 0.1M182.9 221l0.7 0.8M172.7 228.8l-0.9 -0.6M173.1 221.9l0.3 0.7M181 216.6l0.6 0.7M184.8 229.8l-1.1 -0.6M190.1 230.2l0.5 -0.3M204.4 229.3l-0.5 -0.6M171.4 199.2l-1.4 -0.5M176.6 210.2l0.2 -1.3M172.5 202.2l1.1 -1.2M243 242l-1.6 0.4M241.2 247.5l0.2 1M243.2 233.3l-0.4 0.6M228.4 189.7l1.5 0.3M225.9 187.2l-1.3 0.5M230.7 194.6l-1 0.7M228.5 196.3l-1.2 0.9M179.8 186.5l0.3 0.6M199 196.3l-0.3 0.8M206.5 190.5l0.2 1.2M211.2 189.5l-0.8 -0.6M210.6 199l-1.3 0.4M222.8 208.5l1.5 0.6M214.7 201.8l0.4 0.7M225.3 217l-1.1 0.2M223 216.6l-1 -0.9M224.2 246.9l-0.7 -1.4M210.3 251.7l0.8 -0.2M220.9 239.5l-0.7 0.7M229.9 230l-0.8 0.1M191.6 213.2l0.6 -0.7M201.7 227.3l-1.3 -0.7M295.4 235.7l-0.2 1M290.7 238.3l-1.3 0.6M284.6 243.8l0.6 -0.7M196.5 189.8l-1.4 -0.9M190.1 184.8l-0.1 -1M188.6 175.7l-0.4 -0.7M208.1 183.5l-1.4 -0.3M200.1 179.6l-1.4 0.3M215.3 210.3l-0.7 0.6M290.1 254.7l0.7 -0.4M301.3 242.5l-0.7 0.3M306.3 262.8l-1 -0.3M303.7 258.2l-0.5 -0.9M251.6 193.3l0.9 0.3M246 190l-0.9 0.8M243.6 185.2l-0.4 1.5M243.2 190.5l1.7 0M246.6 195.3l-0.7 0.2M254.3 173.3l-0.8 0.6M250.2 194.1l-0.5 1.4M254.9 179.7l-1.1 1.1M250.2 191.5l0.7 1.1M250.6 198.2l-1.2 0.2M243.4 177.4l-1.2 0M242.4 184.4l-1.5 0.1M255 175.1l0.9 0.7M253 178.3l-0.8 0M266.6 199.7l-0.3 0.9M271.2 206l-1.1 0.8M274.8 206.3l0.8 0.2M268.9 205.2l-1.6 0.6M266.1 204.4l0.6 0M271.5 203.7l1.4 0.9M183.8 168.3l0.7 1.1M184 163.9l1.6 0.2M186.5 170l0.9 0.8M194.7 168.5l-0.2 0.9M202.4 223.1l0.3 1.4M201 224.5l0.2 1.1M212 221.6l-1.2 0.4M206.4 218.4l1 0.6M203.8 224l-0.1 1.3M205.9 225.8l0.7 1.2M200.7 228l-0.5 0.4M284.1 239.5l-0.2 0.6M286.5 234l-1.2 1.3M281.4 231.7l-1.5 0.9M277.7 233.8l1 0.2M276.8 233l-0.8 1.2M293.7 170l1.1 0.4M296.8 175.4l-0.3 0.7M303.9 170.3l-0.8 0.2M300.1 174.6l1.3 0.3M290.6 168.8l-0.2 0.9M293.5 173.4l1.6 0.5M230 161l1 0.3M228.5 166.6l0.6 1.2M180.5 250.7l-0.5 1.7M178.1 254.2l0.3 0.8M175.5 252.1l-0.9 1.1M254.8 247.3l1.3 1.2" stroke="#dc72b0" stroke-width="1.6" stroke-linecap="round"/>
<path d="M311.3 206.2l1.1 0.9M256.1 258.9l1.1 0.8M256.9 178l-0.5 -0.4M251.8 181.6l0.3 0.6M251.3 185.7l0.6 0.9M300.7 186l-0.4 -1M301.8 181.3l0.8 0.1M305.4 180.9l0.5 -0.7M312.3 191.7l-0.4 -0.8M310.6 195.5l-1 1.2M308.1 198l-1 0.4M306.6 194l-0.7 -1M311.9 173l-0.5 1M310.3 179.2l-0.3 0.6M309.6 202.1l-1.3 0.5M307.1 198.4l-0.7 0.4M306.2 199l0.2 1M306.8 201.9l-0.2 -0.9M306.7 201.1l-0.5 -0.8M172 236.8l0.6 0.5M194.2 261.9l-1.3 -0.7M184.8 261.8l0.7 -0.4M185.6 261.1l0.5 -0.6M199.4 256.8l0.5 -0.6M200.5 257l-0.9 -0.9M207.5 260.5l0.5 -0.5M213.4 259.2l0.7 -0.6M207.2 259.8l0.3 0.9M317.7 228.5l-0.3 -0.9M315.5 225.7l-0.7 0.1M313.2 218.5l-0.7 0.2M311.7 222.8l-0.9 0.9M269.9 262.9l1.4 -0.7M273.4 262.8l1 0M259 259.2l0.2 -0.8M258.7 259.2l1.1 -1.1M263 258.2l-1.1 0.3M261.3 258.8l-0.8 -1.1M274.1 262l0.6 -0.5M275.3 260.1l-0.9 -1.4M273.9 257.5l-0 -1M273 255.3l-1.2 0M265.5 255.2l0.2 -1.3M248.8 252.8l1 1.1M260 257l-0.1 -1M225.4 152.5l0.3 0.9M229.4 160.8l-1 1M225.6 162.4l-1.1 0.8M234.2 157.6l-1.1 -1.3M232.5 156.6l-0.5 0.7M170.5 153.6l0.6 0.8M172.1 157.1l1.4 0.8M173.2 157.7l0.7 0.7M261.7 178.9l0.8 -0.1M251.4 175.9l-0.4 -0.5M261.2 171.4l-1.3 -0.2M257.3 170.8l-1.3 0.5M253.2 172.5l-1.1 -0.5M237.6 175.4l-0.7 -1.2M236 173.3l-0.8 -0.2M236.9 165.5l-1.3 0.4M234.3 166.8l-0.7 0.9M233.1 168.3l-0.5 1.1M233.8 174l-0.8 -1.2M236.8 159.3l-0.8 -0.3M235.3 158.3l-0.8 -0.8M259.2 189.7l0.4 0.5M266.5 185.4l-0.2 0.8M261.9 187.7l0.5 -0.3M268.3 186l0.7 1.2M265.8 214.7l-0.8 -1.1M259.8 212.4l-0 1M260.6 213.7l0.9 0.5M272.6 195.3l1.2 -0.5M300 189.8l-0.6 0.8M300 198.5l-0.8 -0.1M298.5 198l-0.2 -0.6M297 195.4l-0.5 -1.6M303.6 213l-0.4 -1.2M301.2 227.2l-1.4 0.2M305.7 220.9l0.1 -1M310.3 223.7l-1.3 -0.4M306.5 205l-0.3 0.6M305.1 205.8l-0.9 0.9M298.6 198.5l0 1.4M174.7 245.2l-0.8 -0.6M179.5 248.2l0.1 0.9M190.4 248.7l-0.2 -0.6M188.4 245.6l-1.2 -0.5M183.1 245.1l-1.4 0.8M181.4 245.7l-0.4 1.4M177 260.4l-1.3 -0.9M198.6 253.2l-0.1 -0.6M190.9 247.9l1.3 -1M192.6 247.8l0.7 0.6M197.9 251.8l-0.9 -0.9M175 239.4l0.5 -0.6M176.2 238.5l1.3 -0.7M179.6 237.9l1.6 -0.1M178.5 169l-1 -0.5M173.1 171.1l-0.7 -0M224.2 163.7l-1.6 0.3M221.5 165.4l0.2 0.8M285.9 219.8l-1.1 0.4M284.5 222.6l0.1 0.7M282.8 226.2l1 0.8M284.7 228.5l0.5 0.7M313.6 168l-1.5 0.5M311.7 169.9l-0.4 -0.9M318.1 161.1l-1.2 -0.9M277.4 255.7l1.1 -0.3M270.1 249.3l1 -0.3M271.6 247.2l0.4 -1.4M272 245.7l-0.2 0.8M274.6 247.7l1.1 0.2M276.6 248.1l0.9 1.3M315 231.2l0.2 1M307.6 230.2l0 0.6M266.2 249.9l-1.4 -0.7M241.8 182.7l0 0.7M246.4 177l-0.5 0.7M244.7 178.4l-1.3 0M257.2 233.6l-0.6 0.2M257.4 233.7l-0.1 -0.8M257.4 228.5l-0.2 -1.5M250.9 225.3l1.5 0.1M255.6 223.9l1.2 0.3M260.5 210.3l-1.6 0.3M257.9 210.9l-0.9 0.7M255.1 212.2l-1.3 -0.4M250.2 213.5l-1.3 -0.1M261.7 214.2l0.3 1.5M260.6 218.7l-0.5 1.3M258.6 220.3l-0.7 0.2M254.1 202.1l-1.5 -0.5M268.5 219.7l-0.7 0.5M269 216.9l-1 -0.3M265 225.9l-1.4 0.2M263.6 226.7l-1.2 -1.2M260.4 223l-1.1 0.4M241.8 181.3l-1.1 0.4M242.8 178.6l-1 -0.5M240.5 176.1l0.1 -1M233.5 173.3l-0.3 0.6M232.5 178.3l0.6 1M232.1 180.4l-0.6 0.7M213.9 173.2l0.5 -0.9M217.7 170.8l1.1 -0.8M223.2 175.5l0.5 0.7M224.4 180.5l0.7 1.1M258.9 237l-0.4 -0.6M268.3 231.1l-0.7 0.4M266 232.7l-1.1 0.1M259.2 235.7l-1.1 0.8M262.3 243.9l-0.1 -1.4M273.2 231.4l0.6 -1.3M274.7 228.9l1.1 -0.7M277.1 226.9l0.4 -0.8M257.7 233.7l1 -0.1M307.6 171.7l-0.7 1M303.1 173.9l-1.3 -1M301.5 181.3l-0.7 -0.8M300.3 178l0.6 -1M300.3 174.6l-0.4 -0.5M299.4 173.3l1.2 -0M292.3 181.7l-1.1 0.1M289.2 188.7l0.6 -1.4M289.7 184.6l0.1 -1.2M257.9 165.9l0.7 -0.7M259.9 163.3l1.2 0.8M265.4 162.5l1.1 0.8M269.5 166.6l-0.1 0.6M179 161.1l0.5 0.6M180.6 163.2l0.5 0.9M181.7 163.4l1.3 -0.8M181.2 153.5l1.6 0.6M186.9 154.6l0.6 -0.1M181.3 167.5l0.2 -1.1M182.1 165.5l-0.8 -0.9M191 160.9l-1.1 -1.2M196.1 160.1l0.3 -0.9M201.4 168.6l1.2 1M204.1 170.8l-1 1.4M202.7 163.4l0.6 0.6M244.8 168.5l0.4 0.5M246.6 168.7l0.7 -0.6M236.7 159.5l1.1 -0M242.1 159.7l1.2 0M244.4 165.8l0.8 -0.9M246.4 158.9l-1 -0.8M264.6 194.2l1.6 0M266.2 199.8l0.4 -0.8M267.5 197.4l-0.1 -1.1M248 190.2l-0.3 1.3M247.3 191.6l1.1 0.8M255.6 198.1l1.4 0.3M246.1 198.9l0.5 -1.4M247.2 196.8l0.4 -0.9M248.4 193.1l-0.2 -0.7M265.4 204.2l0.2 -1.4M273.5 211.2l0.8 0M274 203.4l0.8 0.3M278.1 205.9l-0.3 1.3M287.3 219.2l-0.8 -0.3M285.1 218l-0.3 -1.3M278.1 216.8l0.4 -0.9M279.6 224.8l-1.2 0.2M284.4 215.3l-1.4 -0.5M277.4 212.5l-0 0.8M199.7 251.4l-1.2 0.8M193.5 246.8l-0.1 -1.2M194.1 245.2l1 -0.4M196.3 243.6l0.3 -0.8M197.5 241.9l-0 -1.7M185.3 242.1l1 -1M187.4 240.2l0.5 -0.6M198.5 239.8l-1.6 -0.3M170.9 217.3l1 -0.7M170.8 213.9l-0.6 -0.3M166.7 208.8l-0.5 -0.6M282.4 235.8l-1.1 0.6M277 241.1l1 -0.3M278.3 241l0.3 -1.4M304.9 232.3l-0.3 0.9M304.1 235.5l-0.5 -0.7M302.2 234l-0.7 0M297.6 233.3l-0.6 -0.2M297.4 234.3l-1.1 -0.9M305.6 238.2l-0.1 1.1M305.9 240.3l1.3 0.9M306.7 241l1.2 0.3M308.4 248.2l0.6 -1.3M314.7 262.4l-0.8 -1.2M312.5 258.1l-0.3 -1.4M274.7 262.6l0.7 0.2M276.4 262.5l1.1 0.9M281.5 263.4l1.2 -0.2M282 257.1l-1.1 0.2M280.2 256.8l-0.5 -0.5M284.2 258.7l-0.1 0.9M313.2 263.1l-0.8 0.9M249.6 231.2l0.5 1.5M249.9 233.6l-1.2 -0.3M247.6 236.7l0.1 1.7M257.2 237.4l-0.2 0.6M255.7 239.8l-1.1 0.8M252.7 241.5l-1.2 0.7M251 243.2l-1.1 0.1M249.1 253l-0.5 -0.9M248.8 252.2l-0.9 -0M248.3 233.2l-0.6 0M296.8 165.3l-0.8 -0.3M299.7 167.2l0.7 -0.4M303.1 164.8l0.9 -1.3M293.7 163l0.3 -1M303.5 157.6l0.4 0.7M294.3 156l-0.3 0.7M304.8 161.8l-0.1 1.3M310 167.5l-0.5 -0.9M308.8 165.5l-0.6 -0.8M305.9 163.3l-1.2 -0.8M301.1 173.3l-0.4 -1.6M291 157l1.2 0.3M275 177.8l1.1 -0.8M279.4 176.6l0.7 -1.3M280.9 184.1l0.5 -0.4M282.4 182.8l0.4 -1.4M270.4 169l0.8 -0.6M271.8 168.7l1.2 -0.2M291.2 168.4l-0.6 -1.3M286.6 164.6l-0.8 -0.1M290.3 174l-1.2 0.1M287.2 174.3l-1.6 -0.3M285.5 173.6l-0.6 0.4M283 174.8l-0.9 -1M281.7 169.4l0.2 -0.7M282.5 167.2l0.3 -0.5M284.8 164.7l-0.7 0.2M284.4 165l-1.1 0.4M294.3 166.8l-0.7 0.7M292.1 167.7l-1.2 0.6M276.9 163.6l0.7 0.8M277.1 160.3l0.9 0.9M266.1 161.6l0.8 -0.3M266.5 160.7l0.1 -0.9M273.6 158.4l-0.7 0.3M272.4 157.9l-1.6 -0.2M257.6 160.3l0.4 -0.9M250.3 160.3l-0.2 -1.1M248.8 158.5l-0.9 -0.4M249.4 156.3l0.9 -0.1M250.4 169.5l0.4 -1.4M251 166.6l1 -1.2M283.6 208.5l1.4 -0.3M288 207.8l-0.2 0.6M287.7 208.7l-1.2 -0.4M278.8 205.8l-0.1 -1.6M285.9 209.8l0.5 -1.4M296 202.9l-1.5 -0.2M293.3 210l-1.1 -0.6M290.6 208.1l-1.6 -0.1M204.4 246.9l0.8 -0.5M205.1 246.8l1.3 0.6M209.5 244.4l-0.7 0.6M207.8 253l0.4 -0.9M210.3 226.7l0.7 0.7M212.8 229.5l0.7 0.9M207 237.8l-0.8 -1M174.8 222.9l-0.5 0.4M184 229l-0.3 1M173.9 223.7l-0.3 0.7M172.7 226.3l-0.1 0.8M181.3 230.7l-0.7 -1M177.4 230.4l-1.5 0M176 230.8l-1.1 -1.1M172.6 219.9l0.4 1.5M176.1 213.6l-1 -0.1M179.1 214.1l0.6 0.9M191.3 235.9l0 -1.6M187.8 230l-1.2 -0.2M193 228.2l0.4 -0.5M196.7 238.8l0.1 -1M197.2 234.4l0.5 -1.1M198.2 231.7l0.3 -0.8M196.2 229.9l1 0.5M204.7 228.9l-0.7 0.4M203.2 228.5l-0.8 0.7M178.4 198.6l0.6 -0.6M177.9 193.5l-0.5 -1.2M172.5 200.2l-1.1 -0.8M168.3 195l0.5 -1M170.7 190.9l0.5 -1M172 187.9l0.1 -1.4M171.5 187.4l1.6 -0.4M174.7 187.1l1.2 0.3M179 214.6l0.8 -1.2M174.5 206.1l-0.6 -0.3M168.7 204.6l0.4 -0.6M172 202.3l0.7 -0.5M180.3 181l0.1 1.1M179.6 184.5l-0.4 0.9M179.3 185.1l-0.5 0.7M247.4 253.1l-0.5 -1.4M244.9 255.3l-1.6 0.5M227.1 258.5l0.9 0.1M233.1 256.2l1.3 -0.6M235.8 255.4l-0.1 0.6M239.3 259.5l0 0.7M241.5 261.7l-0.4 0.8M240.9 262.4l-1.1 -0.6M249.4 240.5l-1.2 0.5M244.2 241.8l-1 0.4M243.6 249.7l-0.9 0M241 243.8l-0 1.3M241.1 244.5l-0.1 0.7M242.2 235.3l-0.4 1.2M240.8 237l-0.8 0.4M220.8 192.6l-0.8 0.1M220.8 193.6l0.6 0.4M223.3 196.7l0.9 1M230.9 193.6l-0.3 1.5M180.8 187.5l1 0.2M183.7 187.6l1.1 1.3M193.4 203.4l-0.7 -0.5M190.8 201.5l-0.5 -1.4M189.8 200.1l-1.3 0.2M196 191.2l0.8 0.2M200.8 201.1l0 -0.7M205.1 190.1l-0.7 0.4M203.8 190.3l-0.5 -0.6M201.3 189.2l-0.7 0.6M198.7 190.6l-1.7 -0.3M196.9 190.2l0.9 1M216 185.9l0.1 1.7M216.2 187.5l0.7 1.4M217.5 191.8l0.1 1M217.3 183.3l-1.6 0.1M213.9 184l-0.8 -1.1M211.8 182.3l-1.1 0.2M209.7 184l-0.5 -1.4M221 179.7l-0.2 1.2M218.4 191.9l-0.5 0.6M206.7 189.1l0.7 -0M213.2 198l0.3 -0.6M214.5 195.8l0.9 -0.9M212 199.2l-1.4 -0.4M217.5 204.4l1.1 -0.2M221.3 200.4l0.6 -0.2M217.7 206.6l-0.4 1M221.5 207.6l1.1 0.7M226.1 209l0.9 -1M223.1 198.2l-0.4 0.4M223.3 198.9l0.5 0.5M232.9 201.5l-1.1 0.7M227.6 202.4l-0.9 -0.4M230.8 216.8l-0.8 0.3M220.9 216.1l-1.1 0.1M218.8 217.4l-1.2 1M217.5 218l0.1 1.5M222.6 225.8l-1.5 0.6M221.3 227.1l1.1 0.7M219.4 229.5l0.9 -0.9M219.7 229.2l1.2 -1M216.2 253.1l-1.1 0.2M215 247.1l0.8 -1.5M216.3 244.9l-0.6 1.1M224.3 254.4l-0.2 -1.5M214.7 257.2l-0.1 -1.1M211.1 251.5l1.3 -0M230.1 246.9l-0.7 0.3M227.5 247.2l-0.7 0.9M218.3 235.3l1 0.9M234.6 231.8l0.5 0.7M234.6 233.7l0.1 1.4M236.8 237l0.9 0.4M237.3 237.8l-0.2 0.7M233.7 227.9l-0.3 1.2M227.8 230.9l-0.9 0.9M225.2 237.9l1.1 -0.2M189.8 217.7l0.3 -1.2M201.1 218.7l-0.8 -0.7M197.9 216.1l-0.4 -0.8M200.5 218.9l-0.1 1.2M193.3 212.9l0.6 0.1M193.7 213.3l1.6 -0.4M195.3 213.1l0.6 -0M193 226.8l-0.8 -0.8M192.5 224.5l0.7 -0.6M201 225.8l-0.2 -1.2M200.9 223.3l-0.8 -0.5M194.2 207.5l-0.6 0.9M201.9 209.6l-0.3 0.8M200.4 210.5l-1.6 0.4M197 212.4l-0.2 0.8M296.1 233.5l-0.7 0.7M295.1 234.4l0.3 0.6M292.2 238.3l-1.5 -0.2M288.7 239.5l0.5 0.6M195.9 189.5l0.9 -0.6M197.7 186.9l0.5 -1M198.8 184.1l0.6 -1M188.5 180.3l-0.8 -0.3M196.5 190.1l-0.6 -0.8M205.8 183.6l-0.2 -1.2M204.3 180.6l-1.5 -0.6M201.4 174.3l-0.7 0.9M208.1 206.6l0.7 1.5M204.5 209.8l0.2 0.8M206.4 214.2l0.4 0.6M215.3 211.4l0.6 0.2M215.4 212.4l-1 0.8M207 216.8l1.1 0.8M207.6 217.1l0.6 0.6M202.7 208.8l0.6 1M202.9 210.7l0.8 -1.4M208.8 199.6l-1 0.9M207.6 202.4l0.3 0.9M208.2 205.3l-0.2 1.2M216.3 208.3l-1.1 0.1M215.6 208.2l0.1 1.3M209.9 221.9l-0.5 -1.1M208.5 218.8l-0.2 -1.3M292.1 245.7l1 -0.2M295 245.9l0.1 -1.2M296 242.8l0.8 -0.2M293.1 247.7l-0.2 1.4M292.6 252.1l-0.3 1.1M299.9 243.7l-0 -0.7M296.3 236.7l0.5 0.6M291.7 262.4l1.3 -0.9M292.7 261.8l1.1 -1.2M303.4 240.5l-0.7 1M303.3 257.3l-1 -0.5M255.8 180.8l0.1 0.9M244.7 191.2l-0.5 1.1M256 193.8l1.2 1.2M244.5 190.6l-0.9 0.2M251.5 198.6l-1.5 0.6M256.9 178.6l0.3 1.5M246.1 180.3l0.5 1.7M246.3 194.2l-1.6 0.5M252.5 188.2l1.2 0.2M247.8 184.6l0.7 1.2M242.4 189.4l-0.7 0.8M249.3 181.1l-1 0.1M246.2 184.9l0.2 1.3M246.9 180.2l-0.9 1.1M256.7 190.1l1.7 0.2M258.4 182.1l-0.5 1.6M254.4 193.6l-0.9 0.5M245.3 189.5l1.2 1.3M253.4 175.1l0.5 0.4M250.6 188.1l0.9 0.3M251.1 176.3l-0.2 0.9M254 175.4l0.2 0.7M251.8 184.3l-1.1 0.4M246.2 180.7l-0 1M244.1 191.3l0.2 1.2M252.2 195.3l1.4 0.1M249.8 190.5l-1.4 0.9M275.7 204.1l-1.1 0.8M280.6 205.7l-1 0.2M278.2 201.1l-0.3 0.7M277.8 207.2l0.6 0.6M274.3 204.6l1.4 0.1M277.5 207.5l-0.2 1.1M277.3 206.2l-1.4 0.9M267.6 202.3l-0.5 1.5M264.2 204.6l-0.7 0.2M268.6 209.4l-0.8 0.7M271.1 201.7l-1 0.3M274.9 204.4l0 1.6M261.8 205.3l0.9 1M267.4 204.7l-1.2 0.5M277.4 208.2l1.7 0.3M182.8 170.4l0.5 1M188.7 162.7l-1.4 0.3M182.1 171.9l-1 1.4M181.7 163.8l0.6 0.7M185.7 172l0.8 0.4M191.4 165.3l-1 1.2M189.9 167.6l-0 0.9M188.6 168.1l-0.6 0.9M183.2 164.2l0.2 0.7M181.9 164.9l0.2 1.2M209.3 227.1l-0.6 0.6M206.5 222.5l1.1 0.4M197.3 224.7l1.3 0.9M205 220.6l-0.9 0.7M201.3 228.8l-0.3 0.6M205.2 223.2l1.3 0.5M202.8 228.3l-1.5 0.7M204.9 223.8l0.3 1.7M207.4 227.1l0.4 0.4M288.3 239.9l-0.5 0.8M281.3 235.4l-0.2 0.7M279.7 229.9l-0.6 1.6M289.5 230.4l0.9 0.8M286.6 234l0.7 0.1M281.9 233.8l-1.1 0.5M288.5 231.2l0.6 1.2M290.2 239.2l-0.7 0.9M281.1 233.5l0.5 0.8M278.3 233.4l0.7 0.1M289.5 236.2l-0.8 0.6M291.4 233.8l0.8 0.7M297.6 170.2l-1.3 0.1M293.2 174l0.1 0.8M292.7 173.4l1.3 1.1M295.4 177.7l-0.1 1.5M302.6 169.6l0.7 0M298.9 176.8l-0.5 1.4M303.7 168.8l-1.2 0.3M296.3 173.6l1 1M300.2 171.8l-0.6 1.5M304.3 173.2l-1.3 0.2M227 161.7l1.3 0.1M234.8 164l-0.5 0.3M233.3 163.5l0.4 1.5M227.5 162l-0.6 0.1M232.6 159.9l1.2 1.3M226.1 164.3l1 1M236.7 163.7l1.1 0.6M233.5 160l-0 0.8M225.2 164.1l-0.7 1.4M178.8 245.4l-0.9 0.4M178.8 252.1l0.8 1.4M179.2 249.2l-1.2 0.3M184.1 252.3l-0.3 1.3M185.1 246.8l-0.6 1.3M185.3 249.4l1.1 0.6M175.3 248.7l-0.8 0.8M184.5 247.1l0.7 1.3M252.8 251.1l0.8 1.4M256.7 248.1l0.1 1.1M263.4 251.7l0.2 0.6M263.7 249.1l0.8 1M257.9 245.5l-0.6 1.6M256.9 250.9l0.7 0.4M263.2 248.6l1.4 1M262.3 248.2l-0.4 0.9M253.1 245.7l0.4 1.4" stroke="#4d2d8f" stroke-width="1.6" stroke-linecap="round"/>
</g></g>
<clipPath id="hk"><rect x="321.4" y="156.3" width="138.3" height="104"/></clipPath>
<filter id="hkf" x="-5%" y="-5%" width="110%" height="110%"><feGaussianBlur stdDeviation="0.5"/></filter>
<g clip-path="url(#hk)"><g filter="url(#hkf)">
<rect x="319.4" y="154.3" width="142.3" height="108" fill="#cf88bb"/>
<ellipse cx="345" cy="177" rx="11.2" ry="8.4" fill="#ea72a2"/>
<ellipse cx="368" cy="172" rx="5.6" ry="5.6" fill="#ea72a2"/>
<ellipse cx="384" cy="193" rx="9.0" ry="7.3" fill="#ea72a2"/>
<ellipse cx="325" cy="182" rx="5.0" ry="6.2" fill="#ea72a2"/>
<ellipse cx="325" cy="229" rx="5.6" ry="9.0" fill="#ea72a2"/>
<ellipse cx="345" cy="222" rx="8.4" ry="6.2" fill="#ea72a2"/>
<ellipse cx="352" cy="240" rx="5.6" ry="6.7" fill="#ea72a2"/>
<ellipse cx="381" cy="229" rx="11.2" ry="10.1" fill="#ea72a2"/>
<ellipse cx="398" cy="186" rx="9.0" ry="12.3" fill="#ea72a2"/>
<ellipse cx="435" cy="188" rx="10.1" ry="6.7" fill="#ea72a2"/>
<ellipse cx="403" cy="168" rx="5.6" ry="4.5" fill="#ea72a2"/>
<ellipse cx="394" cy="233" rx="5.6" ry="5.6" fill="#ea72a2"/>
<ellipse cx="426" cy="234" rx="5.6" ry="5.6" fill="#ea72a2"/>
<ellipse cx="434" cy="224" rx="6.7" ry="6.7" fill="#ea72a2"/>
<path d="M400.8 157.7l0.9 1.1M388 229.6l-0 0M425.1 244.2l-0.4 0.3M401.4 157.2l1.2 0.8M431.7 245.7l-0.1 0M420.9 232.3l-0.7 0.6M421 159.2l0.2 1M352.7 161.9l0.1 0.2M359.9 198.9l-0.5 0.3M326.4 220.1l-0.1 0.5M410.2 194.7l-0.3 0.8M424.4 217.7l0.5 0.5M362.4 242.6l-0.9 0.5M402.4 240.7l0.9 0.8M430.9 225.3l-0.9 1.1M459.5 229.2l-0.3 0.2M407.5 160.8l0 0.1M413.4 241.6l-0.2 0.5M376.1 166.4l0 0M353.9 206.4l-0.5 0.1M344 177.2l0.1 0.1M377.8 188.1l1.4 0.2M439.9 178.6l-0.1 0.7M401.2 181.8l-0 0.1M374.3 169.8l0.3 0.2M414.9 186l-0.6 0.6M325.2 161.6l0.6 1.2M334.6 211.5l-0.4 0.5M451.2 239l0.7 1.2M406.9 198l-0.6 0.4M326.6 173.9l-0.9 1M393.6 185.9l0.5 0.1M359.4 230.8l-0.7 0.7M373.1 248.5l0.2 0.3M407.4 249.6l-0.5 1.1M437.7 205.9l0.2 0.1M454.5 254.6l-0.8 0.7M331.5 184.5l0.1 1.5M410.6 222.4l1.2 0.1M344.8 203.9l0.5 1.3M443.8 176.7l-1.2 0.7M373 236.9l-0.1 1.5M418.5 165.7l-0.2 0.5M387.9 229.7l-0.5 0.4M344.4 253.2l0.2 1.1M350.1 203.5l0.5 0.1M445.5 174.7l1.1 0.2M399 157.3l-0.6 0.4M330.3 227.4l0.7 0.1M333.6 193l0.2 0.9M411.4 174.5l0 1M410 255.7l-0.4 0.3M377.9 190.5l1.1 0.2M378.2 246.7l0.2 0.2M379 179.8l-0.1 0.4M335.6 236.2l-0 0.1M456 200.8l-0.1 1.4M394.6 170.8l-0.7 0.1M459.4 170.2l0.6 0.2M407.1 245.5l-0.1 0.1M395.4 206.1l1.2 0.9M458.3 177.2l0.1 0.1M445.1 228l0.2 0.6M420.1 202.4l0.2 0.3M415.7 236.3l-0.1 1.3M361.2 157l0 0.2M449.3 164.6l0.1 0M331.2 212.1l-0.4 0.8M369.2 254.6l0.1 0.3M415.7 204.3l-0.4 0.2M425.9 250.4l0.9 0.2M360.7 224.6l0 0.2M407.1 244.4l0 0.5M368.2 219.9l-0.1 0M416.9 164.5l0.1 0.8M393.8 184.3l-0.1 0.1M439.3 206.5l1.3 0.4M450.9 225.4l0.3 1.2M380.6 176.5l0.1 0M429.5 207.5l-1.3 0.5M348.2 199.6l1 0.1M366.9 182.8l1 0.1M351.7 259.2l-0.2 0.9M426.5 216.1l-0.8 0.1M374.9 160.2l0.4 0.9M331.1 244.6l1.2 0.8M408.6 161.3l0.1 0.4M399.4 241.9l1.2 0.5M418.4 195.4l-0.8 0.7M456.4 228.6l0.1 0.2M355.9 191.1l-0.4 0.7M361.6 182.8l0.6 0.2M452.9 160.8l0.6 1.1M398.6 183l0.1 0.1M341.3 233.8l0.8 0.5M383.8 181.2l-0.1 0M419 172.2l-1.4 0M454.5 239.7l-0.6 1.1M390.2 170l0.1 0.2M453.1 232.5l0.9 0.7M348.8 201.8l-0.8 0.2M421.7 231.1l0 0.4M377.4 158.8l-0.5 1M370.5 218.6l-0.6 1M377.6 163.8l-1 0.1M398.7 217.1l-1.4 0.4M380.7 209l-0 0M452.4 189.1l0.9 0.9M414.1 184.4l0.2 0.7M432.9 256.8l0.2 0.1M421.4 197.9l-0.3 0.3M458 190.9l0 0M447.4 249.4l1.4 0.4M385.3 237l0 0.2M368.4 220.2l-0 0.4M396.2 180l-0.4 0.2M361.7 214.8l-0.8 0.2M454.4 171.6l0.5 0M350.9 157.7l1.3 0.5M384.6 182.3l-0.2 0.4M347.5 214.5l-1.4 0.3M368.7 181.3l-0.4 0.2M448 186.3l-1.1 0.5M442.3 208.8l-0.1 0.2M322.9 259.9l0.8 0.9M428.9 167.4l-0 0.1M351.6 176.6l1.4 0.1M369.9 187.5l0.2 0.5M436.7 258.5l1 0.2M457.1 248.8l0.1 0.2M393 159.3l-0.3 0.5M336.7 172.9l-0.5 0M326.2 201l0.4 0.3M400.3 217.9l0 0M410.7 193.2l0.4 0.9M424.3 199.5l-0.3 0.8M339.8 176.5l0.1 0.1M326.3 231.8l0.1 0.8M353.9 237.6l0.7 0M413 186.3l-0.1 0M369.3 186.1l0.2 0.1M327.3 228.9l-0.1 0.3M353.1 237.2l-0.3 1.1M408.3 159l-0.5 1.1M362.9 256.4l0.1 1.3M431.4 258.9l-0.1 0.1M336.8 244.3l-1 1.1M417 202.7l-1.1 0.4M427.3 184.6l-0.4 0.2M359 236l0 0.2M370.1 228.4l-0.9 0.8M444 230.8l0.5 0.9M376.3 225.7l0.1 0.1M380.1 233.9l-0.1 0.3M421.3 185.7l0.1 0.3M336.1 184.5l-0 0.2M427.1 217.7l-0.7 0.9M406.9 239.1l-0.7 0.8M331.2 251.1l0.9 0.2M425.9 241.2l1.2 0.4M432 230l0.9 0.9M342.8 243.6l-1.1 1M430.2 207.3l-0.3 0.1M327.6 208.6l-0.2 0.5M450.3 209l-0.4 0.4M431 258.3l0.9 0.5M414.8 170.9l-1.4 0.3M367.1 185.9l0.4 0M405.6 253.6l-0.8 0.4M441.2 189l-0.2 0.5M343.1 172.4l-0.4 1.1M414.1 181l0 0M427.7 218.5l0 0M397.9 218.5l-0.5 0.3M415.1 200.8l1.4 0.1M385.1 190.8l1.3 0.7M416.8 249.1l-0.3 0.1M330.3 222.8l-0 1.3M423.5 181.7l0.7 0.6M429.9 171.4l0.2 0.3M403.6 250.1l1.3 0.1M448.2 221.5l0.6 0.7M383.1 197.2l0.2 0.5M390.6 199.7l1.5 0.3M426 165.3l-0.4 0.5M372.1 216.6l0 0.2M404.6 215.7l-0.4 1.1M383.9 247l0.5 0.9M412.2 191.5l0.8 1.1M418 219.5l0.1 0.6M354.8 246.5l0.2 0.5M414.8 250.2l0.1 0M455.1 184.9l1.4 0.5M407.5 188.4l-1 0.7M387.5 206.6l-0.4 1.1M339.3 205.7l0.6 0.5M448.9 198.5l-1 1.1M451.7 246.2l-0.8 1.2M386.4 193.1l-1.3 0.1M339.9 242.4l1 0.4M405.7 231.4l-0.3 1.3M436.5 180.9l-1.2 0.9M406.3 206.8l0.3 0.6M363.2 249.1l1.1 0.2M337.5 257.1l0.1 0.9M438.4 218.7l-0.1 0.1M390.3 204.3l0.6 1M403.1 194.5l-0.2 0.3M454.4 176.3l0.8 0.9M328.7 220.5l-0.1 0.1M360.1 233.9l0.6 0.4M451.2 257.8l0.3 0M368 166.7l-0.5 0.2M358 201.1l0.3 1.4M380.4 221.3l0.7 1.1M404.7 251.8l-0 0.4M440.5 237.9l-0.1 0.5M333.9 169.7l0.2 0.1M440.2 158.6l0.1 0.2M450 177l-1 0.3M432.6 253.3l-0.2 0.1M357.4 167l-0.8 1.2M382.6 178.6l-0.1 1.1" stroke="#dc9ac6" stroke-width="1.8" stroke-linecap="round"/>
<path d="M457.3 247l-0.8 0.1M445 187.4l0.2 0.1M396.8 188.8l0.1 0.1M457.9 211.8l0.7 0.6M435.7 203.7l1.4 0.2M342 244.2l0.2 1.5M387.7 186.6l0.5 0.3M371.7 229.6l0.1 1.2M323 213.2l-0.4 0.6M423.4 242.4l-1.1 0.6M408.5 249l0.1 0.3M361.7 257.4l-1.4 0.2M429.5 181.8l1.3 0.7M447.5 196.4l-0.3 0.1M453.1 227.1l1.4 0.5M444.5 220.7l0 0.1M342.8 172.8l0.5 1.2M342.4 182.7l0.4 0.2M337.7 225.8l-0.6 0.9M376.9 257.6l0.4 0.6M355.1 161.5l0.4 0.1M346.2 209.2l-0 0.1M339.4 164.8l0.6 0.2M349 186l0.6 0.2M452.7 219.9l0.1 0.5M388.1 248l0.3 0.3M349.2 214.8l-0.3 0.3M349 239.2l-0.7 1.1M407.6 239.5l0.8 0M402.5 175.5l0 0M395.6 239.4l-0.3 1M456.2 212.9l0.6 0M422.1 199.7l-0.1 1.4M330.3 177.8l0.1 1M424.1 165l-0.1 0.6M337.7 218.4l-0.4 0.6M448.4 196l0 1M430.5 216.2l0.6 1.1M393.2 161.5l0.7 0.7M356.1 204l-0 0.1M375.7 237.3l-0.4 1.3M358.9 205.2l-0.1 0.2M404.2 170.5l-1.4 0.3M325.7 175.5l0.8 0.8M326.7 196.4l0.4 0M436.1 170.7l0 0.8M341.3 256.9l0.8 0.9M408.4 181.9l-0.6 0.2M405.9 220l-0.2 0M342.9 178.8l-0.3 0.1M457.9 212.7l0.5 0.6M401.7 182.5l1.1 0.2M338.3 235.8l-0.3 0.9M442.7 170.1l0.4 1.4M437.2 226.6l-0.5 0.6M410.6 180.1l1 0M416.3 162.7l-0.2 0.1M372.5 165.6l0.6 0M362.9 232.1l1.2 0.7M382.3 241.9l0.7 1M334.4 232.2l0.7 1.1M406.5 198.5l0.6 0.3M443 188.1l-0.3 0.8M451.8 254.1l-1.3 0.6M458.2 238.3l0 0M437 237.7l0.3 0.2M447.5 214.2l-0.1 0.4M424.3 217.9l0.2 0.4M322.6 217.1l0.5 0M334.6 233.4l0.1 0.8M358.7 173.1l-0.1 0M391.3 225.2l-0.3 0.5M419.5 229.5l-0.3 0.9M329.8 234.7l0 0.8M399.7 259.4l-0.9 1.1M328.2 256.1l0 0.1M347.7 252.9l0.7 1M366.9 183.2l0.2 0M325.5 168.9l1 0M368 180.6l0 0.3M403.5 178l0.8 0.2M369.1 174.1l-0 0.6M453.1 255.1l0.1 0.4M327.8 204.1l-0.2 0.5M399.1 224.5l0.2 0M457.9 207.9l0.1 0.6M339.5 232.3l1.1 0.5M424.8 235.7l1 0.5M411.4 221.6l0.7 0.8M425.3 226.9l-0 0M395.1 253.6l-0.5 0.8M458.4 191.6l0.9 0.4M390.3 234.8l0.4 0.4M386.4 184.5l-0.7 0.1M403.6 177.5l-0.1 0.6M331.8 210.6l-0.3 0.3M325.7 184.2l0.3 0.8M422.4 184.1l0.2 0.5M373.5 204l-0.9 0.2M341.1 233.1l1 0.7M432.5 216.3l-0.7 0.2M414.6 258.8l-0.1 0.8M415.9 220.3l-0.3 0.5M341.4 219.2l-1.4 0.4M368.7 172.1l-0.1 0M335.8 158.1l-0.4 0.5M410.7 209.6l0 0.1M374.7 232.7l0.3 1.5M349.7 255.1l-1 0.7M369.2 205.3l0.6 0.1M354.2 174.5l0 0M359.5 227.3l-0.3 0.4M431 176l1.2 0.6M435.2 245.8l0.7 0.1M422.7 228.4l-0.6 0.7M402.3 204.5l-1.1 0.8M438.2 243l-0 1.3M363.8 183.7l0.4 0M340 250.2l-0.1 0.5M418.8 215.2l0 0.1M377.2 242.1l0 0.3M420 199.7l-0.3 0.3M443.9 209.2l0.4 0.2M330.9 191.8l0.1 0M344.5 187.7l0 0M430.1 176.2l0.4 0.1M402.6 242.2l0.9 0.6M401 205.6l-0.6 0.6M419.5 202.4l-0.2 0.2M442.1 215.2l-0.5 0.4M451.1 227.8l-0.7 0.7M383.8 244.3l-0.8 0.9M333.3 176l-0.9 0.7M345.2 220.8l0.3 0M437 217.3l0.1 0.1M340.2 177.3l-0.6 0M367.2 252.6l-0.4 0M375.8 230.3l0.5 0.3M411.3 257.8l-1 0.4M348.9 226.9l1.1 0.5M393.7 205.6l0 0M388.3 257.2l-0 0M441.2 232.8l0 0M341.6 167.1l-0.1 0.3M443.3 222.4l-0 0.5M340.2 189.5l-0.1 0.7M341.7 181.3l-1.1 0.5M450.3 186.2l-0.7 1.2M438.2 169.3l-0.1 0.1M438.6 212.3l-0.6 0.4M354.3 167.9l0.8 0.1M413.7 176.6l-0 0.4M332.8 186l-1.1 1M334.7 253.8l0 0.3M441.8 255.4l-0 0.4M405.2 254.2l0.8 1.2M340.6 228.1l0 0.2M447.6 233.8l-0.8 0.7M439 221.1l0.1 0.1M344.8 215.1l-0.1 0.7M416.2 230.4l-0.9 0.3M390.8 222l1 0.9M332 258.1l0 0.1M336 228l-0.3 1.1M325.5 196.8l-0.7 0.3M408.5 248.8l0.2 1.3M352.7 259.6l-0.2 0.6M454.9 244.8l0.5 0.5M391.4 157l0.4 0.3M405.6 233.4l1 0.4M429.2 222.4l-0.4 0.7M424.9 203.2l0.1 0.2M378 160.4l-0.1 0.2M359.1 220.1l1 0M392.6 190.1l0.2 0.9M327 204.7l-0.3 0.5M398.3 231.9l-0 0.1M363 230.2l0 0M459.2 234.5l-1 0.6M397.1 257.2l1.4 0.1M329.4 168.2l-1.1 0.7M340.6 217.2l0.2 0.2M430.4 166.6l0.9 0.4M452 173.8l0.3 1.4M386.1 205.4l0.8 0.1M396.5 157.2l-0.3 1.4M356.2 224.7l1.1 0M370 234.2l-0.7 0.7M349 177.6l-1.2 0.6M384.6 192.9l-0.1 0.7M458.7 227.9l-0.1 0.7M327 182.3l0.6 0.7M415.7 231l-0.3 1M403.4 213l0.3 0.4M353.2 156.6l-0.4 1M392 207.9l0.7 1M360.2 181.8l0.2 0.4M452.3 220.6l0.9 0.3M399.6 225.9l0.1 0.4M345.2 157.3l-0.7 1.1M389.3 180l-0.1 0.4M443.7 249l-0.2 0M375.7 186l0.5 0.1M423.9 243.5l-0.5 0.5M390 184.3l1 0.4M352.5 193.7l0.6 0.8M420.8 190l0.8 0.6M345.8 233.7l-0.7 0.3M336.6 222.7l-1.3 0.2M455.6 224.6l-0.9 0.2M382.2 206.9l-1.1 0.3M328.4 212.3l-0.2 1M370.6 188.5l0.5 0.2M384.3 245.6l1.5 0.3M371.4 160.7l0.6 1.1M387 169.9l-0 0.9M405.2 166.6l0.8 1M332.2 202.7l-0.1 0M406.5 230.6l0.4 0.1M401.4 231l-0.2 1.3M406.6 206.1l0.5 0.2M343.8 158l-0.1 0.4M441.6 176.4l1.2 0.2M328 233.8l0.2 0.3M414.3 167.8l0.5 0.4M330.1 161.5l0.3 0.7M343.7 165l-1 0M455.9 247l-0.9 0.1M425.9 190.5l0.2 0.6M397.5 222.8l-1.3 0.6M442.6 240.3l0.3 0.8M325.3 206.6l-0.1 0M387.8 234l-0.3 0.5M405.2 174l1.5 0.3M374.2 156.8l-0.2 0.5M326.7 227l-1.4 0.5M370.4 216.8l0 0M391.6 202.5l0.8 0.2M444.8 240.6l0 0M437.2 246.4l0.5 0.4M340 181.5l0 0M322.5 229.8l-0.3 0.2M413 184.5l0.1 0.1M394.4 247.2l1 0.7M445.5 249.2l0.1 0.2M328.6 200.9l-1.1 0.2M337.3 230.3l-1.2 0.3M333.9 200.5l0.1 0.9M384.1 228.6l-0.5 0.5" stroke="#e3a6cd" stroke-width="1.8" stroke-linecap="round"/>
<path d="M449 159.3l-1 0.2M446 168.1l0.6 0.6M330.4 187.6l1 0M439.3 257.8l0 1.1M458.1 256.1l0 0.5M413.4 200.1l-0.7 0.6M351.7 227.6l0.7 0.1M348.1 160l0.3 0.9M453.8 257l0.6 1.2M321.5 167.5l-0.1 0.2M365.5 258.7l0.4 0.6M338.3 221l0.7 0.9M435.7 157.7l0.9 1.1M361.9 219.5l-0.4 0.8M367.9 187.2l0.1 0.5M448.2 248.6l1.2 0.1M387.6 213.4l0.1 0.2M448.4 171.9l0.1 0.2M381.1 189l0 1.4M391.4 251l-0.1 0.4M353.9 191l0.3 0.5M439.2 210.1l-0.3 1.1M397.2 259.2l0.1 0.1M331.2 249.8l-0.1 0M364.8 167.5l-0.9 0.2M400.4 195.5l-0.9 1M364.8 234.5l-0.9 0.3M426.5 216.1l-0.8 0.5M367.1 157.6l-0.9 0.6M385.2 201.5l-1 0.9M395.1 257.1l1.2 0.4M364.6 196.1l-0.4 0.5M405.9 178l-0.3 0.1M352.5 162.8l-1.1 0.7M363.2 185.5l-0.3 0M325.6 168.3l-0.1 0.3M334.2 172.1l1.1 0.4M362.3 168.5l0.5 1M351.6 257.6l0 0.1M372.4 206l-0.4 0M400 183.7l-0.1 0.1M441.9 160.4l1 0.4M321.6 235.2l-0.7 0.2M455.8 196.2l-0.3 0.3M382.7 251.7l-0 0.4M424.3 182.9l-0.7 0.6M401.8 233.6l0.1 0.5M423.1 195.1l-0.5 0.5M382 239.8l-0 0M431.4 236.1l-0.8 0.5M420.4 244.8l1.3 0.1M377.9 159l-0.8 0.7M372 166.1l0.1 0.2M404.6 235l-0.6 0.4M448.5 219.5l0.5 0.3M392.4 205.1l0.4 0.2M391.5 244.3l0.1 1M367.3 228.4l-1.1 0.6M407.1 201.8l0.1 0.4M390.5 184.7l0.3 0M326.4 183.3l0.1 0M418.9 232.5l-0.9 0.4M437.4 187.7l-0.3 0.9M364.6 185.3l-0.3 0.9M339.9 202.7l0.1 0.1M449.9 158.5l0 0M370 228.6l0.3 0M360.3 249.4l0.5 0.5M421.3 235.9l-0.7 0.1M440.3 171.5l-0.4 1M394.9 225.7l-1 0.4M455.6 207.6l-0.4 0.7M354.8 225.7l-0.7 0.2M355.9 186.8l0 0.2M382.2 236l-0.4 0.2M322.3 188.2l-1.3 0.4M342.1 259l0.1 0.1M380.4 210.4l0.8 1.2M414.5 226.2l0.1 0.2M423.7 234.6l0.1 1.1M362.6 187.7l-0 0.7M450.1 221l-0.8 0.7M361.1 248.8l-0.1 0.2M436.5 186.2l-0.3 0.4M424.9 213.2l-0 0.2M403 238.5l-0.3 0M422.5 201.6l0.2 0.3M405.7 255.8l0.3 0.1M389.7 163.9l-0.2 0.4M422.3 196.5l-0.2 0.3M386.7 248.3l-0 0.4M389.9 254l-0.1 0.4M359.9 192.1l0.5 0.3M374.6 214.5l0.7 0.4M390.2 176.8l-0.8 0.5M366.9 181.1l-0.1 0.4M386.6 198.6l-0.5 0.2M420.3 202l-0.7 0.2M389.3 197.4l0.4 0.6M374 204.8l-0.9 0.4M360.4 188.5l-0.2 0.1M437.8 207.4l-0.2 0M352.6 245.4l-1.2 0.9M366.4 252.5l1 0.1M458.8 221.4l0.1 0.9M429.6 214.8l0.4 0M387.9 190.2l-0.5 1.4M384.6 228.9l0.3 0.8M409.7 176.7l0 0M350.4 180.8l-0 0M401.6 211.4l-0.1 1.2M325.1 222.5l-0.9 0.9M351.7 246.7l-0 0.3M326.2 159.7l0.6 0.2M348.3 195.9l-0.5 0.4M347.1 196.4l-1 0.1M368.4 203.4l-0.2 0M445.2 253.5l0.5 0.2M360.8 233.3l0.5 0.5M380.9 172.5l-0.1 1M396.9 191.1l1 0.2M345.8 258.7l1 0.8M338.6 173.2l-1.2 0.3M446.4 183.2l-0 0.1M442.6 180l-0 0.5M367.7 215.4l-0.5 1.1M426 257.8l-1 0.7M401.4 238l-0 0.4M442.4 176.3l0.5 0.5M406.6 176.8l-0.2 0M354.2 171.8l0.5 0.7M390.9 202.5l1.1 0.8M436.8 183l1.2 0.1M438.1 252.6l-0 0.1M453 165.5l-0.1 0.2M341.1 209l1.1 0.8M423.7 173.5l-0.4 1.3M436.5 180.7l0.1 0.9M374.4 219.3l-0 0.4M347.6 195.7l-0.3 1M333.8 183.1l-0.1 1.2M426.2 200.2l1 1M457.9 224.2l-0.1 0.7M368.4 233.5l0.1 0.1M442.5 177.9l-0.6 0.4M426.8 246.1l-0.7 1.2M444.6 197.7l0.2 1.3M423.3 195.2l1.1 0.9M343.5 251.1l1.3 0.7M459.4 190.4l0.5 0M448.6 217.4l-0.1 0.4M332.7 191.3l-1.2 0.5M395.3 180.5l0.8 0.9M336.9 209.5l-0.2 0.3M441.1 250.1l0.2 0.1M420.9 163.2l-0 0M375.2 157.5l0.4 0.2M402.2 250.8l-0.7 1.1M344.8 241.6l-1.3 0.6M441.1 234.1l-0.2 0.1M395.2 175.9l0.1 1M455.4 158.8l0.1 0.2M336.5 158.6l-0 0.1M437.3 236.1l1 1M351.9 260.2l-0.8 0.2M452.4 199.9l0.1 0M396.2 184.1l-0.3 0M379.3 204.4l0.4 0.8M450.5 171.9l-0 0M417.3 194.5l-0.3 0.3M350.7 193.5l0 0.1M408.9 164.2l0.6 0.8M366.8 172.9l0 0M338.4 188.6l-0.4 0.3M343.7 238.5l-0.7 0.1M405.8 233.2l0.1 0.4M358.3 235l0.5 0.1M429.9 247.1l-0.4 0.1M389.1 247.5l0.3 1M326 232.6l-1.3 0.4M412.8 226.9l-0.3 0.3M405.3 239.2l0.4 0.2M373.2 181.8l-0.8 0.3M364.1 163.9l0 0.3M458.4 232.2l0.6 0.9M436.1 238.4l-0.3 0.1M443.9 249.3l-0.1 1M409.1 174.4l0.1 0.7M389 209.1l0.1 0.2M447.4 257.3l-0.1 0M347.3 241.3l0.5 0.1M404.7 162.6l-0.3 0.2M356.5 252l0.8 1M338.2 188.1l-0.1 0.9M424 233.5l-0.3 0.8M357.3 192.8l0.9 0.8M446 226l-0.4 0.3M335.7 223.9l0 0.5M390.9 205.5l-0.1 0.3M427.1 233.7l-0 0.4M456 160.4l0.7 1M418.5 182.1l0.8 0.6M403.9 234.3l-1 0.2M423.1 170.2l-0.1 0.2M337.6 237.8l-0.3 0M389.9 199l0.2 0.1M381.5 219.5l-0.2 0.8M350.6 159.7l-1 0.6M396.5 169l0.5 0.5M443.1 176.6l0.1 0.7M395.2 236.8l-0.9 0.5M333.6 180.9l-0.6 0.8M456.1 209.1l-0.2 0.3M382.8 181.7l-0 1.2M330.6 171.9l-0 0M422.7 251.5l-0.7 0.3M425.5 159l-0.8 0.8M363.1 220.6l0.5 1.3M363.2 219.8l-0.1 0.4M338.2 239.7l0.4 0.7M440.6 198.4l-0.4 0.3M339.2 160.5l-0.2 1M374.6 175.7l-0.3 0.2M434.6 188.5l-1 1.1M322 258.6l-0.4 1.2M377.5 216.9l0.5 1.4M435.3 185.7l-0.1 0.3M343.5 200.1l-0.7 0.4M406.2 232.3l-0.3 1.1M426 158.1l-0.7 0.8M336.1 210.2l-0.9 1.1M328.3 222.1l0.2 0.1M368.4 188.5l-0.1 0.5M380.3 174l0.4 0.1M451.3 234.4l-0.1 0.9M351.9 164.1l-0.4 0.7M427.9 237.9l-0.8 0.9M362.8 165.4l0.6 0.3M455.9 195.3l1 0.3M431.5 242.7l0.1 0.2M409.7 257l-1.1 0.2M366.7 212.9l0.2 0.7M421.9 244.1l0.2 0.5M346.7 245.9l-1 0.9M347.3 177.9l0.7 1M452.3 246.4l0.9 0.3M328.4 232.5l-1.3 0.3" stroke="#c076b0" stroke-width="1.8" stroke-linecap="round"/>
<path d="M430.1 236.9l-0.6 1M380.6 216.2l-0.3 0.7M410.7 255.3l0.4 0.2M329.4 216.1l-0.2 0.1M373.2 162.1l0.8 0.4M397.7 182.7l-0 0.2M353.8 194.9l0.9 0.6M412 165.2l0.2 0.1M431.6 159.4l0.2 0M340.3 242.7l-0.5 0.4M451.1 227.8l0.1 1.4M360.6 232.5l0.3 0.2M414.4 254.1l0.3 1.4M453.4 232l0.8 0.9M401.7 235.3l0.8 1.1M453.7 249.6l-1 0.5M374.9 167.6l-0.2 1.1M347.7 218.1l-0.6 0.9M360 255.6l-0 0.1M411.1 249.1l0.9 0.2M438.1 168.8l0.3 0.3M340 177.4l-0.1 0.1M339.1 224.4l-0 0M431.1 199.6l-0.6 1.2M429.1 188.5l0.7 0.3M383.6 163.7l0.3 0.3M345.7 202.7l0.2 0M339.4 234l0.1 0.4M326.3 241.4l0.5 0.5M330.4 174.5l0 0M353 177.6l-0.1 0.4M388.5 171.8l-0.5 0.6M406.7 220.2l-1 0.2M333.1 237.1l-0.1 1.2M447.7 254.7l0.6 1M357.3 259.1l-0.8 0.9M401.4 186.6l1.3 0.2M437.2 253.5l0.4 0.1M412.1 250.8l0.5 0.1M370.9 201.6l-1 0.3M351.2 225.8l0 0M339.5 243l-1 0.4M395.8 214.7l0.3 0.3M449 171.4l0.5 0.5M457.2 177.9l0.5 1.4M403.9 249.4l0.6 0.3M411.4 162.9l-1.2 0M341.9 167.3l0.2 0.7M414.1 184.9l0.6 1.1M380 228.2l-0.7 0.9M391.6 234.2l1.1 0.5M349.2 170.7l-0.4 0.2M428.2 219.7l-0 0.3M410.3 192l0.7 0.8M426.7 186.8l0.8 0.3M436.3 205.6l-0.7 0.4M358 182.4l-0.6 1.3M332.1 223.1l0.5 0.1M402.6 251.5l-0.6 0.1M400.3 177.4l0 0.3M326.7 250.6l-0.6 0.4M346.3 201.8l0.4 0.7M383 228.8l-0.2 0.1M443.5 168.4l-0.5 0.9M423.7 159.7l-0.6 0M395.3 196.7l1.4 0.2M452.1 246.7l-0.3 0.8M441 202.4l-0.3 0.9M433.9 156.9l-0.2 0.4M444.5 249.1l-0.1 0.2M395.7 255.3l0.2 0.1M342.8 242.6l0.2 0.1M329.9 217.6l0.1 0.1M367.5 191.5l-1 0.1M393 167.3l-0.4 0.6M378.3 199.9l-0.2 0.5M409 258.7l0.3 1.4M430.7 239.4l0.8 0.3M332.8 204.9l-0.8 1M392.4 226.9l-0.7 0.7M344.5 190.2l-0.7 1.1M453.5 256.2l0.5 0.3M403.5 234.5l-1 0.9M426.4 251l0.3 0.1M450.3 243l-1.5 0M415.4 167.9l1.3 0.4M432.8 247.4l0.6 0.7M364.4 188.8l0.1 0.3M447.5 162.9l0.1 0.5M328.2 200.2l-0.3 1.4M418.3 249.6l1.2 0.2M387.8 233l0.4 0.5M402 222.4l-0.2 0.2M441.5 233.5l-0.2 0.3M443.2 260.1l0.4 0.2M345.4 211.1l-0.7 0.8M455.2 217.1l1.2 0.9M361.2 225.9l1.1 0.2M375.8 203.6l0.2 0.3M435.1 257.6l-0.5 0.4M459.4 250.5l0.2 0.2M336.3 182.8l-0.1 1.3M327.1 176.7l-0.2 0.3M359.7 257.3l0.4 0.8M350.5 184.6l-0.2 0M441.9 229.3l0 0M421.3 191.6l0.1 0.2M431.4 223.7l-0.5 0.6M334.3 174.2l-0.5 0.5M327.4 232.2l-0.6 0.4M372.6 158l1.2 0.1M433.6 244.7l-0.6 0.4M458 207.9l-0.4 0.8M347.4 190.3l0.5 1M328.8 176.6l-0.1 0M429 193.7l-0.5 0.5M336.9 178.7l0.7 0.1M405.8 235.6l0.9 0.2M446.1 196.1l0.1 0M350.1 242.7l-0.7 1.2M329.2 198.8l1 0.1M332.8 162.7l0 0.1M449.1 240.1l-0 0M381.3 209.9l0.6 0.3M388.7 212.6l-0.1 0M416.6 216.1l-1.1 1M452.6 229.6l0.9 0.7M338.4 212.9l0.6 0.6M362.7 162l-0.6 0.9" stroke="#e9b4d4" stroke-width="1.8" stroke-linecap="round"/>
<path d="M407.5 233.4l-1.1 0.2M427.3 172.9l0.8 0.4M338.9 156.5l0.3 0.2M368.1 188.5l0 0.5M370.5 210.9l1.1 0.4M325.9 207.6l1 0.4M452.8 221.9l0.6 0.2M333.7 184.6l-0.5 0.2M434.3 223.6l0.4 0.9M401.7 256l0.3 1.2M424.2 168.6l0.5 0.6M381.3 186.1l-0.2 0.1M403.5 181.1l0 0.5M444.4 206.3l0.7 0M322.3 162.6l0 0.1M363.9 203l0.1 0.1M364.5 165.4l-0.4 0.3M329.9 206.7l-0.5 0.1M423.2 241.2l-0.9 1.1M433.5 156.8l0 0M378.6 247.2l-0.5 0.1M391.1 219.8l0.7 0.1M423.9 183.6l-0.2 0.5M379.4 237.9l0.1 0.1M335.6 222l-0 0.1M451.9 188.8l-0.3 0.6M419.8 220.2l0.7 0.4M321.6 238.5l-0.1 0M439.3 181.1l-0.3 0.5M329.3 157.8l0.6 0.2M440.4 227.3l-1.3 0.5M416.3 203.4l0.3 0.1M360.9 183.8l-0 0.5M363.5 244.7l-0.7 0.8M409.1 245.2l0.1 0.2M454 239.8l0.6 0.1M342 189l-0.5 0.1M387.1 188.3l0.5 0.4M412.1 207.3l0.3 0.5M395.6 245.6l1 0.7M401.8 211.1l-0.2 0.9M447.6 201.6l-0 0.1M350.5 216.4l0.3 0.3M330.4 224.6l-0.9 0.3M353.6 235.7l-0.4 0.5M444.3 182.2l0.1 0.3M429.4 196.6l0.2 0.2M367 169.4l-0.6 0M354.6 248l0.3 0.3M399.2 228l-0.3 0.6M362.7 230.2l0.5 0.3M416.6 209.2l-0 0.3M338.9 204.2l-1.1 0.7M368.7 181.4l-0.4 1.3M422.7 199.2l-0 0M430.3 250.3l-0 0.2M420.6 163.6l0.8 1.1M351.3 197.8l-0.9 1M437.4 251.5l-0.5 1.1M408 221l0.2 0.3M438.7 215.2l0.3 0.5M438 185.7l0.1 0.2M336.1 219.1l0.1 0.1M374.4 236.3l0.5 0.1M422.4 252.3l-0 0.6M456.9 259.6l-0 1.3M340.6 192.7l-0.3 0.7M454.6 160.4l-0.1 0.3M405.9 228.3l0.5 0.2M458.1 159.5l-0.3 0.6M425.2 164.9l-0.3 0.9M446.7 172.3l0.1 0.1M362.5 209.8l-0.4 1.4M391.4 166.8l-0.1 0.1M350.6 256.1l-0.1 0.1M442 233.1l0.5 0.8M435.1 183.4l0.6 0.7M459.7 173.6l-0.5 1.1M325.4 231.2l0.4 0.8M418.6 220.7l0.8 0M458.9 169.6l-0.2 0.2M353.7 162.3l1.2 0.3M392.2 179.3l0.4 0.2M347.9 233.2l0.1 0.5M448.2 166.6l0.7 1.1M356.9 246.9l0.2 0.3M368.4 239.7l-0.2 0.1M420.6 156.8l-1 0.3M447.3 165.5l-0.1 0.2M407.8 216.9l0.7 1.1M451.9 258.4l-1 0.1M389.4 199.6l0.5 0.5M377.6 245.2l0.6 0.6M334.1 176.2l0.6 0.6M376 233.3l-0.3 0M454.1 175.5l0.4 0.5M345.4 183.4l-0.3 0M386 167.5l0.3 0M337.1 258.9l-0.4 0M419.4 231.9l-0.4 0.5M415.8 208l-0.3 0.1M347.4 218l-0.7 0.6M355.8 226.7l-0.2 0.2M371.3 185.4l-0.8 0.7M405 212.4l0.9 0.4M367.9 197.9l1 0.2M406.2 163.9l1.4 0.3M444 241.7l1.1 0.8M386.9 219.2l0.3 0.2M450.4 255.4l0.9 0.3M409.2 237.6l0.3 0.1M345.5 181.5l0 0.4M367.9 217.4l-0.2 0.8M324.3 162.6l1.2 0.8M394.3 253.4l-0 0.2M459.2 259.5l-0.8 0.8M431.5 223.8l-0 0.6M436.3 194.8l-0 0.2M339.4 236.1l0.9 0M380.8 173.8l-0 0.8M434.1 238.2l-0.3 0.9M395.3 220.9l0.1 1.4M365.3 198.7l-0.1 0.4" stroke="#b96ca9" stroke-width="1.8" stroke-linecap="round"/>
<path d="M415.1 177.6l-0.8 1.2M348.6 234.9l-0.5 0.1M368.5 219.8l0.7 1.2M342 228l0.1 0M416.9 186.9l-0.4 0.8M416.6 257.8l-0 0.8M344.4 243.3l0.1 1M403 181l0.6 0M403.8 183.3l0 0.6M379.4 161.7l0.9 0.1M370 182.1l-1.1 0.6M457.3 241.1l-0.6 0.8M346 224.2l-0.9 0.3M439 223.4l0.8 0.7M453.7 221.3l0.1 0M396.3 196.5l0.5 0.2M459.6 234.9l1 0.5M379.8 257.4l0.5 0.4M383.6 224.4l0.3 0.7M420 253.8l-0.5 0M394.5 196.7l0.5 0.7M383.2 215.9l0.4 0.2M389.7 212.1l-0.2 1M357.2 193.5l0.6 0.7M451.9 238.5l-0 0.2M336.3 209.5l-0.7 0.1M374.2 222.2l0.6 1M389 247.2l0.3 0.4M322.2 213.5l-0.4 0.2M332.8 222.9l-0 0.1M334 187.8l0.1 0.1M407.8 167.9l0.5 1.1M345.4 199.1l0.1 0.4M401.7 208.7l-0.4 0.3M338.3 176.3l0.2 0.3M330.4 167.7l-0.9 1M355.6 194.6l0.1 1.3M422.4 177.8l0.8 0.3M395.7 236.4l-0 0.1M452.3 160.8l0 0M335.8 181.1l-0.3 0.7M346.5 202.6l-0.7 0.2M429.8 170.2l-0.7 0.3M443.9 187.2l0.7 1.2M358.3 199.2l-0.3 1.1M450.4 159.5l0.3 0.1M415.5 205.5l0.2 1.2M358.1 190.7l-0.3 0.6M401.9 218.6l-0.5 1.2M397.2 219.5l-0.2 0.7M457.3 176.3l-1 0.4M358.2 232.3l-0.1 0.3M436.8 157.1l-0.4 1.2M350.4 258.9l0.3 0.2M445.1 171.2l0.3 0.4M336.1 189.2l0.5 1.1M439.8 254.6l1.1 0.9M426.2 194.6l-0.4 0.5M322.1 204.9l-1 0.2M416.3 219l-0.5 0.4M413.3 207.1l-1.5 0M331.7 171.4l-0.9 1.1M369.1 248.8l0.9 0.2M360.9 211.8l-0.2 0.3M339.3 254.4l-0.4 0M406.4 207.1l-1.1 0.4M375.7 257.2l1.1 0.6M456.1 162l0 0.2M369.1 225.5l-0.1 0.3M325.9 193.8l-0 0.6M402.9 206.6l0.8 0.4M399.7 239.2l0.3 1.3M325.1 172.4l0.7 0.8M423.3 161.3l0.1 1.1M452.6 188.6l0.3 0.4M365 220.5l0.2 0M400.9 190.6l0.1 0.1M456 218.3l0.1 1.3M420.7 229.1l-0.4 0.2M406.3 189.1l0.3 1M330.9 249.7l-0.5 0.1M369 255.9l0.2 0.1M453.3 258.3l0.7 0.3M418.3 175.4l-0.1 0.1M362.4 227.1l-0.4 0M406.8 212.5l-1.2 0.7M387.4 173.4l-0.3 1M372.7 187.2l-1.1 0.2M380.8 260l0.1 0.7M422.9 203.9l-0.1 0M382.2 174.7l0.7 0.3M438.4 249.1l-0 0.9M388.2 200.2l-0.6 1.3M337.4 157.8l1.1 0.7M330.6 222.8l0.2 1.4M343.6 209.9l-0.6 0.1M444.1 208l0.2 0.4M427.2 173.4l0.3 0.1M458.2 163.6l-0.1 0M379.4 238.8l-0.2 1.3M452.6 216.7l0 0.2M406.2 197.5l-0.1 1.3M455.2 231.9l0 0M322.3 206.1l-0.8 0M371.3 157.4l-0.4 0.2M449.5 173l0.5 1M457.1 231.9l0.3 0.4M379.2 177.5l-0.7 0.2M447.9 217.5l0.3 0.8M333.2 247.8l0.4 1.4M370.8 248.4l0.2 0.1M369.1 218.1l0.4 0.2M353.9 211.1l0.3 0.6M453.4 159.8l0.3 1.4M368 258.8l0.4 1M329.5 219.7l0.1 0.2M328.6 203.2l-0.3 0.1M331.1 251.5l1 0.8M426.4 194l-0.1 0.6M429.5 157.6l1.3 0.5M402.9 234.3l0.5 0.5M410.4 165l-1.2 0.5M399 220.1l0.5 0.2M435.4 180.2l-0.1 0.1M395.4 222.6l0.9 1M448.1 257.7l0.3 0.4M327.9 182.8l-0.2 0.1M427.7 202.2l-1.2 0.4M409.3 172.1l-0.3 0.5" stroke="#d883b4" stroke-width="1.8" stroke-linecap="round"/>
<path d="M402.5 220.5l-1.7 0.5M323.3 230.1l-0.1 1.3M353.9 202.2l0.2 0.9M448 187.7l0.1 0.4M367.3 182.3l0.2 0.5M361.8 191.5l0.1 1M409.7 223l0.1 0.9M392.7 224.2l0.8 1.6M433.1 244.2l0.6 0.3M406.9 246.6l0.2 1.5M404.6 156.7l-1.7 0.1M373.8 240.8l1 0.8M410 196.9l-0.4 0.2M346.2 215.5l-0.2 0.3M415 179.5l-0.1 1M423 198.3l-0.6 0.5M452.6 193.1l0.7 0.4M451.5 228.3l0.2 0.4M416.7 231l0.8 0.4M434.1 220.3l-1.2 0.1M345.2 209.6l-1.1 1.4M364.4 171.5l-1.2 0.7M339.3 205.7l-1 0.1M396.2 166.3l-0.9 0M396.6 187.5l-0.9 0.2M411.3 240.5l-0.9 0.6M437 229.4l0.5 0.9M398 214.7l-0.5 0.8M435.9 246.6l1.2 0.7M344.4 194.3l-0.3 0.2M456.2 178.9l-1 0.5M395.6 253.4l0.8 1.5M423.8 207.7l0.1 1.5M328.5 180.1l0.6 1.2M449.5 226l1.4 0.7M456.9 238.8l0.9 1.2M338.2 216.4l-0.7 0.9M366.3 214.4l-0.3 0.9M361.3 176.2l-1.7 0.2M339.6 175.5l-0.2 1.5M402.4 259l0.4 0.8M345 236.8l0.5 0.4M448.6 173.8l0.8 1.4M357 179.2l-1.6 0.6M370.4 227.2l-0.5 1.4M412.8 170.6l-0.3 0.4M435.7 164.4l0.9 0.6M435.1 193.2l0.2 0.5M417.1 188.1l0.2 0.3M356.1 173.2l0.6 0.2M437.2 209.1l-1.1 0.3M389.4 215.4l-0.4 0.5M357.2 222.8l-0.5 0.9M381.5 243.4l0.4 0.2M413.1 238.2l0.9 1.5M362.2 182.7l-0.5 1M325.4 164.9l0.8 0.3M324.9 234.5l-0.5 1M357.9 172.5l-1 0.2M362.3 203.9l-0.2 1.6M394.3 184l1.5 0.4M433.4 229.4l1.3 1M389.4 229.2l1.1 0.1M430.2 240.3l-0.8 0.6M355.9 246.1l-1.6 0.5M394 251.2l1.6 0.1M347.7 176.7l0.3 1.2M358 176.7l-1 0.6M382.1 236.3l-0.8 1.5M375.9 172.1l1.3 0.3M365.9 161.2l-0.1 1.2M447.8 186.6l0.8 1.5M414.9 171.7l0.2 0.5M419.6 226.6l0 0.4M391.8 182.1l-0 0.6M331.5 248.6l-0.6 1.4M408.2 159.8l-0.7 0M325.5 187l0.9 0.2M416.8 209.2l0.1 1.8M386.8 255.3l-0.5 0.8M439.8 178.1l1.3 1M371 204.3l-0.8 1.5M398 256l-0.7 1M407.1 182.6l-0.6 0.2M447.9 232.1l0.2 0.5M430.4 226.5l-0.5 0.3M344.7 176l-0 1.4M372.4 167.3l0 1M434.9 259.3l-0 0.7M348.5 157l0.6 0M355.2 197.9l-1.4 0.8M438.9 223l-1.7 0.1M359.4 196.1l-1.8 0.1M369.3 182.4l-0.3 0.2M456.4 177.9l-1 0.8M386 246.8l1 0.9M353.5 236.2l-0.5 1.2M431.3 204.3l-0.7 1.3M447.1 221.5l1 0.2M445.4 228.9l1.3 0.7M424.7 168.4l1 0.5M352.6 158.2l-1.5 0.8M454.4 182l-0.4 0M427.1 192.7l-0.1 1.8M422.4 193.1l-0.6 0.7M395.2 162.3l-0.4 0M322.1 182l-0.8 1.2M337.1 187.2l-0.1 1.7M351.8 172.8l0.3 0.5M452.3 252.1l1.3 0.1M370.7 168.4l-0.6 0.4M323 182.1l-0.5 0.3M459.1 216.2l-1.3 0.8M426.5 227.1l1.4 0.7M332.6 193.6l-1.4 0.3M358.3 257.3l-0.2 0.4M397.4 190.1l-0.4 0.1M394.5 179.4l-0.2 0.5M345.7 242l-0.2 0.9M328.3 163.4l-0.2 0.7M440.8 180.9l-1.6 0.6M324.3 205.2l0.2 1.3M453.2 159.9l-0.9 0.4M372.5 227.9l0.2 0.4M325.7 161.3l-0.5 0M419.5 202l-0.6 0.2M342.3 177.8l0.1 0.3M378.6 204.3l-0.7 1.3M438 180.2l-1.6 0.8M450.8 186.1l-0.4 0.5M439.4 212.7l0.3 0.4M455.6 171l1.5 0.6M442.5 158.9l-1.2 1.2M437 168.6l-0.5 0.2M342.5 198.6l-0.9 0.5M442 157.4l-1.3 0.4M450.4 173.4l0.9 0.4M349.1 225.1l-0.8 1.5M356.3 213.6l-1.3 0.1M355.5 246.8l0.2 1.3M365.3 231.2l-1.6 0M401 190.6l1 0.6M356.9 246.5l0.6 0.5M374.8 246.9l-0.1 0.5M323.6 177.5l-0.3 1.2M396.7 225.2l0.6 0.8M454.7 251.2l-0.6 0.4M456.4 255.2l0.4 0M357.5 245.7l0.1 1.2M355.9 170.4l-0.6 1.5M416 235.4l0.8 0.1M453.7 250.9l-0.1 1M437.5 174.1l-1.4 0M411.5 202l-0.7 1.5M384 210.6l0.8 1.4M384 200.8l1.3 1.2M456.3 235.4l0.2 0.6M329 172.4l-0.5 1.2M446.7 180l-1.6 0.4M432.3 224.7l0.7 0.7M435.3 201.4l-1.3 0.8M420.6 177.2l-0.1 0.3M343.4 164.9l0.7 0.5M350.9 193.9l0.1 0.6M347.3 258.6l1.5 0.9M378.9 215.2l-0.4 0.2M446.7 203.7l0.7 0.2M431.9 194.1l-1.4 0.7M439.8 221.4l-1 1.1M442.5 255.3l1.7 0.2M458.2 198.7l-0.7 1.4M431.9 167.6l-0.6 0.3M420 188.8l-0.6 0.3M335.2 202.1l0.2 0.5M456.1 256.2l-0.8 1.3M408.6 195.2l0 0.6M324.4 241.5l-0.2 1.1M382.9 235.3l-1.1 0.8M425.8 238.7l-1.4 0.8M391.8 185.3l-0.7 0.6M333.7 165l-0.3 0.1M449.9 205.3l-0.9 0.1M389.4 198.6l0.9 0.9M370.3 206.4l1.4 0.5M324.1 231.4l0.2 0.2M389.6 249.1l0 0.4M373.3 231.6l-0.4 0M399 165l0.3 1.6M408.7 222l0.4 1.3M405.3 214l-1.1 0.2M367 185l0.6 1.6M379.4 160.5l-1.4 0.4M439.5 230.3l-0.5 0.2M439 159.7l-0.6 0.1M341.2 207.9l-0.7 1.4M391.5 249.7l0.3 0.3M362.2 179.6l-0.3 1.6M435.7 216.1l1.2 0.3M418.8 230.9l0.6 0.1M399.3 217.6l-1.7 0.3M423.3 203.3l-0.7 0.7M345.3 220.6l-0.2 0.6M340.7 199.4l-0.8 1.3M328.1 157.8l0.7 0.3M376.6 187.5l1.1 0.8M409.2 195.6l0.2 1.1M374.4 221.5l0.2 0.3M330.3 159.2l-1 0.7M405.9 191.6l-0.1 1.2M358.6 166.8l0.9 0.3M418.5 219.2l0.9 0.4M332.7 213.9l-0.9 0.1M399.6 215l0.7 0.7M383.5 181.6l0.2 1.2M369.4 228.1l-1 0.3M428.6 253.6l-1.1 0.7M450.9 199.7l0.4 0.1M458.6 181.5l0.4 0.3M348.4 166.8l-0.2 1M427.7 246.7l0.3 0.8M378.1 211.6l0.4 1.6M400.2 190.6l-1.1 0.4M392 175.6l0.4 1M439.7 238.6l0.5 0M361.6 191.9l1.1 1.2M441.1 173l0.6 0.3M352.8 167.1l1.6 0.3M374.5 221.5l-1.6 0.6M424.5 205.5l0 0.6M368.7 257.6l1.7 0.3M350.1 235.3l0.7 1.6M374.5 215.3l0.9 0.5M343.2 228.7l-0.1 0.3M335.7 249.6l-0.1 0.5M328.9 185l-0.6 0.1M441.2 243l1.1 0.2M348.2 157.6l-1 0.4M325.4 173l0.7 1.3M431.7 194.6l0.3 0.8M373.1 187.6l-0.1 0.5M427.3 164.3l-1 0M392 202.8l0.4 0.3M330.8 181.9l1 0.3M421.5 159.6l-0.6 0.5M457.4 205l0.1 0.3M433.3 186.8l-0 0.3M415.3 168.3l0.3 0.1M364.8 229l0.1 0.3M458.6 225.9l-1 0.9M346 253.6l-1.1 0.7M379.1 205.4l-0.8 0.1M456.6 229.7l0.1 0.6M419.7 239.3l-0 0.5M382.1 224.1l-1.1 0.4M401.5 217.8l-0.8 0.7M327.9 163.4l0.9 1M405.4 253.6l-0.7 0.1M437.9 225.5l-1.2 0.7M393.8 243.9l-0.5 0.2M451.6 227.3l0.3 0.1M368.9 236.6l0.6 1.7M325.5 223.2l-0 1.2M400.4 183.1l0.3 0.4M377.4 210l1.6 0.6M406.5 164.7l0.3 0.4M411.4 195.2l0.2 0.8M340.6 245.5l0.6 0.2M404.6 252.3l1.1 0.2M420.2 227.9l-0.9 0.8M450.3 222.4l0.9 1M339.8 200.5l0.3 0.2M408 244.6l0.3 0.5M415.7 222.7l-0.3 1.2M326.5 202.2l-0.8 0.1M448.3 179.7l0.5 0.3M388.6 239.4l-1.1 1.1M406.5 250.8l-0.6 0.3M340.1 158.1l0.3 0.5M395.8 182l-0.1 0.4M355 188.4l-1 0.7M450.9 231.1l-1 0.2M351.3 178l-1.4 0.2M397.1 237.6l-0.3 0.2M340.9 164l0.1 0.5M420.2 199.4l-1 0.9M364.8 250.4l0 0.3M376 165.7l1 1M324 248.7l-1 0.3M414.8 228.1l0 0.5M440.3 231.5l0.9 1.5M423.1 163.1l1.4 0.8M421.9 191.7l0.7 0.6M362.9 209.3l0.4 0.3M328.1 231.8l-0 0.5M375 179.2l0.7 1.2M370.8 236.9l-0.1 1.3M457.1 210.2l-0.6 0.1M415.7 230.2l1.4 0.1M378.4 215.2l-0.6 1.4M327.8 205l-1.2 0.3M383.8 195.2l0.2 0.3M331.3 259.8l1.2 0.7M354.6 215.9l0.8 1.1M457.9 243.1l-0.8 0.7M410.1 218.5l0.9 1.3M351.7 201.8l1.1 0.7M332.1 233.2l0.3 1.5M421.3 254.2l-0.1 0.4M423.1 201l0.5 0.1M378 230.1l-0.8 0.2M454.1 237.7l0.4 0.8M448.8 164.2l-0.3 0M438.9 210.8l-1.3 0.9M404 239.1l-0.2 1M429.5 197l0.2 0.8M399.7 241.7l-0.1 0.3M330.3 211.3l-0.1 0.5M336.8 163.8l0.4 0.5M418.5 219.6l0.7 0.3M389.4 223.3l0.2 0.8M324.8 164.4l-0.9 1.2M423.3 211.3l-0.4 0.3M431.4 162.5l-0.3 1M376.9 230.2l-0.9 0.8M402.9 162.3l0.3 0.1M376.8 186.2l0.6 0.4M331.2 167.3l-0 1.7M413.9 233.7l1.1 0.1M454.8 247.4l0.8 0.1M357.1 175.4l0.6 0.3M338 191.5l-1.6 0.2M428.7 247.6l0.8 0.8M359.5 190.1l1.4 0.2M374.8 177.5l-0 0.8M349.6 258.3l-0.2 0.5M341.5 243.7l-0.6 0M397 190.8l1.1 0.6M362.4 222.2l-0.4 1.1M379.6 164.1l-0.4 0M342.1 198.7l-1.1 0.2M367.2 165.2l0.9 0.8M458.2 255.9l-1.7 0.4M359.7 163.3l-0.2 0.3M392.2 241.5l0.4 0.5M353.4 214.1l-0.2 0.7M432.9 208.2l0.1 0.3M384.5 192.2l1.4 0.8M438.4 181.9l1.2 0.9M391 251.2l-1.2 0.3M367.7 210.6l-0.5 1.5M362.1 200.1l0.6 1.3M362.5 196.8l1.6 0.1M343.8 256.8l0.3 0.1M367.6 195.2l-1.7 0.5M339.4 201.1l0.8 0.8M350.1 184.6l0.1 1.5M453.9 221l-0.4 0.5M379.8 207.5l0.4 0.4M323.1 218l-0.2 0.9M412.3 235.1l0.9 0.9M430.7 180.7l-0.4 0.3M355.7 184.3l-0.2 0.8M387 242.6l1.2 0.6M328.9 162.1l-0.6 0.2M427.4 256.9l-0.6 1.4M456.4 232.5l-1.2 0.7M440.1 189.9l-0.9 1.1M436.2 165.9l0.7 1.5M428.5 231.4l0.2 1.6M372.3 173.1l1.1 0.4M324.8 255.8l0.5 0.2M418.3 158.4l-0.5 0.8M409.8 239.8l0.7 1.3M391.2 247.1l0.9 0.6M455.1 219l-0 0.6M364.3 172.3l0.3 1.1M346.6 158.1l-0.3 1.1M376.5 166.9l0.7 0.2M441.6 167.1l0.4 0.1M328.9 214l-0.2 1.5" stroke="#e2c4d8" stroke-width="1.2" stroke-linecap="round"/>
<polygon points="321.3,153.8 321.4,154.9 321.9,155.2 322.9,154.7 323.3,154 323.4,152.9 324.2,152.5 325.8,152.8 327.1,153.1 328.2,153.2 329.3,153.2 330.5,153.1 331.1,153.8 331.2,155.1 332.4,155.4 334.7,154.7 335.8,154.3 335.7,154.2 336.6,154.1 338.5,154.1 339.4,154.6 339.2,155.7 339.5,155.3 340.4,153.5 341,153 341.3,153.8 342.6,154 344.9,153.6 346.8,153.3 348.3,153 349.5,153.7 350.4,155.4 350.6,156.2 350.2,156.2 350.2,155.6 350.7,154.3 351.8,154 353.4,154.7 354.8,154.4 355.9,153.2 356.9,152.8 357.9,153.4 359.1,153.8 360.3,154 360.7,154.8 360.1,156.1 359.1,156.5 357.5,156 356.1,155.7 354.8,155.6 354.1,156 353.9,156.9 353.4,157.3 352.4,157.1 351.3,157.7 349.9,159 348.7,159.2 347.7,158.3 346.8,158.3 345.9,159.2 345.1,159.4 344.5,158.7 343.2,158.8 341.3,159.6 340.6,159.8 341.1,159.5 340.9,159.6 339.8,159.9 338.7,160.1 337.4,160.3 335.6,161.2 333.3,162.9 332.5,163.4 333.3,162.5 333.2,161.8 332.3,161.3 331.1,161.7 329.6,163 328.1,163.3 326.3,162.4 325.3,162.6 324.9,164 324.3,164.8 323.5,165 322.3,165 320.8,164.8 320.1,165.2 320.3,166 320.1,166.1 319.5,165.5 318.9,163.9 318.3,161.5 318.3,159.8 318.9,158.7 319.4,158.7 319.9,159.6 320.3,158.7 320.7,155.8 321,154.2 321.1,153.6" fill="#dfdfe1" stroke="#e6bcd3" stroke-width="1.6" stroke-linejoin="round"/>
<polygon points="320,183.7 321.4,184.1 322,184.2 321.8,184 322.5,183.6 324.2,182.9 325.3,183.1 325.9,184.1 325.8,185.3 325.1,186.8 324.6,187.7 324.2,188.1 323.8,188.3 323.2,188.5 322.9,188.9 322.9,189.6 321.7,190.4 319.1,191.3 318.2,191.7 318.9,191.5 319,190.9 318.4,190 318.6,188.5 319.6,186.4 320,185.5 319.9,185.8 319.8,185.4 319.4,184.2" fill="#dfdfe1" stroke="#e6bcd3" stroke-width="1.6" stroke-linejoin="round"/>
<polygon points="334.3,194.5 334.3,192.8 334.7,192 335.4,192.3 336.8,192.3 338.9,192.2 340.4,192.5 341.2,193.3 341.8,193.5 342.3,193.2 343.5,192.9 345.4,192.7 346.6,192.9 347,193.3 348,193.2 349.5,192.6 350.9,192.6 352.3,193.1 353,193.5 352.9,193.6 353.5,193.4 354.6,192.8 355.7,192.8 356.6,193.3 357.1,193.4 357.2,193.1 357.9,192.8 359.2,192.3 361.1,190.9 363.6,188.3 364.7,187 364.6,187 365.4,187.6 367.2,188.8 368,189.2 367.9,188.9 368.2,188.9 368.9,189.2 369.2,190.7 369.1,193.3 368.4,193.9 367.1,192.4 366.4,192 366.4,192.8 365.8,193 364.7,192.6 363.9,193.3 363.2,194.9 362.3,196.5 361.1,198 360.6,199.4 360.7,200.4 360.5,201.4 360,202.3 358.6,203 356.1,203.5 355.4,204.5 356.5,205.8 356,206.8 353.8,207.3 353,207.6 353.5,207.6 353,207.8 351.6,208.1 350.1,208.4 348.8,208.9 348,209.4 347.9,210 346.9,210.3 345,210.3 344,209.8 343.7,208.8 342.5,209 340.4,210.3 338.8,210.3 337.7,208.9 337.3,208.2 337.6,208.3 337.2,209 336,210.4 334.7,210.4 333.3,209 331.7,208.6 329.9,209 329.7,208.2 330.9,206.1 331.3,205.1 330.9,205.2 330.7,204.3 330.5,202.3 330.6,201.3 330.9,201.4 331.4,200.2 332.1,197.9 332.3,196.9 332,197.4 332.5,197 333.6,195.9" fill="#dfdfe1" stroke="#e6bcd3" stroke-width="1.6" stroke-linejoin="round"/>
<polygon points="358.4,218.1 359.5,216.8 360,216 360,215.7 361,215.3 363,215 364.2,215 364.5,215.4 365.3,216.2 366.7,217.5 367.1,218.7 366.3,220 365.9,220.9 366,221.4 365.5,222.6 364.3,224.4 364.2,225.3 364.9,225.3 365.3,226.3 365.3,228.6 365.1,230 364.7,230.4 363.6,231.1 361.9,232.2 361.1,233.1 361.3,233.9 360.5,233.8 358.6,232.6 357.6,232.4 357.5,232.9 357.4,232.4 357.2,230.8 356.7,229.4 355.9,228.2 356,227.4 356.9,226.9 356.7,226.7 355.4,226.9 354.7,226.2 354.6,224.6 355.4,223.7 357.1,223.7 357.2,222.7 355.7,220.7 355.2,219.6 355.8,219.3 356.5,219 357.5,218.8" fill="#dfdfe1" stroke="#e6bcd3" stroke-width="1.6" stroke-linejoin="round"/>
<polygon points="321.6,240.2 322.4,239.3 322.8,239.2 322.6,239.9 323.5,240.2 325.4,240.1 326.5,240.5 326.7,241.2 328,241.2 330.2,240.3 331.8,240.1 332.6,240.8 333.4,240.9 333.9,240.4 334.7,240.7 335.8,241.9 336.5,242 336.7,241 337.4,241.2 338.5,242.6 339.6,244.3 340.8,246.3 340.9,247.8 339.9,248.7 340.1,249.5 341.4,250.3 341.7,250.9 340.9,251.1 341.4,251.2 343,251 342.9,252.4 341.2,255.2 340.5,256.7 341.1,257.1 341.6,257.3 342.1,257.5 341.8,258 340.4,259 340.6,259.9 342.3,260.7 342,261.8 339.7,263.2 338.5,263.7 338.1,263.1 337.2,262.3 335.9,261.4 335,261.6 334.6,262.9 333.6,263.3 332,262.8 331,262.6 330.8,262.7 330,262.9 328.6,263.1 327.4,263.3 326.2,263.6 325.8,263.2 326.2,262.3 325.4,261.9 323.3,262.1 322.3,262.4 322.2,262.9 321.7,263.1 320.7,263.3 320,262.6 319.8,261 319.2,259.6 318.2,258.2 318.2,257.6 319.3,258 320.2,257.4 320.9,256 321,254.6 320.3,253.2 320.2,252 320.6,251.1 320.8,250.3 320.6,249.5 319.9,248.8 318.7,248.2 318.2,246.9 318.4,244.9 318.9,244.1 319.6,244.3 319.7,244.3 319.2,244.1 319.5,243.2 320.6,241.5" fill="#dfdfe1" stroke="#e6bcd3" stroke-width="1.6" stroke-linejoin="round"/>
<polygon points="327.4,230.1 327.6,230.1 328.4,229.6 329.9,228.6 330.5,229.2 330.3,231.3 330.1,232.5 330.1,232.6 329.9,232.4 329.7,231.7 329.1,232 328.1,233.1 327.2,232.9 326.5,231.3 326.4,230.4 327,230.2" fill="#dfdfe1" stroke="#e6bcd3" stroke-width="1.6" stroke-linejoin="round"/>
<polygon points="367,207.9 368.1,207 369.3,206.1 370.5,205.3 371.9,205.4 373.5,206.4 374.4,206.3 374.7,205 375.3,205 376.2,206.1 376.7,207.5 376.8,209 375.8,210.2 373.7,211 372.2,211.6 371.5,211.9 371.1,211.7 371.1,211 370.6,210.4 369.8,209.8 369.1,209.1 368.7,208.4 367.9,208.1 366.9,208.3" fill="#dfdfe1" stroke="#e6bcd3" stroke-width="1.6" stroke-linejoin="round"/>
<polygon points="384.7,247.7 386.7,247.3 388.1,247.8 388.9,249.2 389.8,249.9 390.9,249.9 391.8,249.7 392.7,249.5 392.8,250 392.2,251.2 392,252.3 392.1,253.2 392.4,254.2 393.1,255.2 393.7,255.9 394.2,256.3 393.9,256.8 392.5,257.2 392.2,258.5 393,260.8 392.9,261.9 392.1,261.9 391.6,262.2 391.5,262.6 390.2,262.9 387.9,263 386.2,263.2 385.2,263.3 384.1,263.1 382.9,262.7 382.8,261.7 383.9,260.2 384.3,258.9 383.9,257.8 384.2,257.5 385.2,258.2 385.8,257.8 386,256.5 385.7,255.4 385,254.5 385,252.9 385.8,250.5 385.6,249 384.3,248.3" fill="#dfdfe1" stroke="#e6bcd3" stroke-width="1.6" stroke-linejoin="round"/>
<polygon points="408.8,155.3 410.4,155.1 411.6,155 412.4,154.7 413.4,154.1 414.6,153.2 416,152.8 417.7,153 418.3,153.8 417.9,155.1 418.1,155.5 418.9,154.9 420.6,154.7 423.2,154.8 424.4,154.5 424.3,153.5 425,153.9 426.5,155.4 427.6,155.6 428.5,154.4 429.3,154.4 430,155.7 430.5,156.3 430.6,156.1 431.9,155.9 434.3,155.9 435.1,155.7 434.6,155.6 434.9,155.8 436.2,156.6 436.1,157.8 434.7,159.4 434.8,160.3 436.4,160.5 436.7,161.2 435.7,162.4 435.9,163.9 437.2,165.8 438,167.2 438,167.8 437.6,168.1 436.7,167.9 436.1,168.3 435.7,169.4 435.7,171.2 436,173.7 436.3,175.6 436.7,176.7 436,177 434.4,176.3 433.8,176.2 434.2,176.7 433.3,176.9 431,176.7 429.8,176.9 429.5,177.5 429.3,178.1 429.2,178.8 428.8,178.7 428.1,177.7 427.1,177.6 425.8,178.4 424.9,178.3 424.2,177.2 422.5,176.6 419.8,176.4 418.7,176.1 419.2,175.5 419.4,174.5 419.3,173.3 418.7,172.4 417.6,171.8 416.6,170.7 415.9,169.1 414.8,168.6 413.3,169.1 413.2,168.1 414.4,165.5 414.3,164.3 412.9,164.7 412,164.5 411.6,163.9 411.2,162.6 410.6,160.5 410.4,159.7 410.4,160.1 410,159.1 409.1,156.8 408.5,155.6 408.2,155.4" fill="#dfdfe1" stroke="#e6bcd3" stroke-width="1.6" stroke-linejoin="round"/>
<polygon points="445,169.6 447.6,169 448.7,168.9 448.3,169.2 449,169.3 450.8,169 452.2,168.8 453.2,168.6 453.7,169.1 453.8,170.2 455,170.8 457.2,171 458.1,170.4 457.6,169.1 457.8,168.2 458.8,167.8 460.4,167.8 462.7,168.1 463.3,169.2 462.3,171.1 461.9,172.6 462.1,173.7 462.1,174.1 461.7,173.9 461.9,174.6 462.4,176.2 463,177.6 463.7,178.7 463.3,179.3 461.9,179.5 461.8,180.6 462.9,182.7 463.2,184 462.4,184.5 461.9,185.4 461.6,186.8 461.6,188 461.9,189 462.2,189.8 462.5,190.7 462.3,191.7 461.6,192.9 461.1,192.5 460.6,190.7 459.7,190.2 458.5,190.8 457.9,191.6 457.8,192.4 456.6,192.6 454.5,192.2 452.6,191.7 451,191 450.6,190.3 451.3,189.5 451,188.4 449.7,186.9 448.5,186.6 447.6,187.3 447,186.6 446.8,184.5 446.6,183 446.3,182.2 446.6,181 447.4,179.6 447.1,178.6 445.8,178 445.7,177.6 446.9,177.5 447.4,177.1 447.1,176.5 446.2,175.2 444.8,173.3 444,171.7 443.7,170.5" fill="#dfdfe1" stroke="#e6bcd3" stroke-width="1.6" stroke-linejoin="round"/>
<polygon points="413.9,192.9 415.7,193.1 417.4,193.2 418.9,193.3 420.2,192.5 421.5,190.8 422.2,190 422.3,190 422.4,190.9 422.6,192.8 423,194.3 423.8,195.5 423.9,196.8 423.3,198 423.6,199.2 424.9,200.3 425.6,201.1 425.7,201.6 424.8,202.5 422.9,204 421.8,205.2 421.6,206 422,206.9 423.2,207.8 423.5,208.2 423.1,208.2 422.4,208.5 421.4,208.9 420.2,209.3 418.9,209.6 417.6,209 416.1,207.6 415.6,207.6 416.1,208.8 415.8,208.8 414.9,207.5 414.4,206.3 414.2,205.1 414.1,204.6 413.9,204.8 414,204.6 414.3,203.9 414.4,202.5 414.6,200.4 414.6,199.2 414.4,199.1 413.9,198.3 413.1,196.9 413.5,195.2 415.1,193.2 415.2,192.4 413.7,192.7" fill="#dfdfe1" stroke="#e6bcd3" stroke-width="1.6" stroke-linejoin="round"/>
<polygon points="443,155.4 444.1,155.5 445.1,154.9 446,153.6 447.3,153.6 448.9,154.8 450.1,155.5 450.7,155.9 451.3,155.9 451.7,155.8 452.8,155.1 454.5,153.9 455.5,154 455.7,155.4 456.4,155.3 457.5,153.9 458.2,153.1 458.5,153.1 459,153.4 459.6,154 460.5,154.6 461.7,155 462.4,155.8 462.8,156.8 462.9,157.2 462.8,156.9 462.3,157.1 461.6,157.8 460.7,158.4 459.5,159 458.6,159.6 457.8,160.2 457.7,160.3 458.1,159.8 457.8,160 456.7,161.1 455.9,161.4 455.3,160.9 454,160.8 451.8,161.2 450.6,161.3 450.6,161.1 449.7,160.4 447.9,159.1 446.7,158.5 445.9,158.5 445.6,158.5 445.8,158.6 445.1,159.3 443.4,160.4 442.6,159.8 442.7,157.4 442.7,155.7 442.7,154.7 442.6,154.5 442.5,155.1" fill="#dfdfe1" stroke="#e6bcd3" stroke-width="1.6" stroke-linejoin="round"/>
<polygon points="404.6,154.5 405.9,155.4 406.9,155.3 407.8,154.2 407.9,154.6 407.3,156.4 407.5,157.9 408.6,159 409.1,159.4 409.1,159.1 407.9,159.1 405.6,159.5 404.4,159.6 404.3,159.5 404.2,158.7 404.2,157.4 403.8,156.4 403.3,155.8 403.2,155.1 403.7,154.3" fill="#dfdfe1" stroke="#e6bcd3" stroke-width="1.6" stroke-linejoin="round"/>
<polygon points="403.8,215.4 404.9,215 405.7,215.6 406,217.1 406.2,217.3 406.4,215.9 407.3,215.3 408.7,215.4 410.3,215.6 412.2,215.9 413.4,215.9 414,215.5 414.3,215.4 414.4,215.6 415.5,215.8 417.8,216 419.3,215.8 420,215 420.7,216 421.2,218.6 420.9,219.7 420,219.1 419.4,219.5 419.1,220.9 418.9,222.9 419,225.5 419.8,226.8 421.3,226.7 422,227.6 421.8,229.3 421.1,230.3 419.8,230.7 418.8,231.7 418.2,233.3 418,234.3 418.2,234.6 418.1,235.7 417.8,237.4 417.4,238.2 416.9,238 415.8,237.9 414.2,237.9 412.8,237.5 411.6,237 410.7,237.2 409.9,238.3 409.1,238.1 408.4,236.6 407.4,236 406.3,236.3 405.2,236.3 403.9,236 403.6,234.9 404.4,233.1 404.3,231.6 403.5,230.6 403,229.7 402.8,228.9 402.9,228 403.4,226.9 403.3,226.1 402.5,225.6 401.5,224.6 400.2,223.2 400.4,222.7 402,223.3 402.2,222.7 400.8,221 400.1,219.4 400.2,217.7 401,216.6 402.5,215.9" fill="#dfdfe1" stroke="#e6bcd3" stroke-width="1.6" stroke-linejoin="round"/>
<polygon points="435.2,212.6 435.1,211.2 435.3,211 435.8,212 436.8,212 438.4,210.9 439.6,210.6 440.5,211.1 441.7,211.7 443.2,212.2 444.6,212.4 445.9,212.1 447,211.5 448.1,210.7 447.8,210.8 446.1,212 445.7,213.4 446.4,215 446.6,216.2 446.4,216.8 446.7,217.9 447.5,219.5 447,219.7 445.1,218.3 443.5,218.1 442.2,219.2 441.8,219.3 442.5,218.4 441.6,218.5 439.3,219.7 437.6,220.5 436.5,220.9 436.1,220.6 436.2,219.4 435.5,218.5 433.8,218 432.8,217.8 432.4,218.1 432.3,217.4 432.5,215.6 432.9,214.1 433.4,213.1 434.1,212.8 434.8,213.1" fill="#dfdfe1" stroke="#e6bcd3" stroke-width="1.6" stroke-linejoin="round"/>
<polygon points="444,224.3 444.9,223.6 446.3,223 448,222.6 449.1,222.2 449.5,222 450.5,222.1 452,222.7 453.7,223.2 455.5,223.6 456.4,223.6 456.3,223.2 456.6,223.1 457.5,223.3 459,223.9 461,224.8 461.8,225.2 461.2,225.3 461,225.8 461.2,226.8 461.4,226.9 461.7,226 461.9,226.2 462.1,227.6 462.7,228.9 463.7,230.1 463.7,231.1 462.7,231.9 462.6,232.8 463.4,233.8 464,235.1 464.3,236.7 463.6,237.3 461.9,236.9 461.2,237.2 461.5,238.2 462.2,239.2 463.4,240.2 463.8,241.9 463.6,244.3 463.3,245.3 462.7,245.1 462.5,246 462.8,248.3 462.2,248.8 460.7,247.6 459.9,247.5 459.6,248.5 459.1,248.3 458.3,246.9 456.8,246.9 454.6,248.2 453,248.7 452,248.3 451.1,248.3 450.3,248.7 449.4,249 448.4,249.2 447.7,248.6 447.4,247.2 446.3,246.6 444.4,246.7 444.1,246.1 445.4,244.7 445.5,244.1 444.4,244.4 444,244 444.3,242.8 444.2,241.6 443.8,240.3 443.8,239.5 444.2,239.2 444.3,238.2 443.9,236.5 444.5,235.3 446,234.9 446.3,233.9 445.5,232.5 445.2,231.2 445.4,230 445.4,228.9 445,227.7 445.2,227.3 446.1,227.7 445.8,227 444.2,225.2 443.5,224.4 443.5,224.6" fill="#dfdfe1" stroke="#e6bcd3" stroke-width="1.6" stroke-linejoin="round"/>
<polygon points="419.4,242.8 419.6,243.8 419.9,244.1 420.5,243.7 421.2,243 421.8,242 422.9,242.3 424.2,244.1 426.1,244.7 428.5,244.1 430.2,243.7 431.1,243.5 431.1,243 430.2,242 430,242.3 430.4,243.9 430.7,244.9 431,245.3 431.5,246.8 432.1,249.3 432.3,250.9 431.8,251.5 431.2,252.2 430.4,252.9 430.7,253.6 432.1,254.4 431.8,255.1 429.9,255.7 428.9,255.8 429,255.2 428.3,254.7 426.7,254.1 425.8,254 425.4,254.3 424.1,254.4 422,254.3 420.6,254.8 420.2,256 419.4,256 418.4,254.6 417.9,253.5 418.1,252.5 418.3,252.3 418.5,252.9 418.2,252.6 417.6,251.5 417.8,249.6 419,246.7 418.9,245.4 417.5,245.5 417.4,244.7 418.6,243.2" fill="#dfdfe1" stroke="#e6bcd3" stroke-width="1.6" stroke-linejoin="round"/>
<polygon points="435.8,246.4 436,247 437.4,247.3 439.9,247.3 441.1,247.1 440.9,246.7 441.1,246.3 441.6,245.9 442.7,246.2 444.3,247.4 445.1,248.1 445.1,248.4 445.8,247.9 447.2,246.7 449,246.2 451.3,246.3 452.4,246 452.5,245.5 452.9,245.5 453.6,246.1 454.2,247 454.9,248.2 456.3,248.2 458.6,246.8 459.4,245.9 458.8,245.3 459.9,245.3 462.6,245.8 463.1,246.8 461.4,248.2 461,248.9 462,249 462.6,249.6 462.8,250.9 463.1,252.6 463.4,254.9 463.5,256 463.2,256 463.4,256.4 464,257.2 463.5,258.6 461.9,260.7 461,261.9 460.6,262.2 460.5,262.3 460.6,262.2 460,262.2 458.9,262.4 457.8,262.2 456.6,261.5 456.1,261.9 456.3,263.5 455.6,263.6 454,262.4 452.2,262 450.3,262.4 448.8,262.6 447.7,262.4 446.7,262.9 445.9,263.9 445.4,264.4 445.4,264.2 444.7,264.1 443.2,264.2 442,264.1 441,263.8 440.3,263.4 440.1,262.7 439.5,262.6 438.4,263.2 437.8,262.9 437.6,262 437.1,260.9 436.4,259.6 435.7,258.5 434.9,257.5 435.2,257.3 436.6,257.9 436.4,257.3 434.8,255.3 434.2,254.2 434.7,253.8 435.6,252.8 437,250.9 436.8,249.4 435.1,248.4 434.6,247.4 435.4,246.6" fill="#dfdfe1" stroke="#e6bcd3" stroke-width="1.6" stroke-linejoin="round"/>
<polygon points="388.5,243.4 390.1,245 390.8,245.8 390.7,246 392.1,245.8 394.7,245.1 396,244.5 395.8,244 396.2,243.9 397.2,244.1 398.7,244.3 400.7,244.3 401.3,244.5 400.5,244.9 400.5,246.2 401.5,248.2 401.9,249.4 401.7,250 401.4,251.1 400.8,252.6 400.5,253.1 400.7,252.5 400.5,252.8 400,253.8 400,255.1 400.5,256.9 400.5,258.2 400,259.1 400.3,260.3 401.4,261.9 402,262.1 402.1,261.1 401.3,261.4 399.6,263 397.8,263.8 395.8,263.9 394.8,264.1 394.7,264.3 394.4,264.3 393.9,264.1 393,263.9 391.7,263.7 390,263.7 387.9,263.7 387.7,263 389.2,261.4 389.2,260.4 387.7,260.2 387.3,259.2 388,257.4 388.5,255.8 388.7,254.2 388.9,253.6 388.9,253.9 388.3,253.2 387.2,251.5 387.5,250.7 389.2,250.6 390.1,249.9 390.1,248.5 389.5,247.2 388.3,246 387.8,244.7 387.8,243.3" fill="#dfdfe1" stroke="#e6bcd3" stroke-width="1.6" stroke-linejoin="round"/>
<polygon points="390.5,234 390.6,233.2 390.8,233.2 391.3,234 392.1,235 393.2,236.4 393.3,237.9 392.4,239.5 392.4,240.8 393.1,241.7 392.9,242.5 391.7,243.3 390.4,243.7 388.9,244 388.2,243 388.3,240.7 388.4,239.2 388.6,238.4 388.8,237.4 389.1,236.2 389.4,235.1 389.7,234.3 390.1,233.9 390.4,234.2" fill="#dfdfe1" stroke="#e6bcd3" stroke-width="1.6" stroke-linejoin="round"/>
<polygon points="340.4,176.3 341.2,175.1 342.1,175.2 343.2,176.6 343.3,177.1 342.6,176.8 342.3,177.6 342.2,179.5 342,179.6 341.5,177.9 341,177 340.4,176.9" fill="#dfdfe1" stroke="#e6bcd3" stroke-width="1.6" stroke-linejoin="round"/>
<polygon points="338.1,179.4 340.1,181 341.4,182.4 342.1,183.8 341.3,184.1 338.8,183.6 337.5,182.1 337.2,179.8" fill="#dfdfe1" stroke="#e6bcd3" stroke-width="1.6" stroke-linejoin="round"/>
<path d="M324.2 152.5Q324.3 154.2 328.2 153.2M322.9 188.9Q322.7 188.7 319.1 191.3M325.9 184.1Q326.6 188.5 324.6 187.7M361 215.3Q362.1 215.5 364.5 215.4M355.4 223.7Q352.8 224.4 355.7 220.7M330.8 262.7Q331 264.1 327.4 263.3M319.3 258Q318.3 255.5 320.2 252M329.9 232.4Q327.4 233 327.2 232.9M328.1 233.1Q328 229.5 327 230.2M375.8 210.2Q370.5 209.8 371.1 211M371.1 211.7Q367.8 210.5 367.9 208.1M384.3 248.3Q386.1 248.2 390.9 249.9M384.3 248.3Q386 246.4 389.8 249.9M428.8 178.7Q424 180.3 424.9 178.3M436.7 161.2Q434.2 162.1 437.6 168.1M460.7 158.4Q456.8 157.5 457.8 160M458.5 153.1Q458.3 153.6 461.7 155M436.1 220.6Q431.7 217.5 432.8 217.8M434.8 213.1Q434.4 213.8 435.8 212M434.2 254.2Q438.2 254.6 436.8 249.4M400.3 260.3Q402 261.2 397.8 263.8M401.9 249.4Q399.7 249.6 400.5 253.1M393.3 237.9Q393.4 239.6 390.4 243.7M337.5 182.1Q338.1 181 341.4 182.4" fill="none" stroke="#cc88c4" stroke-width="1.1" stroke-linecap="round"/>
<path d="M349.4 161.9l-1.4 0.4M398.6 174.3l-0.2 0.2M402.5 225.1l-0 0.8M344.6 209.9l-1.2 0.1M432 181.1l1 0.3M415.1 168.7l-0.2 0.8M419.7 209.8l0.6 1.3M410.1 171.4l-0.5 1.1M396.3 232.9l0.5 0.4M353.6 237.6l-0.7 0.9M437.3 158.7l1.3 0.3M360.9 233.7l-1.5 0.4M392.9 158.7l0.4 0M333.3 173.7l-0.4 0.3M459.5 191.8l-0.6 0.3M459.1 215.8l0 0.6M437.5 157l-0.2 1.3M363.8 205.5l0.5 0.1M379 216.9l-0.9 0.8M440 245.8l-0.5 0.3M443.6 219.4l-0.1 0.4M436 251l-1 0.9M405.5 163.4l-0.1 1.5M385.9 244l0.2 0.5M369.7 235.7l-1.1 0.1M368.3 205.4l-0.7 0.8M365.8 161l0.3 1M428.8 179.5l-0 1.1M349.1 249.4l0 0.7M362.7 233.3l-0.4 0.3M438 246.3l0.5 0.2M446.5 196.8l-0.1 0.4M375.8 251.4l-1.4 0.1M400.6 197.2l-0.6 1.4M357.2 157.8l0.4 0M388.4 178.8l-0 0.9M325.8 207.3l0.7 0.4M454.1 192.1l0.3 0.2M342.8 167.2l0.5 0.5M401.9 211.9l-1.2 0.8M408.2 197.6l-1.4 0.1M438.6 230.3l0 0.5M381.1 157.5l0.2 0.3M359 251.9l1 0.3M447.9 217l0.6 0.9M356.4 162.2l-1.3 0.9M423 234.5l0.5 0.1M423.5 256.3l-0.5 0.7M453.4 234.8l0.4 1.4M353.4 180.6l0.7 0.7M458.6 196.2l0.7 1M458.7 223.1l0.9 0.5M327.3 231.9l-0.1 0.3M367.7 230.3l-0.3 0.4M371.8 239.7l-0.6 0.8M398.3 239.4l0.7 0.1M330.4 211.6l-0.9 0.1M446.9 215.2l0.2 1.3M383.8 167.8l0.2 0.5M443.5 236.2l-1 0.5M448.9 166.7l-0.5 0.2M370.5 158.9l-0.7 0.2M336.8 177.5l-1 0.3M431.6 257.2l0.5 0.2M362.7 252.3l-1 1M375.7 210.2l0.9 1.2M348.4 203.1l-1.1 0.2M360.4 208.3l-1 0.9M423.4 238.2l-0.4 1.2M358.9 210.9l0.5 0.2M370.1 180.3l0.5 0.8M325.5 189.5l-0.5 0.7M380 171.6l-0.9 0.2M355.2 189.7l0.2 0.6M448.2 192.9l-0.3 0.7M444.4 230.6l0.7 1M441.7 234.8l0.9 0.3M399.2 218.6l-1.4 0.3M396.7 165.9l-0.2 0.8M345.4 238.8l0.8 0.7M358.1 187.6l-1 0.2M447.4 203.5l0.9 1.2M357.1 212.9l1.1 0.1M371 228.5l-0.4 0M334.2 221.6l0.9 0.4M379.1 204.3l0.3 0.8M398.9 157.2l1.1 0.8M336.6 178.5l-0.3 1.2M378.7 166.3l0.1 1.2M395.9 200.4l-0.2 0.4M361.8 240.7l-1.3 0.2M433.5 209.5l0.8 0.3M398.7 171l0.4 0.1M423.3 188.6l0.8 0.6M389.9 163.7l-0.3 0.1M392.2 216.1l0.5 1M417.9 241.8l0.3 1M343.3 192l-1.3 0.3M384.6 241.7l0.6 0.3M422.3 217.5l1.1 0.8M431.4 178.9l-0.2 0.9M323.8 216l0.8 0.4M365.4 226.2l-0.4 0M405.1 161.6l-0.4 0.8M399.3 234l-0.8 0.6M336.4 187.4l0.5 1.4M450.5 202l0.3 1.5M409.2 207.6l0.3 0.3M445.1 162.8l0.2 1.5M395.3 188.4l-0.7 0.6M408.3 192.1l-0.1 0.3M341.2 255.5l0.6 0.5M457.7 205.1l-0.4 0.3M376.7 251.2l-0.3 1M440.3 197.5l0.7 0M378.3 233.7l0.1 0.5M409 191.5l-1.3 0.9M427.2 238.8l0.6 0.9M414.5 174.6l-0.2 1.2M366.3 186.9l-0.2 1.2M453.6 188.3l0.5 0.5M431.2 180.8l1.1 0.2M389.1 156.8l1.5 0.5M426.5 201.5l0.7 0.3M449.2 193.3l0.6 0.1M334.3 223.6l0.7 0.1M430.4 181.6l0.8 0.8M397.4 243.5l0.5 0.1M435.4 251l0.3 0M366.3 206.4l-0.1 0.3M372.3 253.1l0.3 0.7M412.4 242.7l-0.7 0.7M391.6 214.2l0.9 0.5M354.2 219l0.4 0.2M427 222.4l-0.7 0.1M321.7 213.8l0.3 0.2M435.3 206.2l1.4 0.5M399.1 213.5l-0.9 1.2M411.6 211.5l1 0.9M324 176l1.4 0.3M376.4 167.2l-0.3 1M430.9 211.6l-0.2 0.3M349.1 230.2l0.2 0.3M413.2 170.7l0.3 0.6M446.7 160.6l-0.3 0.6M405.8 212.7l-0.9 0.2M403.8 207.1l1.5 0M365 224.6l0.4 0.8M336 164.7l0.2 0.8M353.9 186.2l-1 0.1M368.8 204.7l-0.7 0.1M352.1 227.1l0.8 0.3M431.9 237.2l-0.2 0.6M453.8 209.3l0.5 0.4M330.7 172.9l-0 0.7M456.3 169.9l-0.1 0.3M345.4 211.8l0.3 0.1M395.2 168.9l0.6 0.5M346.5 256.8l0.6 0.5M371.5 239l0.3 1M382.2 244.4l-0.4 0.1M377.2 163.2l0.7 0.6M409.6 201.9l1.4 0.4M373.4 181.8l1 0.1M416.3 246.3l-0.4 0.6M323.3 208.6l0.1 0.4M367 187.6l-0.9 0.9M324.2 161.1l0.2 0.8M374.8 237.8l-0.9 0.9M445.7 190.4l0.1 1.1M457.6 195.5l-0.1 0.7M384.3 237.2l-0.5 1.3M327.5 236.2l0.9 0.5M370.9 224.7l-1 0.3M429.7 242.7l-0.1 0.4M354.6 186.9l1.2 0.5M339 166.7l0.3 0.1M399.7 216l0.4 0.2M365.5 209.2l0.2 0.5M343.1 160.6l-0.3 0.3M334.6 166.1l0.1 1.2M444 166.6l0.5 0.3M361.2 189.8l0.9 0.6M371.5 240.7l0.8 1M443.3 162.3l-0.3 0.3M331 165.5l-0.2 0.6M335.1 164.1l0.7 0.4M418.6 182.1l0.8 1.1M381.1 255.4l0.3 1.5M342 188.4l0.3 0.2M345.4 246.2l-0.9 1.2M347.1 185.1l0.3 0.1M339.5 163.9l0.4 0.4M353.3 232.7l-1.4 0.1M345.5 257l-0.7 0.6M407.1 200.2l-1.2 0.6M436.2 158.6l0.5 0.8M393.1 217.5l-0.7 0.3M381.9 178.9l-0.4 0.4M391.1 245.1l0.4 0.2M388.3 156l0.3 0.5M410.2 215l-0.7 0.3M346.7 191.3l-1.2 0.3M341 235l-0.2 0.4M375.9 258.8l-1 1M387.4 235.8l0.6 0.1M393.4 224.6l-1 0.3M346.7 228.7l0.2 0.9M421.5 254.1l0.6 0.4M336.2 187.4l-1.2 0.2M327.8 164.5l-0.2 1M357.2 169.5l-0.6 1.1M389.8 222.3l-0.3 0.3M400 162.3l0.6 1.2M331.7 160.9l1.2 1M397.1 219.6l-0.7 0.2M359.5 159.5l-0.4 0.2M384.9 211l-0.7 0.4M356 258.7l0.3 0.5M415 176.5l-0.7 0.3M424.8 224.5l0.7 1.2M342 187.2l1.1 0.1M362.6 164.6l-0.1 1.6M332.3 163.8l-0.7 0.1M339.7 169.5l0.7 0.3M333.1 220.4l-1.5 0M437.8 193l1 1M427.5 213.1l-0.3 0.5M337.2 220.3l0 1.6M453.2 197.2l1.2 0.8M356.7 157l0.2 0.4M359.4 242.4l0.2 0.3M370.3 194.6l0.4 0.1M402.6 226.7l-0.6 0.2M406.8 180.7l-0.6 0M436.9 239.1l0.7 0.6M349.5 166.1l-1 0.3M424.3 178l-0.3 0M395.4 189.2l-1.2 0.3M456.8 202.9l-0.6 0.4M415 240l-0.9 0.7M425.5 167l-0.2 1.2M419.7 180.6l0.8 0.9M353.2 219.4l-0.4 0.7M426.2 242.4l0.1 1.2M392.9 219.2l1 0.8M368.2 161.2l0.4 0.1M453.7 198.2l-0.7 0.5M355.9 252l0.1 1.4M369.3 232.5l0.8 0.1M349.5 181.2l0.4 0.4M323.1 194.6l0.8 0.5M363.1 234.6l-0.9 0.1M363.6 211.6l-0.9 0.7M363.5 245.2l0.5 0.2M403.6 173.1l0.5 0.9M383.3 175.5l0.9 0.1M373.7 202.8l0.5 0.4M427.1 205.3l0.2 1M368.4 232.1l-0.3 0.1M410.6 197.4l-1 0.5M329.9 233.1l-0 0.9M349.1 258.3l0.6 1M327.7 212l0.5 0.4M369.8 254.7l-1 0.5M378.4 203.4l-0.1 1.5M420.5 222.8l0.2 0.8M337.2 215.5l-0.1 1.5M394.4 158.2l0.3 1M364.8 233l-0.6 0.2M349.5 239.3l0.6 0.3M367.9 197.2l0.2 0.8M362.5 255.3l-1.1 0.1M444.4 188.1l-0.4 0.3M374.1 191.8l0.4 0.1M435.2 257.7l-0.9 0.1M399.7 233.1l-0.5 0.5M413 253.9l-0.7 1.3M444.3 161.2l-0.9 0.5M405.4 240.6l-1.1 0.4M367.3 209.4l0.5 0.6M410.2 161.2l-0.7 0.2M385.1 209.7l-1.2 0.4M444.3 234l-0.6 0.4M345.7 192l0 0.8M408 251.9l0.8 0.3M376 253.9l0.5 0.1M384 172.4l1.3 0.6M406.3 210.9l-0.1 0.5M368.7 223.6l0.3 0.2M331.2 166.6l-0 0.6M366.3 252.3l-0.2 0.2M356.5 175.6l0.3 1M411.5 181.7l-0.2 1.6M353.7 188.7l-0.6 1M366.6 200.9l-1.1 0.4M356.3 159.3l-0.4 0.5M408.7 174.8l-0.4 0.7M439.8 220.5l-0.3 0.4M402.4 227l0.1 1.2M335.9 189.8l-0.6 0M335.6 171.4l-0.4 0.5M413.4 239.1l-0.4 0.2M328.2 211.3l0.9 0.7M377 209.8l-0.4 0.1M338.4 203.5l-1.1 0.4M416.7 179.7l0.8 1.2M444 189.3l1.1 0.4M419.4 214.5l-0.4 1.1M353.8 252l1.5 0.3M377.1 208.1l-0.4 0M337.7 213.9l1.4 0M365.1 222.8l0.4 1.3M406.4 241.2l-0.5 0.2M355.1 163.6l0.6 0.4M424.1 218.8l-1.1 1.1M358.5 186.2l-1.3 0.3M412.3 190.1l0.7 0.7M377.3 186.1l-1.1 0.4M407.2 182.7l0.5 0.9M346.9 166.1l-0.2 0.4M446.5 210.4l1.1 1.2M393 166.6l-1.2 0.1M403.3 197.1l0.2 0.9M359 246.6l-0.9 0.2M350.2 252.5l0.6 0.7M333.8 235l0.3 0.3M325.4 188.8l0.6 0.2M377.2 228.6l0.5 1.2M432.9 200.8l-1 0.8M345.7 162.3l0 0.7M447.6 159.5l0.5 0.9M412.4 242.8l-0.9 0.6" stroke="#55308f" stroke-width="1.35" stroke-linecap="round"/>
<path d="M402.1 259.4l-0.4 0.1M377 242.2l0.9 0.2M453.1 195.3l0.1 0.4M356.4 255.9l-0.3 0.3M328.4 189l-0.3 0M455.6 165.6l0.5 0.1M454.7 198.8l-0.9 0.7M371.1 164.2l-0.2 0.8M356.9 172.5l0.6 0.1M417.6 246.1l0.7 0.2M392.4 244.6l-1.5 0.4M438.1 239.5l0.9 0.4M437.7 191.9l-0.7 0.8M373.3 234.3l-1.1 0.8M384 245.8l-0.3 1.5M339.6 184.1l0.9 0.9M327.6 217.7l0.2 0.7M367.3 227.3l0.4 0.8M417.7 210.9l0.8 0.8M453.2 205.8l-1.6 0M402.5 239.3l-0.9 0.1M345.7 179.5l-0.4 0.6M409.5 188.5l1.3 0.8M420.5 226.2l-0.7 0.5M359.6 244.2l0.2 0.6M416.4 240.5l0.5 1.1M424.3 254.7l1 0.7M427.8 219.8l0.3 0.2M437.8 194.1l-0.1 0.5M366.1 227.5l-0.8 0.8M411.8 173.5l-0.8 0.9M436.5 245.3l-0.5 0.3M329.4 211.6l-0.7 0.5M383.8 243.3l0.7 1M432.9 196.5l-0.3 0.3M427.7 259.5l0.7 0.7M367.9 203.9l0.7 0.4M413.8 209.2l-0.1 1.3M361.4 246.1l0.7 0M337.6 172.2l-0.4 0.1M349.9 254.9l0.3 0.4M361.4 175.1l1.5 0.1M409.3 166.2l0.3 0.5M375.6 218.8l1 0.4M324 220.4l0.9 0.3M403 156.8l0.1 0.4M376.9 208.7l0.7 0.1M327 220.6l-0.7 0.4M427.7 216.6l1 0.3M413.3 243.6l0.8 0M455.9 217.8l-0.8 0.9M406.5 162.4l0.5 1.5M399.6 235.4l-0.5 0.2M358.4 209.7l0.4 0.2M354.4 207.6l-0.5 0.6M342.4 238.5l-0.9 0.4M371.2 214.9l0.4 0.2M367.6 158.1l0.9 1.3M378 160.3l0.7 0.2M386.7 187.9l0.3 0.6M439.5 207.9l-0.1 0.8M353.4 216.5l-0.6 0.9M376.9 189.1l0.7 0.1M425.6 226.8l-0.4 0.7M399.6 234.9l1 0.2M346.6 187.3l-0.5 0.2M420.2 209.5l-0.8 0.4M365 176.5l0.4 0.2M396 242.6l1.2 0.6M332.6 213.4l-0.8 0.9M377.9 238.2l0.2 0.7M422.1 211l0.8 0.2M344.4 179.8l-0.3 0.1M364.1 194.1l-1.3 0.6M432.7 203.3l0.5 0.4M390.3 217.2l-0.9 0.1M381 170.9l-0.9 1M351.9 208l-1.1 0.6M424.1 209.2l-1 1.2M392.8 243.2l0.3 1.4M321.6 199.5l-0.1 0.3M362.5 214l-0.5 1.2M436.4 246.1l0.9 0.4M343.4 232.3l0.3 0M417.9 188.2l0.4 0.3M343.2 228.9l-1.3 0.2M334.1 223.4l-0.7 0.4M394.9 158.9l-1 0.4M339.2 190.8l0.5 1.3M445.2 189.5l0.2 0.3M421.2 209.8l0.4 1M417.3 173.6l0.3 1M402.6 202.5l0.2 0.8M402.9 242.3l0.3 0.5M379.5 211.1l0.3 1.1M444.6 164.1l-0.2 0.4M333.6 235.7l1 0.4M344.4 189.4l0.4 0.8M387.5 246.5l0.4 0.4M408.4 180l0.4 0.5M457.8 202.3l-1.3 0.6M371.6 175.4l1.3 0.6M450.5 218.6l0 1M421.4 211.4l0.5 0.8M325.2 236.5l0.1 1.1M424.9 217.7l-0.7 0.3M388.2 218.4l-1 0.4M409.7 211.8l-0.7 1.4M335.4 235.6l0.7 0M408.1 179.2l-0.5 0.2M407.3 244.7l-0.8 0.3M380.2 175.8l0.4 0.1M368.8 195.8l0.3 0.7M456.1 164.4l0.3 1.3M340.4 185.9l0.8 0.9M336.9 170.7l-0.5 0.6M431.2 238.9l-0.6 0.3M393.3 171.6l-1 0.8M451.4 199l-1.3 0.4M377.7 211.2l0.7 1.4M332.8 167.3l0.1 1.2M325.3 187.8l1.1 0.1M397 221.5l0.5 0.6M331.8 233.8l-1 0.4M365.9 185.4l-1.5 0.2M392.4 222.7l-1 1.2M370.8 160.2l0.8 0.2M455.8 169.8l0.8 1.3M355.3 216.1l-0.1 1.6M397.4 204.5l0.4 0.2M381.4 213.7l0.9 1.2M454.1 166l-0.2 0.4M324.8 191l0.4 0.1M393.6 163l0.2 0.3M421.4 216.8l1.2 0.2M397.4 172.1l-0 0.7M396.3 220.8l-1.4 0.2M449.5 161.1l-0.6 0.6M377.5 217.9l1.5 0.4M454.7 213.4l0.3 0.5M456.8 194.2l1.4 0.3M328.1 166.7l0.4 0.5M432.5 238.5l0.7 0.3M334.2 163.9l-0.7 0.2M433.2 199.5l0.6 0M384.6 203.3l-0.4 1.2M433.9 206l-0.3 0.6M411 191.6l-1.1 0.3M335.5 218.6l1.5 0.5M365.8 173.4l1.6 0.2M425.2 187.8l0.6 0.5M376.3 245.2l-0.4 0.6M402.1 239.2l-0.5 1M405 176.5l-1.4 0.7M457.6 210.8l0.8 0.6M358.8 188.8l-0.4 0.2M363.8 193.9l0.6 0.8M425.7 198.7l-1.2 0.8M402 161.3l0.4 0.4M410.1 177.1l0.1 1.1M323.1 208l-0.6 0.7M375.6 215l0.4 0.2M365.3 180.5l1.1 0.7M378.6 164.9l1.3 0.6M364.9 255l0.7 1.3M339.3 212.2l1 0.5M445.5 186.4l0.3 0.1M327.5 204.6l-1 0.9M399.6 224.2l0.4 0.1M434.7 212.1l-0.9 0.5M394.3 174.1l1.1 0.6M443.5 174.2l-0.3 1M328.5 163.8l0.3 0.3M343.3 176.6l0.5 0.9M353.9 184.2l0.9 0.5M324.8 205.5l-0.3 0.2M433.1 232.9l-0.1 0.6M417.1 257.3l-0.3 1M439.6 185.7l0.5 1.1M326.7 166.9l1.5 0.1M449.8 166.6l-0.5 1M438 158.6l1.3 0.1M439.8 196.2l0.4 0.2M439.8 227.3l-0.6 0.7M346.1 210.9l0.4 0.3M354.6 181.9l1.3 0.8M415 185.5l-1 0.3M393.2 156.4l-0 0.6M370.1 253.6l0.2 0.2M333 183.2l1.2 0M366.7 244.2l-0.5 0.5M413.8 177l0 0.5M432.3 241.3l-1 0.3M380.4 165.3l-0.7 0.5M332.4 193.8l-0.8 1M369.8 198.6l0.2 0.9M435.9 231.9l-0.7 1.4M407.2 165.4l-0.3 0.3M370.9 196.4l0.2 0.6M409.8 250.6l0.8 0.1M411 257l-0.1 0.7M383.3 219l0.9 1M393.5 158.8l0.3 0.4M391.4 198.6l0.3 0.3M381.9 213.5l0.8 0.5M393.1 158.2l-0.4 0.2M407.2 181.9l0.2 1.1M401.5 199.1l0.6 1M370.4 166.6l0.5 0.6M432.3 198.4l-0.6 0.9M342.4 162.6l0.5 0.6M384.9 246.2l-0.1 0.5M444.9 218.3l0.6 1M410.7 245.2l-0.4 0.3M362 178.6l1.5 0M397.7 162.6l-0.2 1.3M430.1 217l0.7 0.9M363.3 179.5l-1.2 0.5M327.7 176.2l-0.1 1.1M416.6 182.3l0.9 0M385.9 181.5l-1.5 0.5M406.6 256.1l0.1 0.4M369.8 251.1l0 1M388.6 163.2l-0 1.6M422.6 184.9l0.1 1.1M402.9 203.7l0.7 0.7M356.9 212.3l1 0.3M382.6 188.9l1.5 0.6M409.1 202.4l-0.6 1.4M421.3 213.4l-0.4 0.2M452.8 219.5l-0.8 0.6M341.3 242.4l0.8 0.7M383.3 239.1l-1.3 0.5M379.1 254.3l0.3 0.5M437.9 232.9l-1.2 1M383.3 221.2l-0.3 0.9M428.8 229.4l1.4 0.7M422.6 221.8l-0.3 0.6M397 242.3l-1.4 0.1M411.5 243.6l0.7 0.4M370.1 245.5l0.2 0.4M338.5 169.5l1.2 0.4M414.7 251.1l-0.5 1.3M373.7 201.2l0.1 1.2M402.1 204.6l0.3 0.4M383.2 240.3l1 0.8M378.4 164.4l0 1M448.4 202.1l0.6 0.1M441.3 223.9l1.3 0.3M390.4 205.7l-0 1.4M331.1 225.3l0.6 0.3M373.6 167l0.7 0.4M398.4 212.8l1 0.3M428.8 208.3l1.2 0.1M434.1 259l0.4 0.5M333.5 226.3l0.6 0.1M382.8 184.6l1.5 0.2M441.1 192.4l-0.3 0.2M370.3 232l1.4 0.4M401.6 256.5l0.5 0.2M425.3 198.1l0.3 0.1M363.1 244.7l1 0.9M437.2 159.7l0 0.9M438 175.5l-0.4 0.6M373 256.1l1 0.9M421.5 176.7l0.3 0.1M340.1 243.9l0.5 0.6M334.4 183.4l0.8 0.7M343.4 210.3l-1 0.2M409.7 158.5l-0.6 0.4M429 201l0.5 1.1M411 172.7l-0.2 0.9M443.1 213.6l-0.7 1.2M448.2 199.2l-0 0.3M366.3 192.2l0.4 0.1M454.5 201.5l-0.8 1.3M372.1 163.8l-0.8 0.1M336.4 160.3l-0.4 1.4M370.3 220.1l-0.5 1.1M349 165.3l-0.1 1.6M363.3 248.2l-0.3 1.4M399 156.5l-0 0.6M363.2 184.7l1.2 0.4M389.6 160.2l-1.3 0.3M377.9 210.6l0.8 1M450.1 203.5l0.3 0.4M358.8 172.7l1.2 0.9M398 173l-0.1 1.4M457 160.1l-0.1 1.1M366.8 205.4l1.6 0M393.9 174.9l0.2 1.2M386 163.8l0.3 0.4M365.8 203l-0 0.9M415.2 240.1l-0.7 0.2M387.4 202.5l-0.2 0.3M332.1 191.8l0.9 0.9M348.3 252.3l0.3 0.4M430.8 218.5l0 1.3M361.8 209l0.4 0.2M376 199.6l1.4 0.3M412.5 161.1l-0.7 0.1M362 248.1l-0.9 0.2M367.5 212.4l0.6 1.3M409.7 250.3l0.2 0.3M408.9 187.7l0.6 0.5M361.1 157.3l-0.5 1.2M382.4 156.9l0.7 0.3M441.1 174.7l-0.2 0.3M333.2 237.2l-0.2 0.7M371.8 254.3l0.2 0.6M332.3 166.5l-0.2 0.5M400.2 232.5l-1.2 0.2M409.7 249.1l-0.2 0.3M367.8 185.1l0.8 0M456.6 218.2l0.2 1.4M386.6 202.2l1.1 1.1M429.4 216.7l0.1 0.5M355.3 164.6l-0.7 0.9M377 249.2l1.2 0M446.6 187.8l0.3 0.5M367.9 224l-1.3 0.5M441.8 165.3l-0 1M378.8 215.5l-1.2 0.5M378.8 169.3l-0.2 0.3M382.2 213.9l-0.1 0.3M324.1 238.7l0.7 0.8M380.9 215.2l-0.9 0.6M349.9 190.9l-0.6 0.9M439.5 161.6l0 0.8M341 226.7l-0.6 0.5M397.7 173l0.6 0.7M426 259.8l-0.5 0.7M382.8 258.3l-0.9 1" stroke="#6a3c9e" stroke-width="1.3" stroke-linecap="round"/>
<path d="M353 254.3l-0.4 0.6M445.3 177.7l0.7 1.2M369.2 257.2l-0.6 0.5M377.1 229.2l0.7 0.1M404.9 254.1l-0.4 1.4M379.6 216.8l-0.3 0.3M456.8 210.8l0 0.9M430.3 230l0.6 1.2M427.1 177.9l0.4 1.3M436.4 201.1l-0.5 0.8M361.3 248.6l-0.2 0.6M402.6 157.7l0 0.8M346.9 165l-0.5 0.7M355.9 256l0.3 0.1M396.8 218.1l-0.7 0M439.6 219.8l-0.6 0.4M392.9 168.3l0.7 0.1M426.9 224.9l-0.6 1M376 211.4l0.4 0.5M403.3 242.2l-0.4 0.2M407.2 242.1l-0.6 0.3M456.7 193l0.5 0.1M347.1 241l1.1 0.7M372.5 182.4l-1.3 0M428.1 206.5l1.4 0.1M331.2 184.4l0.5 0.9M406.6 161.5l0.6 0.7M374.9 202.1l0.1 1M434.8 194.2l1.3 0.6M440.3 179.2l-1 0.3M395.1 196.3l0.2 1.4M378 199.1l-0.3 0.4M374 177.2l0.1 0.3M404 236.3l-0.4 1.1M406.5 244.4l-0.9 0.8M333.6 178l0.6 1.1M450.7 209.4l0.5 1.3M332.8 223l0.3 0.1M357.7 178l0.2 0.6M368.1 250.3l-0.1 1.1M451.6 199.6l1.4 0.4M392.3 178.3l-0 0.6M389.8 215.4l-0.2 0.4M350.9 250.3l-0.3 0.2M408.4 173.4l0.1 0.4M335.3 223.9l0.5 0.7M446.2 198.2l1.3 0.8M401.5 229.7l-1.1 0.6M324.6 203.3l-0.9 0.5M329.7 189.2l0.4 0.6M404 236.6l0.2 1M445.6 161.6l0.9 0.7M337 167.8l-0.5 0.1M370.9 201.1l0.9 1.3M329.5 185.5l1 0.8M386.4 230.9l1.2 0.8M428.4 181.4l1.3 0.4M359.2 248.3l-0.6 1.2M343.8 255.4l-0 0.4M379.6 259.5l0.9 0.7M332.4 209.8l1.1 0.6M363.8 245.5l-0.7 1.1M371 183.2l1 0.4M412.4 164.6l1 1.2M442.1 231.8l0.4 0.3M343.3 248.4l0.6 0.6M445.1 209l1.3 0.2M444.5 195.7l1 1M371 251l0.2 0.8M373.7 170l-0.1 0.5M351.4 184.6l-0.1 0.7M349.3 159.5l0.4 0M395 172l-0.1 1M371.7 245.8l0.8 0.1M345.3 168.3l-0.8 0.7M423.8 227.2l-0.1 1.3M369 187.6l0.7 0.5M428 256.7l0.6 1.4M400.6 255.3l0.7 0.3M426 250.1l-1 0.5M325 179.6l-1.1 0.6M377.6 185.6l-0.2 0.3M376.3 241.9l-1.4 0.2M382.5 206.7l0 0.9M346.6 212.5l-0.2 1M405.8 179.3l-0.4 1.1M401.8 207.9l0.7 1.3M437 196.8l-0.7 1M422.6 183.4l0.8 1M370.4 256.4l-0.3 0.9M336.6 188.1l0.1 1M381.4 195.9l0.5 0.4M385.1 231.7l-0.7 0.8M383 176.3l0.9 1.1M387.2 219.1l-0.4 0.3M419.8 191.2l1.1 0.7M331.8 208.6l-0.3 0.2M407.6 192.8l0.4 0.8M406.8 174.9l-1.3 0.3M438.4 237.3l0.4 0.5M358.7 217l0.4 0.3M440.8 165.5l-0.7 0.5M438 157l0.2 0.8M455 207.8l-0.4 0.2M338.9 163.9l-0.3 0.2M357.8 206.3l-1.3 0.5M371.7 196.2l0.1 0.5M404.2 160.6l0.7 0.5M425.4 215l-0.1 1.1M333.2 236.7l0.6 0.3M388.1 170.3l1 0.4M416.2 248.3l0.6 0.1M382.5 250l-0.6 0.1M335.2 218.2l0.2 1M380.7 257.4l-0.6 0.3M350.2 211.8l-0.8 0.6M404.4 240.3l-0.1 0.9M414.3 189l-0.1 0.3M397.7 179.4l-0.5 0.6M368.3 230l-0.6 0.8M413.5 244.1l0.4 0.3M412.2 212.4l-0.6 0M457.7 192.3l0.2 1.5M367 236.5l-0.9 1.1M443.7 192.8l-0.7 0.1M431.9 206.3l0.1 0.8M424.3 157l0.2 0.6M447.8 217.9l-0.5 0.1M403.8 203.2l0.8 0.4M425.5 226.4l-0.6 0.6M346.7 188.3l-0.5 0.1M392.8 218.6l0.8 1.2M350.3 231.5l-1.2 0.1M369.3 195l-0.5 0.7M381.2 257.1l-0.5 1.1M341.4 212.9l0.6 0M405.3 190.1l0 0.7M336.6 220.9l-1.4 0.5M329.3 175.6l1.2 0.6M331 186.4l0.1 0.3M446.7 194.2l0.4 0.4M410.7 178.7l-0.4 1.3M355.2 172.7l-0.4 0.7M383.5 238.7l-0.9 1.3M359.3 206.7l-1.5 0.4M325.5 202.9l-0.8 0.5M394.5 173.8l0.8 0.5M357.4 182.6l0.5 0.4M331.8 197.7l-0.5 0.5M370.1 165.5l-0.3 0.9M390.2 202.6l-0.1 1.5M359.2 166.1l-0.1 1.1M405.6 240.2l-0.4 0.4M330.8 213.1l0.8 0M381.5 258.9l-1 0.5M372.4 241.3l0.6 1M379.6 173.2l1.4 0.7M395.7 164.8l0.5 1.5M444.1 240.7l-0.7 0.4M394.5 164.7l0.7 0.9M327.3 206.2l0.9 1.2M399.5 195.6l-0.4 1.4M354.9 216.2l0 0.9M442 182.3l-0.5 1.4M366.3 180.8l-0.3 0.3M343.1 164.4l0.1 0.4M421.4 224.6l0.8 1.1M366.4 245.2l-0.1 0.7M329.7 210.1l-0.3 0.4M387.5 168.9l-1.2 0.8M331.9 209.9l0.2 0.7M445.1 207l1.2 0.6M373.6 178.5l1 0.4M396.7 242.1l-0.2 0.3M414.9 188.6l-1.2 0.2M324.4 239.7l1.2 0.5M356.7 188.1l0.9 0.9M387.6 216.1l0.3 1.2M366.9 195.3l-0.7 0.3M391.4 174.7l0.3 0.3M402.3 244.9l0.9 0.1M448.3 212.3l-0.2 0.3M437.9 181.5l-0 1.5M329.4 232.8l-0.6 1.1M407 241.4l1.5 0.4M391.8 204l0.4 0.4M324 175.3l-1.3 1M393.5 161l-0.5 0.7M354.8 215.5l0.1 0.3M434.5 234.7l-1.3 0.3M329.9 207.2l-0.3 0.4M437.9 236.8l-0.4 0.2M429.8 198.1l0.9 1M403.6 254.6l0.9 0.6M348.3 255.8l0.4 0.6M331.8 211.9l0.7 0.7M357.2 179.1l0.1 0.5M360.2 234.2l-0.6 0.4M375 224.6l-0.3 0.9M396.8 173.6l-1.2 0.5M391 221.3l-0.1 0.7M332.4 209.1l-0.5 0.5M402.7 173.7l-0.8 0.6M409.8 179.1l1.2 0.3M333.8 246.6l1.4 0.3M421.3 185.3l0.1 0.3M349.4 228l-0.1 0.9M329.9 202.4l-0.5 0.7M380.5 164.2l1 0M351.7 227l1.1 0.4M355 259.6l0.5 1M372.2 235.9l-0.5 1.1M362.9 199.4l0.3 0.5M427.4 193.7l-0.7 0.7M372.9 219.6l-0.1 0.4M370.2 189.1l0.4 1M448.7 176.2l-1 0.6M400.9 236.8l-0.1 0.8M404.8 198.6l-1.5 0.4M343.1 236.5l-0.1 1.2M324.2 230.1l0.9 0.2M356.3 215.5l0.3 1.1M375.2 191.6l-0.2 1.1M435.2 239.2l-0.4 1.4M350.7 226.1l-0.1 0.7M440.6 207.7l-0 0.7M360.4 199.5l1.5 0.2M343.1 242.3l-0.6 1.1M440.4 199.3l-0.6 0.2M407.2 176.5l0.3 1.4M423.9 258l-0.7 1.2M343.1 238.9l0.1 0.3M427.3 196.3l-0.2 0.4M321.5 196.2l0.1 1.4M372.7 177.7l0.3 1.1M324.7 205.1l-0.5 0.3M348 191.6l-0.1 0.3M440.6 182.3l0.7 1.2M386.8 172.8l-1.4 0.5M322 238.8l1 0.3M444.4 194.1l-0.5 0M439 222.4l-1.2 0.5M402.8 237.1l-0.9 0M400.8 172l-1.1 0.3M343.7 177.3l-0.3 0.1M327.8 200.6l0 0.5M448.8 190.9l1.1 0.8M323.7 175.8l0.2 0.9M407.6 252l1.2 0M326.8 172.9l0.9 1M448.5 219.9l-0.3 0.7M362.5 230.2l-0.1 1.2M377.8 198.6l1.1 0.2M326.8 220.3l0.2 0.3M456 178l-0.2 0.3M343.4 192.2l-0.8 0.1M356 180.9l0.8 0.1M442.3 159.8l-1 0.4M421.4 216.3l-0.1 0.7M371.2 190.3l1.3 0.7M372.7 235.3l1.1 0.1M448.8 223.5l1 0.7M438.3 209.4l-0.5 0.5M347.3 188.9l-0.2 0.7M343.4 230.2l1.2 0.5M448.3 216.1l-0.9 0.2M358.6 217.1l-0.3 0.3M390.6 227.4l-0.1 0.6M362.7 181.3l-1.3 0.7M385.5 201.1l0.5 0.7M426.1 212.7l-0.4 1.3M445.5 180.9l0 0.4M389.4 204.9l0.3 0.5M384 237.3l0.6 0.7M374.2 202.3l0 0.7M348.5 221.1l0.4 0M429 196.2l1.2 0.9M359.5 161.9l0.1 0.3M372.7 252l0.8 1.1M413.1 167.1l-1 0.3M349.3 216l-1.2 0.1M396.2 242.7l0.3 0.3M363.3 177.3l-0.2 0.9M389.4 184.5l0.5 1M429 200.6l-0.3 0.2M387.3 158.3l0.2 0.3M354.2 189.7l-0 0.4M365.7 232.5l0.4 0.4M330.8 169.2l-1 0M358.3 243.9l0.5 1.2M358.5 258.1l1.5 0.5M369.2 233.6l-0.5 0.3M424.8 204.7l-0 0.3M353.4 185l0.5 0.5M332.5 174l0.3 0.1M370.2 221.5l0.5 0.2M364.2 246.5l-1.4 0.3M439 202.5l0.2 1M345.4 255.8l-0.5 0.8M378.8 198l-1.4 0.5M397.4 238.4l0.6 1M408.3 244.3l0.4 0.1M380.8 217.9l0.3 0.4M342 242.6l-0.9 0.7M336.4 188.8l1 0.7M381.1 178.3l-0.6 0.1M433.1 249.1l0 1M397.7 238.3l-0.2 0.6M438.7 182l-1.3 0.3M446.8 175l-0.8 0.3M422 205.2l0.5 0.4M348.8 160.6l-0.3 0.6M433.4 192.3l-0.7 0.1M333.1 189.3l-0 0.8M442.1 183.8l-0.5 0M414.4 205.7l-0.8 0.2M383.5 256.5l-0.2 1.4M441.8 223.2l-0.3 1.6M382.9 173.1l-0.5 1.5M452.4 166.4l-0.3 0.9M353.3 185.6l0.7 0.7M378.5 166.5l-0.8 0.3M372.8 241.3l-0.6 1M445.5 199.7l1.2 0.7M438.4 229.5l0.2 1.2M455.6 217.6l-0.1 0.3M385.6 164.2l-0 0.8M397.2 161.4l1.1 0.3M407.1 239.2l-0.7 1.4M414.1 226.7l0.2 0.4M350.8 168.7l0 1.1M367.7 216.4l-1.3 0.7M326.4 188.3l-0.1 0.5M371.6 238.5l-1.1 0.8" stroke="#8a5ab4" stroke-width="1.25" stroke-linecap="round"/>
</g></g>
<rect x="291.8" y="257" width="16.2" height="2.4" fill="#000"/>
<rect x="440.5" y="257.1" width="16.4" height="2.3" fill="#000"/>
<text x="7.40" y="225.00" font-size="11" fill="#000" text-anchor="start" font-weight="bold" stroke="#000" stroke-width="0.3">E</text>
<text x="56.20" y="230.90" font-size="8" fill="#b8264f" text-anchor="middle" font-weight="normal" >Control</text>
<text x="115.60" y="230.90" font-size="8" fill="#68ae3d" text-anchor="middle" font-weight="normal" textLength="35.4" lengthAdjust="spacingAndGlyphs">Runx1 KO</text>
<line x1="30.00" y1="236.30" x2="83.80" y2="236.30" stroke="#b8264f" stroke-width="1.2" stroke-linecap="butt"/>
<line x1="90.00" y1="236.30" x2="143.80" y2="236.30" stroke="#68ae3d" stroke-width="1.2" stroke-linecap="butt"/>
<defs>
<linearGradient id="tbg" x1="0" y1="0" x2="0" y2="1"><stop offset="0" stop-color="#d6d6d8"/><stop offset="0.12" stop-color="#e2e2e4"/><stop offset="0.3" stop-color="#d4d4d6"/><stop offset="0.7" stop-color="#d0d0d2"/><stop offset="1" stop-color="#d4d4d6"/></linearGradient>
<linearGradient id="lr" x1="0" y1="0" x2="1" y2="0"><stop offset="0" stop-color="#b5121f"/><stop offset="0.3" stop-color="#d9212f"/><stop offset="0.65" stop-color="#d41f2e"/><stop offset="1" stop-color="#a90e1b"/></linearGradient>
<linearGradient id="lw" x1="0" y1="0" x2="1" y2="0"><stop offset="0" stop-color="#e2dcd9"/><stop offset="0.4" stop-color="#f5f0ed"/><stop offset="1" stop-color="#e4ddd9"/></linearGradient>
<linearGradient id="lp" x1="0" y1="0" x2="1" y2="0"><stop offset="0" stop-color="#d9c5bc"/><stop offset="0.4" stop-color="#ecd6cc"/><stop offset="1" stop-color="#d8c3ba"/></linearGradient>
<filter id="tbl" x="-5%" y="-5%" width="110%" height="110%"><feGaussianBlur stdDeviation="0.45"/></filter>
<clipPath id="tcp"><rect x="24" y="239.5" width="124" height="57"/></clipPath>
</defs>
<g clip-path="url(#tcp)"><g filter="url(#tbl)">
<rect x="22" y="237.5" width="128" height="61" fill="url(#tbg)"/>
<path d="M31.2 251.5L44.3 251.5L44.3 266.1L47.5 274.4L46.0 290.7Q43.0 292.9 40.1 290.7L34.9 274.4L31.2 266.1Z" fill="#eeeef0" stroke="#a8a8ad" stroke-width="0.6"/>
<path d="M35.6 274.4L46.8 274.4L45.4 290.2Q43.0 291.7 40.7 290.2Z" fill="url(#lw)"/>
<path d="M36.8 266.6l1.5 6.3" stroke="#f4f4f4" stroke-width="1.2" opacity="0.8"/>
<rect x="32.0" y="256.3" width="11.5" height="8.8" fill="#f6f6f6" stroke="#b8b8bb" stroke-width="0.4"/>
<path d="M33.5 259.3h2.2M37.0 259.3h1.5M33.5 262.3h8.5" stroke="#333" stroke-width="1.1"/>
<path d="M26.3 250.5L30.1 245.5L42.5 245.5L45.4 250.0L41.6 251.5L30.1 251.5Z" fill="#ededef" stroke="#9a9aa0" stroke-width="0.7"/>
<rect x="31.2" y="251.5" width="13.1" height="2.5" fill="#e0e0e3" stroke="#aaaaaf" stroke-width="0.5"/>
<path d="M49.7 250.8L60.6 250.8L60.6 264.7L62.4 273.5L60.9 290.2Q56.8 292.4 52.7 290.2L50.7 273.5L49.7 264.7Z" fill="#eeeef0" stroke="#a8a8ad" stroke-width="0.6"/>
<path d="M51.4 273.5L61.7 273.5L60.3 289.7Q56.8 291.2 53.3 289.7Z" fill="url(#lw)"/>
<path d="M54.1 265.2l1.5 6.8" stroke="#f4f4f4" stroke-width="1.2" opacity="0.8"/>
<rect x="50.5" y="254.9" width="9.3" height="8.8" fill="#f6f6f6" stroke="#b8b8bb" stroke-width="0.4"/>
<path d="M52.0 257.9h2.2M55.5 257.9h1.5M52.0 260.9h6.3" stroke="#333" stroke-width="1.1"/>
<path d="M47.3 249.8L50.6 245.1L61.5 245.1L64.0 249.3L60.7 250.8L50.6 250.8Z" fill="#ededef" stroke="#9a9aa0" stroke-width="0.7"/>
<rect x="49.7" y="250.8" width="10.9" height="2.5" fill="#e0e0e3" stroke="#aaaaaf" stroke-width="0.5"/>
<path d="M70.2 250.8L81.6 250.8L81.6 265.7L82.9 268.9L80.0 290.3Q76.3 292.5 72.7 290.3L70.6 268.9L70.2 265.7Z" fill="#eeeef0" stroke="#a8a8ad" stroke-width="0.6"/>
<path d="M71.3 268.9L82.2 268.9L79.4 289.8Q76.3 291.3 73.3 289.8Z" fill="url(#lp)"/>
<path d="M74.9 266.2l1.5 1.2" stroke="#f4f4f4" stroke-width="1.2" opacity="0.8"/>
<rect x="71.0" y="254.9" width="9.8" height="9.8" fill="#f6f6f6" stroke="#b8b8bb" stroke-width="0.4"/>
<path d="M72.5 257.9h2.2M76.0 257.9h1.5M72.5 260.9h6.8" stroke="#333" stroke-width="1.1"/>
<path d="M69.1 249.8L72.6 245.1L84.1 245.1L86.8 249.3L83.3 250.8L72.6 250.8Z" fill="#ededef" stroke="#9a9aa0" stroke-width="0.7"/>
<rect x="70.2" y="250.8" width="11.4" height="2.5" fill="#e0e0e3" stroke="#aaaaaf" stroke-width="0.5"/>
<path d="M90.9 252.5L101.8 252.5L101.8 266.1L104.5 270.7L102.6 291.6Q99.7 293.8 96.7 291.6L92.4 270.7L90.9 266.1Z" fill="#eeeef0" stroke="#a8a8ad" stroke-width="0.6"/>
<path d="M93.1 270.7L103.8 270.7L102.0 291.1Q99.7 292.6 97.3 291.1Z" fill="url(#lr)"/>
<path d="M93.1 271.2L103.8 271.2" stroke="#9c0c18" stroke-width="1.2" opacity="0.6"/>
<path d="M95.3 266.6l1.5 2.6" stroke="#f4f4f4" stroke-width="1.2" opacity="0.8"/>
<rect x="91.7" y="255.8" width="9.3" height="9.3" fill="#f6f6f6" stroke="#b8b8bb" stroke-width="0.4"/>
<path d="M93.2 258.8h2.2M96.7 258.8h1.5M93.2 261.8h6.3" stroke="#333" stroke-width="1.1"/>
<path d="M88.7 251.5L92.1 246.0L103.2 246.0L105.7 251.0L102.3 252.5L92.1 252.5Z" fill="#ededef" stroke="#9a9aa0" stroke-width="0.7"/>
<rect x="90.9" y="252.5" width="10.9" height="2.5" fill="#e0e0e3" stroke="#aaaaaf" stroke-width="0.5"/>
<path d="M109.1 253.5L120.4 253.5L120.4 267.5L123.1 271.2L121.1 292.1Q118.0 294.3 114.9 292.1L110.6 271.2L109.1 267.5Z" fill="#eeeef0" stroke="#a8a8ad" stroke-width="0.6"/>
<path d="M111.3 271.2L122.4 271.2L120.5 291.6Q118.0 293.1 115.5 291.6Z" fill="url(#lr)"/>
<path d="M111.3 271.7L122.4 271.7" stroke="#9c0c18" stroke-width="1.2" opacity="0.6"/>
<path d="M113.8 268.0l1.5 1.7" stroke="#f4f4f4" stroke-width="1.2" opacity="0.8"/>
<rect x="109.9" y="257.2" width="9.7" height="9.3" fill="#f6f6f6" stroke="#b8b8bb" stroke-width="0.4"/>
<path d="M111.4 260.2h2.2M114.9 260.2h1.5M111.4 263.2h6.7" stroke="#333" stroke-width="1.1"/>
<path d="M106.6 252.5L109.9 247.4L120.8 247.4L123.3 252.0L120.0 253.5L109.9 253.5Z" fill="#ededef" stroke="#9a9aa0" stroke-width="0.7"/>
<rect x="109.1" y="253.5" width="11.3" height="2.5" fill="#e0e0e3" stroke="#aaaaaf" stroke-width="0.5"/>
<path d="M127.1 254.0L140.4 254.0L140.4 266.2L140.3 270.3L135.5 293.1Q132.6 295.3 129.7 293.1L127.2 270.3L127.1 266.2Z" fill="#eeeef0" stroke="#a8a8ad" stroke-width="0.6"/>
<path d="M127.9 270.3L139.6 270.3L134.9 292.6Q132.6 294.1 130.3 292.6Z" fill="url(#lr)"/>
<path d="M127.9 270.8L139.6 270.8" stroke="#9c0c18" stroke-width="1.2" opacity="0.6"/>
<path d="M132.8 266.7l1.5 2.1" stroke="#f4f4f4" stroke-width="1.2" opacity="0.8"/>
<rect x="127.9" y="256.8" width="11.7" height="8.4" fill="#f6f6f6" stroke="#b8b8bb" stroke-width="0.4"/>
<path d="M129.4 259.8h2.2M132.9 259.8h1.5M129.4 262.8h8.7" stroke="#333" stroke-width="1.1"/>
<path d="M125.1 253.0L129.1 247.9L142.2 247.9L145.2 252.5L141.2 254.0L129.1 254.0Z" fill="#ededef" stroke="#9a9aa0" stroke-width="0.7"/>
<rect x="127.1" y="254.0" width="13.3" height="2.5" fill="#e0e0e3" stroke="#aaaaaf" stroke-width="0.5"/>
</g></g>
<text x="14.40" y="313.90" font-size="9" fill="#36548f" text-anchor="start" font-weight="normal" textLength="117.3" lengthAdjust="spacingAndGlyphs">Bronchoalveolar Lavage Fluid</text>
<rect x="56.60" y="350.08" width="17.50" height="47.81" fill="#cc8a7e"/>
<rect x="82.90" y="349.43" width="17.30" height="48.47" fill="#b9d29b"/>
<circle cx="60.50" cy="349.76" r="1.7" fill="#000"/>
<circle cx="65.35" cy="349.76" r="1.7" fill="#000"/>
<circle cx="70.20" cy="349.76" r="1.7" fill="#000"/>
<polygon points="84.90,350.89 88.50,350.89 86.70,347.65" fill="#000"/>
<polygon points="89.75,351.38 93.35,351.38 91.55,348.14" fill="#000"/>
<polygon points="94.60,350.72 98.20,350.72 96.40,347.48" fill="#000"/>
<line x1="52.30" y1="329.90" x2="52.30" y2="398.40" stroke="#1a1a1a" stroke-width="1.15" stroke-linecap="butt"/>
<line x1="49.10" y1="397.90" x2="52.30" y2="397.90" stroke="#1a1a1a" stroke-width="1.0" stroke-linecap="butt"/>
<text x="46.30" y="400.64" font-size="7.6" fill="#111" text-anchor="end" font-weight="normal" letter-spacing="0.25" stroke="#111" stroke-width="0.28">0</text>
<line x1="49.10" y1="381.52" x2="52.30" y2="381.52" stroke="#1a1a1a" stroke-width="1.0" stroke-linecap="butt"/>
<text x="46.30" y="384.26" font-size="7.6" fill="#111" text-anchor="end" font-weight="normal" letter-spacing="0.25" stroke="#111" stroke-width="0.28">5</text>
<line x1="49.10" y1="365.15" x2="52.30" y2="365.15" stroke="#1a1a1a" stroke-width="1.0" stroke-linecap="butt"/>
<text x="46.30" y="367.89" font-size="7.6" fill="#111" text-anchor="end" font-weight="normal" letter-spacing="0.25" stroke="#111" stroke-width="0.28">10</text>
<line x1="49.10" y1="348.77" x2="52.30" y2="348.77" stroke="#1a1a1a" stroke-width="1.0" stroke-linecap="butt"/>
<text x="46.30" y="351.51" font-size="7.6" fill="#111" text-anchor="end" font-weight="normal" letter-spacing="0.25" stroke="#111" stroke-width="0.28">15</text>
<line x1="49.10" y1="332.40" x2="52.30" y2="332.40" stroke="#1a1a1a" stroke-width="1.0" stroke-linecap="butt"/>
<text x="46.30" y="335.14" font-size="7.6" fill="#111" text-anchor="end" font-weight="normal" letter-spacing="0.25" stroke="#111" stroke-width="0.28">20</text>
<line x1="51.80" y1="397.90" x2="104.30" y2="397.90" stroke="#1a1a1a" stroke-width="1.15" stroke-linecap="butt"/>
<line x1="65.35" y1="397.90" x2="65.35" y2="400.70" stroke="#1a1a1a" stroke-width="1.0" stroke-linecap="butt"/>
<line x1="91.55" y1="397.90" x2="91.55" y2="400.70" stroke="#1a1a1a" stroke-width="1.0" stroke-linecap="butt"/>
<text x="78.40" y="410.70" font-size="7.8" fill="#111" text-anchor="middle" font-weight="normal" stroke="#111" stroke-width="0.25">LPS</text>
<text transform="translate(28.08,364.10) rotate(-90)" x="0" y="2.95" font-size="8.2" fill="#111" text-anchor="middle" textLength="50.8" lengthAdjust="spacingAndGlyphs" stroke="#111" stroke-width="0.35">GM-CSF (pg/mL)</text>
<polygon points="48.10,391.30 51.20,393.00 48.10,394.70" fill="#1f3f8f"/>
<text x="8.00" y="328.60" font-size="11" fill="#000" text-anchor="start" font-weight="bold" stroke="#000" stroke-width="0.3">F</text>
<rect x="157.00" y="342.01" width="17.50" height="55.89" fill="#cc8a7e"/>
<rect x="183.30" y="341.57" width="17.30" height="56.33" fill="#b9d29b"/>
<circle cx="160.90" cy="341.79" r="1.7" fill="#000"/>
<circle cx="165.75" cy="342.22" r="1.7" fill="#000"/>
<circle cx="170.60" cy="342.22" r="1.7" fill="#000"/>
<polygon points="185.30,342.97 188.90,342.97 187.10,339.73" fill="#000"/>
<polygon points="190.15,343.19 193.75,343.19 191.95,339.95" fill="#000"/>
<polygon points="195.00,342.97 198.60,342.97 196.80,339.73" fill="#000"/>
<line x1="152.70" y1="329.90" x2="152.70" y2="398.40" stroke="#1a1a1a" stroke-width="1.15" stroke-linecap="butt"/>
<line x1="149.50" y1="397.90" x2="152.70" y2="397.90" stroke="#1a1a1a" stroke-width="1.0" stroke-linecap="butt"/>
<text x="146.70" y="400.64" font-size="7.6" fill="#111" text-anchor="end" font-weight="normal" letter-spacing="0.25" stroke="#111" stroke-width="0.28">0</text>
<line x1="149.50" y1="376.07" x2="152.70" y2="376.07" stroke="#1a1a1a" stroke-width="1.0" stroke-linecap="butt"/>
<text x="146.70" y="378.80" font-size="7.6" fill="#111" text-anchor="end" font-weight="normal" letter-spacing="0.25" stroke="#111" stroke-width="0.28">5</text>
<line x1="149.50" y1="354.23" x2="152.70" y2="354.23" stroke="#1a1a1a" stroke-width="1.0" stroke-linecap="butt"/>
<text x="146.70" y="356.97" font-size="7.6" fill="#111" text-anchor="end" font-weight="normal" letter-spacing="0.25" stroke="#111" stroke-width="0.28">10</text>
<line x1="149.50" y1="332.40" x2="152.70" y2="332.40" stroke="#1a1a1a" stroke-width="1.0" stroke-linecap="butt"/>
<text x="146.70" y="335.14" font-size="7.6" fill="#111" text-anchor="end" font-weight="normal" letter-spacing="0.25" stroke="#111" stroke-width="0.28">15</text>
<line x1="152.20" y1="397.90" x2="204.70" y2="397.90" stroke="#1a1a1a" stroke-width="1.15" stroke-linecap="butt"/>
<line x1="165.75" y1="397.90" x2="165.75" y2="400.70" stroke="#1a1a1a" stroke-width="1.0" stroke-linecap="butt"/>
<line x1="191.95" y1="397.90" x2="191.95" y2="400.70" stroke="#1a1a1a" stroke-width="1.0" stroke-linecap="butt"/>
<text x="178.80" y="410.70" font-size="7.8" fill="#111" text-anchor="middle" font-weight="normal" stroke="#111" stroke-width="0.25">LPS</text>
<text transform="translate(128.78,364.10) rotate(-90)" x="0" y="2.95" font-size="8.2" fill="#111" text-anchor="middle" textLength="38.0" lengthAdjust="spacingAndGlyphs" stroke="#111" stroke-width="0.35">IL-4 (pg/mL)</text>
<polygon points="147.30,394.60 150.40,396.30 147.30,398.00" fill="#1f3f8f"/>
<text x="111.50" y="328.60" font-size="11" fill="#000" text-anchor="start" font-weight="bold" stroke="#000" stroke-width="0.3">G</text>
<rect x="258.60" y="345.50" width="17.50" height="52.40" fill="#cc8a7e"/>
<rect x="284.90" y="345.06" width="17.30" height="52.84" fill="#b9d29b"/>
<circle cx="262.50" cy="345.50" r="1.7" fill="#000"/>
<circle cx="267.35" cy="345.50" r="1.7" fill="#000"/>
<circle cx="272.20" cy="345.50" r="1.7" fill="#000"/>
<polygon points="286.90,345.81 290.50,345.81 288.70,342.57" fill="#000"/>
<polygon points="291.75,347.56 295.35,347.56 293.55,344.32" fill="#000"/>
<polygon points="296.60,346.25 300.20,346.25 298.40,343.01" fill="#000"/>
<line x1="254.30" y1="329.90" x2="254.30" y2="398.40" stroke="#1a1a1a" stroke-width="1.15" stroke-linecap="butt"/>
<line x1="251.10" y1="397.90" x2="254.30" y2="397.90" stroke="#1a1a1a" stroke-width="1.0" stroke-linecap="butt"/>
<text x="248.30" y="400.64" font-size="7.6" fill="#111" text-anchor="end" font-weight="normal" letter-spacing="0.25" stroke="#111" stroke-width="0.28">0</text>
<line x1="251.10" y1="376.07" x2="254.30" y2="376.07" stroke="#1a1a1a" stroke-width="1.0" stroke-linecap="butt"/>
<text x="248.30" y="378.80" font-size="7.6" fill="#111" text-anchor="end" font-weight="normal" letter-spacing="0.25" stroke="#111" stroke-width="0.28">5</text>
<line x1="251.10" y1="354.23" x2="254.30" y2="354.23" stroke="#1a1a1a" stroke-width="1.0" stroke-linecap="butt"/>
<text x="248.30" y="356.97" font-size="7.6" fill="#111" text-anchor="end" font-weight="normal" letter-spacing="0.25" stroke="#111" stroke-width="0.28">10</text>
<line x1="251.10" y1="332.40" x2="254.30" y2="332.40" stroke="#1a1a1a" stroke-width="1.0" stroke-linecap="butt"/>
<text x="248.30" y="335.14" font-size="7.6" fill="#111" text-anchor="end" font-weight="normal" letter-spacing="0.25" stroke="#111" stroke-width="0.28">15</text>
<line x1="253.80" y1="397.90" x2="306.30" y2="397.90" stroke="#1a1a1a" stroke-width="1.15" stroke-linecap="butt"/>
<line x1="267.35" y1="397.90" x2="267.35" y2="400.70" stroke="#1a1a1a" stroke-width="1.0" stroke-linecap="butt"/>
<line x1="293.55" y1="397.90" x2="293.55" y2="400.70" stroke="#1a1a1a" stroke-width="1.0" stroke-linecap="butt"/>
<text x="280.40" y="410.70" font-size="7.8" fill="#111" text-anchor="middle" font-weight="normal" stroke="#111" stroke-width="0.25">LPS</text>
<text transform="translate(229.78,364.10) rotate(-90)" x="0" y="2.95" font-size="8.2" fill="#111" text-anchor="middle" textLength="38.0" lengthAdjust="spacingAndGlyphs" stroke="#111" stroke-width="0.35">IL-5 (pg/mL)</text>
<polygon points="249.60,392.50 252.70,394.20 249.60,395.90" fill="#1f3f8f"/>
<text x="213.00" y="328.60" font-size="11" fill="#000" text-anchor="start" font-weight="bold" stroke="#000" stroke-width="0.3">H</text>
<rect x="359.00" y="369.08" width="17.50" height="28.82" fill="#cc8a7e"/>
<rect x="385.30" y="363.40" width="17.30" height="34.50" fill="#b9d29b"/>
<line x1="367.75" y1="369.08" x2="367.75" y2="364.71" stroke="#111" stroke-width="1.0" stroke-linecap="butt"/>
<line x1="362.95" y1="364.71" x2="372.55" y2="364.71" stroke="#111" stroke-width="1.0" stroke-linecap="butt"/>
<line x1="393.95" y1="363.40" x2="393.95" y2="355.54" stroke="#111" stroke-width="1.0" stroke-linecap="butt"/>
<line x1="389.15" y1="355.54" x2="398.75" y2="355.54" stroke="#111" stroke-width="1.0" stroke-linecap="butt"/>
<circle cx="365.20" cy="365.59" r="1.7" fill="#000"/>
<circle cx="369.50" cy="367.33" r="1.7" fill="#000"/>
<circle cx="366.70" cy="372.57" r="1.7" fill="#000"/>
<polygon points="391.40,359.35 395.00,359.35 393.20,356.11" fill="#000"/>
<polygon points="391.40,365.02 395.00,365.02 393.20,361.78" fill="#000"/>
<polygon points="391.90,373.76 395.50,373.76 393.70,370.52" fill="#000"/>
<line x1="354.70" y1="329.90" x2="354.70" y2="398.40" stroke="#1a1a1a" stroke-width="1.15" stroke-linecap="butt"/>
<line x1="351.50" y1="397.90" x2="354.70" y2="397.90" stroke="#1a1a1a" stroke-width="1.0" stroke-linecap="butt"/>
<text x="348.70" y="400.64" font-size="7.6" fill="#111" text-anchor="end" font-weight="normal" letter-spacing="0.25" stroke="#111" stroke-width="0.28">0</text>
<line x1="351.50" y1="376.07" x2="354.70" y2="376.07" stroke="#1a1a1a" stroke-width="1.0" stroke-linecap="butt"/>
<text x="348.70" y="378.80" font-size="7.6" fill="#111" text-anchor="end" font-weight="normal" letter-spacing="0.25" stroke="#111" stroke-width="0.28">5</text>
<line x1="351.50" y1="354.23" x2="354.70" y2="354.23" stroke="#1a1a1a" stroke-width="1.0" stroke-linecap="butt"/>
<text x="348.70" y="356.97" font-size="7.6" fill="#111" text-anchor="end" font-weight="normal" letter-spacing="0.25" stroke="#111" stroke-width="0.28">10</text>
<line x1="351.50" y1="332.40" x2="354.70" y2="332.40" stroke="#1a1a1a" stroke-width="1.0" stroke-linecap="butt"/>
<text x="348.70" y="335.14" font-size="7.6" fill="#111" text-anchor="end" font-weight="normal" letter-spacing="0.25" stroke="#111" stroke-width="0.28">15</text>
<line x1="354.20" y1="397.90" x2="406.70" y2="397.90" stroke="#1a1a1a" stroke-width="1.15" stroke-linecap="butt"/>
<line x1="367.75" y1="397.90" x2="367.75" y2="400.70" stroke="#1a1a1a" stroke-width="1.0" stroke-linecap="butt"/>
<line x1="393.95" y1="397.90" x2="393.95" y2="400.70" stroke="#1a1a1a" stroke-width="1.0" stroke-linecap="butt"/>
<text x="380.80" y="410.70" font-size="7.8" fill="#111" text-anchor="middle" font-weight="normal" stroke="#111" stroke-width="0.25">LPS</text>
<text transform="translate(330.48,364.10) rotate(-90)" x="0" y="2.95" font-size="8.2" fill="#111" text-anchor="middle" textLength="35.4" lengthAdjust="spacingAndGlyphs" stroke="#111" stroke-width="0.35">KC (pg/mL)</text>
<polygon points="347.70,395.70 350.80,397.40 347.70,399.10" fill="#1f3f8f"/>
<text x="316.60" y="328.60" font-size="11" fill="#000" text-anchor="start" font-weight="bold" stroke="#000" stroke-width="0.3">I</text>
<rect x="464.50" y="389.17" width="17.50" height="8.73" fill="#cc8a7e"/>
<rect x="490.80" y="375.19" width="17.30" height="22.71" fill="#b9d29b"/>
<line x1="499.45" y1="375.19" x2="499.45" y2="365.59" stroke="#111" stroke-width="1.0" stroke-linecap="butt"/>
<line x1="494.65" y1="365.59" x2="504.25" y2="365.59" stroke="#111" stroke-width="1.0" stroke-linecap="butt"/>
<circle cx="468.40" cy="389.17" r="1.7" fill="#000"/>
<circle cx="473.25" cy="389.17" r="1.7" fill="#000"/>
<circle cx="478.10" cy="389.17" r="1.7" fill="#000"/>
<polygon points="497.65,368.08 501.25,368.08 499.45,364.84" fill="#000"/>
<polygon points="497.65,375.94 501.25,375.94 499.45,372.70" fill="#000"/>
<polygon points="497.65,386.86 501.25,386.86 499.45,383.62" fill="#000"/>
<line x1="460.20" y1="329.90" x2="460.20" y2="398.40" stroke="#1a1a1a" stroke-width="1.15" stroke-linecap="butt"/>
<line x1="457.00" y1="397.90" x2="460.20" y2="397.90" stroke="#1a1a1a" stroke-width="1.0" stroke-linecap="butt"/>
<text x="454.20" y="400.64" font-size="7.6" fill="#111" text-anchor="end" font-weight="normal" letter-spacing="0.25" stroke="#111" stroke-width="0.28">0</text>
<line x1="457.00" y1="376.07" x2="460.20" y2="376.07" stroke="#1a1a1a" stroke-width="1.0" stroke-linecap="butt"/>
<text x="454.20" y="378.80" font-size="7.6" fill="#111" text-anchor="end" font-weight="normal" letter-spacing="0.25" stroke="#111" stroke-width="0.28">5</text>
<line x1="457.00" y1="354.23" x2="460.20" y2="354.23" stroke="#1a1a1a" stroke-width="1.0" stroke-linecap="butt"/>
<text x="454.20" y="356.97" font-size="7.6" fill="#111" text-anchor="end" font-weight="normal" letter-spacing="0.25" stroke="#111" stroke-width="0.28">10</text>
<line x1="457.00" y1="332.40" x2="460.20" y2="332.40" stroke="#1a1a1a" stroke-width="1.0" stroke-linecap="butt"/>
<text x="454.20" y="335.14" font-size="7.6" fill="#111" text-anchor="end" font-weight="normal" letter-spacing="0.25" stroke="#111" stroke-width="0.28">15</text>
<line x1="459.70" y1="397.90" x2="512.20" y2="397.90" stroke="#1a1a1a" stroke-width="1.15" stroke-linecap="butt"/>
<line x1="473.25" y1="397.90" x2="473.25" y2="400.70" stroke="#1a1a1a" stroke-width="1.0" stroke-linecap="butt"/>
<line x1="499.45" y1="397.90" x2="499.45" y2="400.70" stroke="#1a1a1a" stroke-width="1.0" stroke-linecap="butt"/>
<text x="486.30" y="410.70" font-size="7.8" fill="#111" text-anchor="middle" font-weight="normal" stroke="#111" stroke-width="0.25">LPS</text>
<text transform="translate(436.78,364.10) rotate(-90)" x="0" y="2.95" font-size="8.2" fill="#111" text-anchor="middle" textLength="44.4" lengthAdjust="spacingAndGlyphs" stroke="#111" stroke-width="0.35">IL-17A (pg/mL)</text>
<polygon points="456.00,392.50 459.10,394.20 456.00,395.90" fill="#1f3f8f"/>
<text x="415.60" y="328.60" font-size="11" fill="#000" text-anchor="start" font-weight="bold" stroke="#000" stroke-width="0.3">J</text>
<rect x="56.60" y="497.15" width="17.50" height="1.95" fill="#cc8a7e"/>
<rect x="82.90" y="456.79" width="17.30" height="42.32" fill="#b9d29b"/>
<line x1="65.35" y1="497.15" x2="65.35" y2="495.63" stroke="#111" stroke-width="1.0" stroke-linecap="butt"/>
<line x1="60.55" y1="495.63" x2="70.15" y2="495.63" stroke="#111" stroke-width="1.0" stroke-linecap="butt"/>
<line x1="91.55" y1="456.79" x2="91.55" y2="442.25" stroke="#111" stroke-width="1.0" stroke-linecap="butt"/>
<line x1="86.75" y1="442.25" x2="96.35" y2="442.25" stroke="#111" stroke-width="1.0" stroke-linecap="butt"/>
<circle cx="60.70" cy="495.19" r="1.7" fill="#000"/>
<circle cx="65.50" cy="499.10" r="1.7" fill="#000"/>
<circle cx="70.30" cy="499.10" r="1.7" fill="#000"/>
<polygon points="89.75,444.30 93.35,444.30 91.55,441.06" fill="#000"/>
<polygon points="89.75,463.40 93.35,463.40 91.55,460.16" fill="#000"/>
<polygon points="89.75,468.60 93.35,468.60 91.55,465.36" fill="#000"/>
<line x1="52.30" y1="431.50" x2="52.30" y2="499.60" stroke="#1a1a1a" stroke-width="1.15" stroke-linecap="butt"/>
<line x1="49.10" y1="499.10" x2="52.30" y2="499.10" stroke="#1a1a1a" stroke-width="1.0" stroke-linecap="butt"/>
<text x="46.30" y="501.84" font-size="7.6" fill="#111" text-anchor="end" font-weight="normal" letter-spacing="0.25" stroke="#111" stroke-width="0.28">0</text>
<line x1="49.10" y1="477.40" x2="52.30" y2="477.40" stroke="#1a1a1a" stroke-width="1.0" stroke-linecap="butt"/>
<text x="46.30" y="480.14" font-size="7.6" fill="#111" text-anchor="end" font-weight="normal" letter-spacing="0.25" stroke="#111" stroke-width="0.28">1000</text>
<line x1="49.10" y1="455.70" x2="52.30" y2="455.70" stroke="#1a1a1a" stroke-width="1.0" stroke-linecap="butt"/>
<text x="46.30" y="458.44" font-size="7.6" fill="#111" text-anchor="end" font-weight="normal" letter-spacing="0.25" stroke="#111" stroke-width="0.28">2000</text>
<line x1="49.10" y1="434.00" x2="52.30" y2="434.00" stroke="#1a1a1a" stroke-width="1.0" stroke-linecap="butt"/>
<text x="46.30" y="436.74" font-size="7.6" fill="#111" text-anchor="end" font-weight="normal" letter-spacing="0.25" stroke="#111" stroke-width="0.28">3000</text>
<line x1="51.80" y1="499.10" x2="104.30" y2="499.10" stroke="#1a1a1a" stroke-width="1.15" stroke-linecap="butt"/>
<line x1="65.35" y1="499.10" x2="65.35" y2="501.90" stroke="#1a1a1a" stroke-width="1.0" stroke-linecap="butt"/>
<line x1="91.55" y1="499.10" x2="91.55" y2="501.90" stroke="#1a1a1a" stroke-width="1.0" stroke-linecap="butt"/>
<text x="78.40" y="511.90" font-size="7.8" fill="#111" text-anchor="middle" font-weight="normal" stroke="#111" stroke-width="0.25">LPS</text>
<text transform="translate(19.18,465.30) rotate(-90)" x="0" y="2.95" font-size="8.2" fill="#111" text-anchor="middle" textLength="45.099999999999994" lengthAdjust="spacingAndGlyphs" stroke="#111" stroke-width="0.35">G-CSF (pg/mL)</text>
<text x="78.10" y="440.80" font-size="6.9" fill="#111" text-anchor="middle" font-weight="normal" >**</text>
<polygon points="46.10,497.90 49.20,499.60 46.10,501.30" fill="#1f3f8f"/>
<text x="7.40" y="429.80" font-size="11" fill="#000" text-anchor="start" font-weight="bold" stroke="#000" stroke-width="0.3">K</text>
<rect x="157.00" y="498.29" width="17.50" height="0.81" fill="#cc8a7e"/>
<rect x="183.30" y="464.92" width="17.30" height="34.18" fill="#b9d29b"/>
<line x1="191.95" y1="464.92" x2="191.95" y2="453.53" stroke="#111" stroke-width="1.0" stroke-linecap="butt"/>
<line x1="187.15" y1="453.53" x2="196.75" y2="453.53" stroke="#111" stroke-width="1.0" stroke-linecap="butt"/>
<circle cx="161.20" cy="497.88" r="1.7" fill="#000"/>
<circle cx="165.75" cy="498.86" r="1.7" fill="#000"/>
<circle cx="169.20" cy="498.77" r="1.7" fill="#000"/>
<polygon points="190.15,455.15 193.75,455.15 191.95,451.91" fill="#000"/>
<polygon points="187.90,472.65 191.50,472.65 189.70,469.41" fill="#000"/>
<polygon points="192.10,472.65 195.70,472.65 193.90,469.41" fill="#000"/>
<line x1="152.70" y1="431.50" x2="152.70" y2="499.60" stroke="#1a1a1a" stroke-width="1.15" stroke-linecap="butt"/>
<line x1="149.50" y1="499.10" x2="152.70" y2="499.10" stroke="#1a1a1a" stroke-width="1.0" stroke-linecap="butt"/>
<text x="146.70" y="501.84" font-size="7.6" fill="#111" text-anchor="end" font-weight="normal" letter-spacing="0.25" stroke="#111" stroke-width="0.28">0</text>
<line x1="149.50" y1="482.83" x2="152.70" y2="482.83" stroke="#1a1a1a" stroke-width="1.0" stroke-linecap="butt"/>
<text x="146.70" y="485.56" font-size="7.6" fill="#111" text-anchor="end" font-weight="normal" letter-spacing="0.25" stroke="#111" stroke-width="0.28">20</text>
<line x1="149.50" y1="466.55" x2="152.70" y2="466.55" stroke="#1a1a1a" stroke-width="1.0" stroke-linecap="butt"/>
<text x="146.70" y="469.29" font-size="7.6" fill="#111" text-anchor="end" font-weight="normal" letter-spacing="0.25" stroke="#111" stroke-width="0.28">40</text>
<line x1="149.50" y1="450.27" x2="152.70" y2="450.27" stroke="#1a1a1a" stroke-width="1.0" stroke-linecap="butt"/>
<text x="146.70" y="453.01" font-size="7.6" fill="#111" text-anchor="end" font-weight="normal" letter-spacing="0.25" stroke="#111" stroke-width="0.28">60</text>
<line x1="149.50" y1="434.00" x2="152.70" y2="434.00" stroke="#1a1a1a" stroke-width="1.0" stroke-linecap="butt"/>
<text x="146.70" y="436.74" font-size="7.6" fill="#111" text-anchor="end" font-weight="normal" letter-spacing="0.25" stroke="#111" stroke-width="0.28">80</text>
<line x1="152.20" y1="499.10" x2="204.70" y2="499.10" stroke="#1a1a1a" stroke-width="1.15" stroke-linecap="butt"/>
<line x1="165.75" y1="499.10" x2="165.75" y2="501.90" stroke="#1a1a1a" stroke-width="1.0" stroke-linecap="butt"/>
<line x1="191.95" y1="499.10" x2="191.95" y2="501.90" stroke="#1a1a1a" stroke-width="1.0" stroke-linecap="butt"/>
<text x="178.80" y="511.90" font-size="7.8" fill="#111" text-anchor="middle" font-weight="normal" stroke="#111" stroke-width="0.25">LPS</text>
<text transform="translate(128.58,465.90) rotate(-90)" x="0" y="2.95" font-size="8.2" fill="#111" text-anchor="middle" textLength="43.8" lengthAdjust="spacingAndGlyphs" stroke="#111" stroke-width="0.35">IFN-γ (pg/mL)</text>
<text x="178.50" y="440.80" font-size="6.9" fill="#111" text-anchor="middle" font-weight="normal" >**</text>
<polygon points="146.50,497.40 149.60,499.10 146.50,500.80" fill="#1f3f8f"/>
<text x="113.00" y="429.80" font-size="11" fill="#000" text-anchor="start" font-weight="bold" stroke="#000" stroke-width="0.3">L</text>
<rect x="258.60" y="484.13" width="17.50" height="14.97" fill="#cc8a7e"/>
<rect x="284.90" y="445.94" width="17.30" height="53.17" fill="#b9d29b"/>
<line x1="267.35" y1="484.13" x2="267.35" y2="478.49" stroke="#111" stroke-width="1.0" stroke-linecap="butt"/>
<line x1="262.55" y1="478.49" x2="272.15" y2="478.49" stroke="#111" stroke-width="1.0" stroke-linecap="butt"/>
<line x1="293.55" y1="445.94" x2="293.55" y2="443.76" stroke="#111" stroke-width="1.0" stroke-linecap="butt"/>
<line x1="288.75" y1="443.76" x2="298.35" y2="443.76" stroke="#111" stroke-width="1.0" stroke-linecap="butt"/>
<circle cx="264.30" cy="480.87" r="1.7" fill="#000"/>
<circle cx="269.50" cy="480.87" r="1.7" fill="#000"/>
<circle cx="266.90" cy="489.99" r="1.7" fill="#000"/>
<polygon points="286.90,445.60 290.50,445.60 288.70,442.36" fill="#000"/>
<polygon points="291.75,447.77 295.35,447.77 293.55,444.53" fill="#000"/>
<polygon points="296.60,447.34 300.20,447.34 298.40,444.10" fill="#000"/>
<line x1="254.30" y1="431.50" x2="254.30" y2="499.60" stroke="#1a1a1a" stroke-width="1.15" stroke-linecap="butt"/>
<line x1="251.10" y1="499.10" x2="254.30" y2="499.10" stroke="#1a1a1a" stroke-width="1.0" stroke-linecap="butt"/>
<text x="248.30" y="501.84" font-size="7.6" fill="#111" text-anchor="end" font-weight="normal" letter-spacing="0.25" stroke="#111" stroke-width="0.28">0</text>
<line x1="251.10" y1="477.40" x2="254.30" y2="477.40" stroke="#1a1a1a" stroke-width="1.0" stroke-linecap="butt"/>
<text x="248.30" y="480.14" font-size="7.6" fill="#111" text-anchor="end" font-weight="normal" letter-spacing="0.25" stroke="#111" stroke-width="0.28">10</text>
<line x1="251.10" y1="455.70" x2="254.30" y2="455.70" stroke="#1a1a1a" stroke-width="1.0" stroke-linecap="butt"/>
<text x="248.30" y="458.44" font-size="7.6" fill="#111" text-anchor="end" font-weight="normal" letter-spacing="0.25" stroke="#111" stroke-width="0.28">20</text>
<line x1="251.10" y1="434.00" x2="254.30" y2="434.00" stroke="#1a1a1a" stroke-width="1.0" stroke-linecap="butt"/>
<text x="248.30" y="436.74" font-size="7.6" fill="#111" text-anchor="end" font-weight="normal" letter-spacing="0.25" stroke="#111" stroke-width="0.28">30</text>
<line x1="253.80" y1="499.10" x2="306.30" y2="499.10" stroke="#1a1a1a" stroke-width="1.15" stroke-linecap="butt"/>
<line x1="267.35" y1="499.10" x2="267.35" y2="501.90" stroke="#1a1a1a" stroke-width="1.0" stroke-linecap="butt"/>
<line x1="293.55" y1="499.10" x2="293.55" y2="501.90" stroke="#1a1a1a" stroke-width="1.0" stroke-linecap="butt"/>
<text x="280.40" y="511.90" font-size="7.8" fill="#111" text-anchor="middle" font-weight="normal" stroke="#111" stroke-width="0.25">LPS</text>
<text transform="translate(229.78,465.50) rotate(-90)" x="0" y="2.95" font-size="8.2" fill="#111" text-anchor="middle" textLength="44.5" lengthAdjust="spacingAndGlyphs" stroke="#111" stroke-width="0.35">IL-1α (pg/mL)</text>
<text x="280.10" y="440.80" font-size="6.9" fill="#111" text-anchor="middle" font-weight="normal" >***</text>
<polygon points="249.50,496.00 252.60,497.70 249.50,499.40" fill="#1f3f8f"/>
<text x="211.80" y="429.80" font-size="11" fill="#000" text-anchor="start" font-weight="bold" stroke="#000" stroke-width="0.3">M</text>
<rect x="359.00" y="491.61" width="17.50" height="7.49" fill="#cc8a7e"/>
<rect x="385.30" y="452.88" width="17.30" height="46.22" fill="#b9d29b"/>
<line x1="367.75" y1="491.61" x2="367.75" y2="488.36" stroke="#111" stroke-width="1.0" stroke-linecap="butt"/>
<line x1="362.95" y1="488.36" x2="372.55" y2="488.36" stroke="#111" stroke-width="1.0" stroke-linecap="butt"/>
<line x1="393.95" y1="452.88" x2="393.95" y2="449.30" stroke="#111" stroke-width="1.0" stroke-linecap="butt"/>
<line x1="389.15" y1="449.30" x2="398.75" y2="449.30" stroke="#111" stroke-width="1.0" stroke-linecap="butt"/>
<circle cx="365.20" cy="488.36" r="1.7" fill="#000"/>
<circle cx="369.20" cy="491.94" r="1.7" fill="#000"/>
<circle cx="367.70" cy="490.64" r="1.7" fill="#000"/>
<polygon points="392.15,451.24 395.75,451.24 393.95,448.00" fill="#000"/>
<polygon points="389.50,456.78 393.10,456.78 391.30,453.54" fill="#000"/>
<polygon points="394.50,454.50 398.10,454.50 396.30,451.26" fill="#000"/>
<line x1="354.70" y1="431.50" x2="354.70" y2="499.60" stroke="#1a1a1a" stroke-width="1.15" stroke-linecap="butt"/>
<line x1="351.50" y1="499.10" x2="354.70" y2="499.10" stroke="#1a1a1a" stroke-width="1.0" stroke-linecap="butt"/>
<text x="348.70" y="501.84" font-size="7.6" fill="#111" text-anchor="end" font-weight="normal" letter-spacing="0.25" stroke="#111" stroke-width="0.28">0</text>
<line x1="351.50" y1="482.83" x2="354.70" y2="482.83" stroke="#1a1a1a" stroke-width="1.0" stroke-linecap="butt"/>
<text x="348.70" y="485.56" font-size="7.6" fill="#111" text-anchor="end" font-weight="normal" letter-spacing="0.25" stroke="#111" stroke-width="0.28">5</text>
<line x1="351.50" y1="466.55" x2="354.70" y2="466.55" stroke="#1a1a1a" stroke-width="1.0" stroke-linecap="butt"/>
<text x="348.70" y="469.29" font-size="7.6" fill="#111" text-anchor="end" font-weight="normal" letter-spacing="0.25" stroke="#111" stroke-width="0.28">10</text>
<line x1="351.50" y1="450.27" x2="354.70" y2="450.27" stroke="#1a1a1a" stroke-width="1.0" stroke-linecap="butt"/>
<text x="348.70" y="453.01" font-size="7.6" fill="#111" text-anchor="end" font-weight="normal" letter-spacing="0.25" stroke="#111" stroke-width="0.28">15</text>
<line x1="351.50" y1="434.00" x2="354.70" y2="434.00" stroke="#1a1a1a" stroke-width="1.0" stroke-linecap="butt"/>
<text x="348.70" y="436.74" font-size="7.6" fill="#111" text-anchor="end" font-weight="normal" letter-spacing="0.25" stroke="#111" stroke-width="0.28">20</text>
<line x1="354.20" y1="499.10" x2="406.70" y2="499.10" stroke="#1a1a1a" stroke-width="1.15" stroke-linecap="butt"/>
<line x1="367.75" y1="499.10" x2="367.75" y2="501.90" stroke="#1a1a1a" stroke-width="1.0" stroke-linecap="butt"/>
<line x1="393.95" y1="499.10" x2="393.95" y2="501.90" stroke="#1a1a1a" stroke-width="1.0" stroke-linecap="butt"/>
<text x="380.80" y="511.90" font-size="7.8" fill="#111" text-anchor="middle" font-weight="normal" stroke="#111" stroke-width="0.25">LPS</text>
<text transform="translate(330.78,465.50) rotate(-90)" x="0" y="2.95" font-size="8.2" fill="#111" text-anchor="middle" textLength="44.5" lengthAdjust="spacingAndGlyphs" stroke="#111" stroke-width="0.35">IL-1β (pg/mL)</text>
<text x="380.50" y="440.80" font-size="6.9" fill="#111" text-anchor="middle" font-weight="normal" >***</text>
<polygon points="350.70,491.90 353.80,493.60 350.70,495.30" fill="#1f3f8f"/>
<text x="313.90" y="429.80" font-size="11" fill="#000" text-anchor="start" font-weight="bold" stroke="#000" stroke-width="0.3">N</text>
<rect x="464.50" y="498.32" width="17.50" height="0.78" fill="#cc8a7e"/>
<rect x="490.80" y="471.76" width="17.30" height="27.34" fill="#b9d29b"/>
<line x1="499.45" y1="471.76" x2="499.45" y2="443.63" stroke="#111" stroke-width="1.0" stroke-linecap="butt"/>
<line x1="494.65" y1="443.63" x2="504.25" y2="443.63" stroke="#111" stroke-width="1.0" stroke-linecap="butt"/>
<circle cx="468.40" cy="498.06" r="1.7" fill="#000"/>
<circle cx="473.25" cy="498.58" r="1.7" fill="#000"/>
<circle cx="478.10" cy="498.32" r="1.7" fill="#000"/>
<polygon points="497.65,441.61 501.25,441.61 499.45,438.37" fill="#000"/>
<polygon points="495.00,491.09 498.60,491.09 496.80,487.85" fill="#000"/>
<polygon points="500.00,487.96 503.60,487.96 501.80,484.72" fill="#000"/>
<line x1="460.20" y1="431.50" x2="460.20" y2="499.60" stroke="#1a1a1a" stroke-width="1.15" stroke-linecap="butt"/>
<line x1="457.00" y1="499.10" x2="460.20" y2="499.10" stroke="#1a1a1a" stroke-width="1.0" stroke-linecap="butt"/>
<text x="454.20" y="501.84" font-size="7.6" fill="#111" text-anchor="end" font-weight="normal" letter-spacing="0.25" stroke="#111" stroke-width="0.28">0</text>
<line x1="457.00" y1="486.08" x2="460.20" y2="486.08" stroke="#1a1a1a" stroke-width="1.0" stroke-linecap="butt"/>
<text x="454.20" y="488.82" font-size="7.6" fill="#111" text-anchor="end" font-weight="normal" letter-spacing="0.25" stroke="#111" stroke-width="0.28">500</text>
<line x1="457.00" y1="473.06" x2="460.20" y2="473.06" stroke="#1a1a1a" stroke-width="1.0" stroke-linecap="butt"/>
<text x="454.20" y="475.80" font-size="7.6" fill="#111" text-anchor="end" font-weight="normal" letter-spacing="0.25" stroke="#111" stroke-width="0.28">1000</text>
<line x1="457.00" y1="460.04" x2="460.20" y2="460.04" stroke="#1a1a1a" stroke-width="1.0" stroke-linecap="butt"/>
<text x="454.20" y="462.78" font-size="7.6" fill="#111" text-anchor="end" font-weight="normal" letter-spacing="0.25" stroke="#111" stroke-width="0.28">1500</text>
<line x1="457.00" y1="447.02" x2="460.20" y2="447.02" stroke="#1a1a1a" stroke-width="1.0" stroke-linecap="butt"/>
<text x="454.20" y="449.76" font-size="7.6" fill="#111" text-anchor="end" font-weight="normal" letter-spacing="0.25" stroke="#111" stroke-width="0.28">2000</text>
<line x1="457.00" y1="434.00" x2="460.20" y2="434.00" stroke="#1a1a1a" stroke-width="1.0" stroke-linecap="butt"/>
<text x="454.20" y="436.74" font-size="7.6" fill="#111" text-anchor="end" font-weight="normal" letter-spacing="0.25" stroke="#111" stroke-width="0.28">2500</text>
<line x1="459.70" y1="499.10" x2="512.20" y2="499.10" stroke="#1a1a1a" stroke-width="1.15" stroke-linecap="butt"/>
<line x1="473.25" y1="499.10" x2="473.25" y2="501.90" stroke="#1a1a1a" stroke-width="1.0" stroke-linecap="butt"/>
<line x1="499.45" y1="499.10" x2="499.45" y2="501.90" stroke="#1a1a1a" stroke-width="1.0" stroke-linecap="butt"/>
<text x="486.30" y="511.90" font-size="7.8" fill="#111" text-anchor="middle" font-weight="normal" stroke="#111" stroke-width="0.25">LPS</text>
<text transform="translate(427.18,465.90) rotate(-90)" x="0" y="2.95" font-size="8.2" fill="#111" text-anchor="middle" textLength="37.5" lengthAdjust="spacingAndGlyphs" stroke="#111" stroke-width="0.35">IL-6 (pg/mL)</text>
<polygon points="454.50,497.90 457.60,499.60 454.50,501.30" fill="#1f3f8f"/>
<text x="414.50" y="429.80" font-size="11" fill="#000" text-anchor="start" font-weight="bold" stroke="#000" stroke-width="0.3">O</text>
<rect x="56.60" y="600.23" width="17.50" height="0.87" fill="#cc8a7e"/>
<rect x="82.90" y="558.85" width="17.30" height="42.25" fill="#b9d29b"/>
<line x1="91.55" y1="558.85" x2="91.55" y2="550.18" stroke="#111" stroke-width="1.0" stroke-linecap="butt"/>
<line x1="86.75" y1="550.18" x2="96.35" y2="550.18" stroke="#111" stroke-width="1.0" stroke-linecap="butt"/>
<circle cx="60.50" cy="600.23" r="1.7" fill="#000"/>
<circle cx="65.35" cy="600.67" r="1.7" fill="#000"/>
<circle cx="70.20" cy="600.67" r="1.7" fill="#000"/>
<polygon points="89.75,555.05 93.35,555.05 91.55,551.81" fill="#000"/>
<polygon points="89.75,560.47 93.35,560.47 91.55,557.23" fill="#000"/>
<polygon points="89.75,570.22 93.35,570.22 91.55,566.98" fill="#000"/>
<line x1="52.30" y1="533.60" x2="52.30" y2="601.60" stroke="#1a1a1a" stroke-width="1.15" stroke-linecap="butt"/>
<line x1="49.10" y1="601.10" x2="52.30" y2="601.10" stroke="#1a1a1a" stroke-width="1.0" stroke-linecap="butt"/>
<text x="46.30" y="603.84" font-size="7.6" fill="#111" text-anchor="end" font-weight="normal" letter-spacing="0.25" stroke="#111" stroke-width="0.28">0</text>
<line x1="49.10" y1="579.43" x2="52.30" y2="579.43" stroke="#1a1a1a" stroke-width="1.0" stroke-linecap="butt"/>
<text x="46.30" y="582.17" font-size="7.6" fill="#111" text-anchor="end" font-weight="normal" letter-spacing="0.25" stroke="#111" stroke-width="0.28">1000</text>
<line x1="49.10" y1="557.77" x2="52.30" y2="557.77" stroke="#1a1a1a" stroke-width="1.0" stroke-linecap="butt"/>
<text x="46.30" y="560.50" font-size="7.6" fill="#111" text-anchor="end" font-weight="normal" letter-spacing="0.25" stroke="#111" stroke-width="0.28">2000</text>
<line x1="49.10" y1="536.10" x2="52.30" y2="536.10" stroke="#1a1a1a" stroke-width="1.0" stroke-linecap="butt"/>
<text x="46.30" y="538.84" font-size="7.6" fill="#111" text-anchor="end" font-weight="normal" letter-spacing="0.25" stroke="#111" stroke-width="0.28">3000</text>
<line x1="51.80" y1="601.10" x2="104.30" y2="601.10" stroke="#1a1a1a" stroke-width="1.15" stroke-linecap="butt"/>
<line x1="65.35" y1="601.10" x2="65.35" y2="603.90" stroke="#1a1a1a" stroke-width="1.0" stroke-linecap="butt"/>
<line x1="91.55" y1="601.10" x2="91.55" y2="603.90" stroke="#1a1a1a" stroke-width="1.0" stroke-linecap="butt"/>
<text x="78.40" y="613.90" font-size="7.8" fill="#111" text-anchor="middle" font-weight="normal" stroke="#111" stroke-width="0.25">LPS</text>
<text transform="translate(19.18,567.90) rotate(-90)" x="0" y="2.95" font-size="8.2" fill="#111" text-anchor="middle" textLength="46.4" lengthAdjust="spacingAndGlyphs" stroke="#111" stroke-width="0.35">MCP-1 (pg/mL)</text>
<text x="78.10" y="542.80" font-size="6.9" fill="#111" text-anchor="middle" font-weight="normal" >**</text>
<polygon points="45.90,599.40 49.00,601.10 45.90,602.80" fill="#1f3f8f"/>
<text x="7.40" y="532.00" font-size="11" fill="#000" text-anchor="start" font-weight="bold" stroke="#000" stroke-width="0.3">P</text>
<rect x="183.30" y="545.85" width="17.30" height="55.25" fill="#b9d29b"/>
<line x1="191.95" y1="545.85" x2="191.95" y2="543.41" stroke="#111" stroke-width="1.0" stroke-linecap="butt"/>
<line x1="187.15" y1="543.41" x2="196.75" y2="543.41" stroke="#111" stroke-width="1.0" stroke-linecap="butt"/>
<polygon points="185.90,545.03 189.50,545.03 187.70,541.79" fill="#000"/>
<polygon points="190.15,548.28 193.75,548.28 191.95,545.04" fill="#000"/>
<polygon points="195.00,546.66 198.60,546.66 196.80,543.42" fill="#000"/>
<line x1="152.70" y1="533.60" x2="152.70" y2="601.60" stroke="#1a1a1a" stroke-width="1.15" stroke-linecap="butt"/>
<line x1="149.50" y1="601.10" x2="152.70" y2="601.10" stroke="#1a1a1a" stroke-width="1.0" stroke-linecap="butt"/>
<text x="146.70" y="603.84" font-size="7.6" fill="#111" text-anchor="end" font-weight="normal" letter-spacing="0.25" stroke="#111" stroke-width="0.28">0</text>
<line x1="149.50" y1="584.85" x2="152.70" y2="584.85" stroke="#1a1a1a" stroke-width="1.0" stroke-linecap="butt"/>
<text x="146.70" y="587.59" font-size="7.6" fill="#111" text-anchor="end" font-weight="normal" letter-spacing="0.25" stroke="#111" stroke-width="0.28">100</text>
<line x1="149.50" y1="568.60" x2="152.70" y2="568.60" stroke="#1a1a1a" stroke-width="1.0" stroke-linecap="butt"/>
<text x="146.70" y="571.34" font-size="7.6" fill="#111" text-anchor="end" font-weight="normal" letter-spacing="0.25" stroke="#111" stroke-width="0.28">200</text>
<line x1="149.50" y1="552.35" x2="152.70" y2="552.35" stroke="#1a1a1a" stroke-width="1.0" stroke-linecap="butt"/>
<text x="146.70" y="555.09" font-size="7.6" fill="#111" text-anchor="end" font-weight="normal" letter-spacing="0.25" stroke="#111" stroke-width="0.28">300</text>
<line x1="149.50" y1="536.10" x2="152.70" y2="536.10" stroke="#1a1a1a" stroke-width="1.0" stroke-linecap="butt"/>
<text x="146.70" y="538.84" font-size="7.6" fill="#111" text-anchor="end" font-weight="normal" letter-spacing="0.25" stroke="#111" stroke-width="0.28">400</text>
<line x1="152.20" y1="601.10" x2="204.70" y2="601.10" stroke="#1a1a1a" stroke-width="1.15" stroke-linecap="butt"/>
<line x1="165.75" y1="601.10" x2="165.75" y2="603.90" stroke="#1a1a1a" stroke-width="1.0" stroke-linecap="butt"/>
<line x1="191.95" y1="601.10" x2="191.95" y2="603.90" stroke="#1a1a1a" stroke-width="1.0" stroke-linecap="butt"/>
<text x="178.80" y="613.90" font-size="7.8" fill="#111" text-anchor="middle" font-weight="normal" stroke="#111" stroke-width="0.25">LPS</text>
<text transform="translate(124.18,567.60) rotate(-90)" x="0" y="2.95" font-size="8.2" fill="#111" text-anchor="middle" textLength="38.099999999999994" lengthAdjust="spacingAndGlyphs" stroke="#111" stroke-width="0.35">MIG (pg/mL)</text>
<text x="178.50" y="542.80" font-size="6.9" fill="#111" text-anchor="middle" font-weight="normal" >***</text>
<polygon points="146.50,599.40 149.60,601.10 146.50,602.80" fill="#1f3f8f"/>
<text x="111.30" y="532.00" font-size="11" fill="#000" text-anchor="start" font-weight="bold" stroke="#000" stroke-width="0.3">Q</text>
<rect x="258.60" y="596.55" width="17.50" height="4.55" fill="#cc8a7e"/>
<rect x="284.90" y="555.60" width="17.30" height="45.50" fill="#b9d29b"/>
<line x1="293.55" y1="555.60" x2="293.55" y2="542.60" stroke="#111" stroke-width="1.0" stroke-linecap="butt"/>
<line x1="288.75" y1="542.60" x2="298.35" y2="542.60" stroke="#111" stroke-width="1.0" stroke-linecap="butt"/>
<circle cx="262.50" cy="596.55" r="1.7" fill="#000"/>
<circle cx="267.35" cy="596.55" r="1.7" fill="#000"/>
<circle cx="272.20" cy="596.55" r="1.7" fill="#000"/>
<polygon points="291.75,544.22 295.35,544.22 293.55,540.98" fill="#000"/>
<polygon points="291.75,562.10 295.35,562.10 293.55,558.86" fill="#000"/>
<polygon points="291.75,567.78 295.35,567.78 293.55,564.54" fill="#000"/>
<line x1="254.30" y1="533.60" x2="254.30" y2="601.60" stroke="#1a1a1a" stroke-width="1.15" stroke-linecap="butt"/>
<line x1="251.10" y1="601.10" x2="254.30" y2="601.10" stroke="#1a1a1a" stroke-width="1.0" stroke-linecap="butt"/>
<text x="248.30" y="603.84" font-size="7.6" fill="#111" text-anchor="end" font-weight="normal" letter-spacing="0.25" stroke="#111" stroke-width="0.28">0</text>
<line x1="251.10" y1="584.85" x2="254.30" y2="584.85" stroke="#1a1a1a" stroke-width="1.0" stroke-linecap="butt"/>
<text x="248.30" y="587.59" font-size="7.6" fill="#111" text-anchor="end" font-weight="normal" letter-spacing="0.25" stroke="#111" stroke-width="0.28">100</text>
<line x1="251.10" y1="568.60" x2="254.30" y2="568.60" stroke="#1a1a1a" stroke-width="1.0" stroke-linecap="butt"/>
<text x="248.30" y="571.34" font-size="7.6" fill="#111" text-anchor="end" font-weight="normal" letter-spacing="0.25" stroke="#111" stroke-width="0.28">200</text>
<line x1="251.10" y1="552.35" x2="254.30" y2="552.35" stroke="#1a1a1a" stroke-width="1.0" stroke-linecap="butt"/>
<text x="248.30" y="555.09" font-size="7.6" fill="#111" text-anchor="end" font-weight="normal" letter-spacing="0.25" stroke="#111" stroke-width="0.28">300</text>
<line x1="251.10" y1="536.10" x2="254.30" y2="536.10" stroke="#1a1a1a" stroke-width="1.0" stroke-linecap="butt"/>
<text x="248.30" y="538.84" font-size="7.6" fill="#111" text-anchor="end" font-weight="normal" letter-spacing="0.25" stroke="#111" stroke-width="0.28">400</text>
<line x1="253.80" y1="601.10" x2="306.30" y2="601.10" stroke="#1a1a1a" stroke-width="1.15" stroke-linecap="butt"/>
<line x1="267.35" y1="601.10" x2="267.35" y2="603.90" stroke="#1a1a1a" stroke-width="1.0" stroke-linecap="butt"/>
<line x1="293.55" y1="601.10" x2="293.55" y2="603.90" stroke="#1a1a1a" stroke-width="1.0" stroke-linecap="butt"/>
<text x="280.40" y="613.90" font-size="7.8" fill="#111" text-anchor="middle" font-weight="normal" stroke="#111" stroke-width="0.25">LPS</text>
<text transform="translate(225.18,567.90) rotate(-90)" x="0" y="2.95" font-size="8.2" fill="#111" text-anchor="middle" textLength="50.3" lengthAdjust="spacingAndGlyphs" stroke="#111" stroke-width="0.35">MIP-1α (pg/mL)</text>
<text x="280.10" y="542.80" font-size="6.9" fill="#111" text-anchor="middle" font-weight="normal" >**</text>
<polygon points="248.10,599.40 251.20,601.10 248.10,602.80" fill="#1f3f8f"/>
<text x="213.00" y="532.00" font-size="11" fill="#000" text-anchor="start" font-weight="bold" stroke="#000" stroke-width="0.3">R</text>
<rect x="359.00" y="597.85" width="17.50" height="3.25" fill="#cc8a7e"/>
<rect x="385.30" y="557.23" width="17.30" height="43.88" fill="#b9d29b"/>
<line x1="393.95" y1="557.23" x2="393.95" y2="540.98" stroke="#111" stroke-width="1.0" stroke-linecap="butt"/>
<line x1="389.15" y1="540.98" x2="398.75" y2="540.98" stroke="#111" stroke-width="1.0" stroke-linecap="butt"/>
<circle cx="362.90" cy="597.85" r="1.7" fill="#000"/>
<circle cx="367.75" cy="597.85" r="1.7" fill="#000"/>
<circle cx="372.60" cy="597.85" r="1.7" fill="#000"/>
<polygon points="392.15,542.60 395.75,542.60 393.95,539.36" fill="#000"/>
<polygon points="389.50,568.60 393.10,568.60 391.30,565.36" fill="#000"/>
<polygon points="394.50,568.60 398.10,568.60 396.30,565.36" fill="#000"/>
<line x1="354.70" y1="533.60" x2="354.70" y2="601.60" stroke="#1a1a1a" stroke-width="1.15" stroke-linecap="butt"/>
<line x1="351.50" y1="601.10" x2="354.70" y2="601.10" stroke="#1a1a1a" stroke-width="1.0" stroke-linecap="butt"/>
<text x="348.70" y="603.84" font-size="7.6" fill="#111" text-anchor="end" font-weight="normal" letter-spacing="0.25" stroke="#111" stroke-width="0.28">0</text>
<line x1="351.50" y1="584.85" x2="354.70" y2="584.85" stroke="#1a1a1a" stroke-width="1.0" stroke-linecap="butt"/>
<text x="348.70" y="587.59" font-size="7.6" fill="#111" text-anchor="end" font-weight="normal" letter-spacing="0.25" stroke="#111" stroke-width="0.28">100</text>
<line x1="351.50" y1="568.60" x2="354.70" y2="568.60" stroke="#1a1a1a" stroke-width="1.0" stroke-linecap="butt"/>
<text x="348.70" y="571.34" font-size="7.6" fill="#111" text-anchor="end" font-weight="normal" letter-spacing="0.25" stroke="#111" stroke-width="0.28">200</text>
<line x1="351.50" y1="552.35" x2="354.70" y2="552.35" stroke="#1a1a1a" stroke-width="1.0" stroke-linecap="butt"/>
<text x="348.70" y="555.09" font-size="7.6" fill="#111" text-anchor="end" font-weight="normal" letter-spacing="0.25" stroke="#111" stroke-width="0.28">300</text>
<line x1="351.50" y1="536.10" x2="354.70" y2="536.10" stroke="#1a1a1a" stroke-width="1.0" stroke-linecap="butt"/>
<text x="348.70" y="538.84" font-size="7.6" fill="#111" text-anchor="end" font-weight="normal" letter-spacing="0.25" stroke="#111" stroke-width="0.28">400</text>
<line x1="354.20" y1="601.10" x2="406.70" y2="601.10" stroke="#1a1a1a" stroke-width="1.15" stroke-linecap="butt"/>
<line x1="367.75" y1="601.10" x2="367.75" y2="603.90" stroke="#1a1a1a" stroke-width="1.0" stroke-linecap="butt"/>
<line x1="393.95" y1="601.10" x2="393.95" y2="603.90" stroke="#1a1a1a" stroke-width="1.0" stroke-linecap="butt"/>
<text x="380.80" y="613.90" font-size="7.8" fill="#111" text-anchor="middle" font-weight="normal" stroke="#111" stroke-width="0.25">LPS</text>
<text transform="translate(326.18,567.30) rotate(-90)" x="0" y="2.95" font-size="8.2" fill="#111" text-anchor="middle" textLength="38.699999999999996" lengthAdjust="spacingAndGlyphs" stroke="#111" stroke-width="0.35">TNF (pg/mL)</text>
<text x="380.50" y="542.80" font-size="6.9" fill="#111" text-anchor="middle" font-weight="normal" >*</text>
<polygon points="348.50,599.40 351.60,601.10 348.50,602.80" fill="#1f3f8f"/>
<text x="313.90" y="532.00" font-size="11" fill="#000" text-anchor="start" font-weight="bold" stroke="#000" stroke-width="0.3">S</text>
<rect x="462.5" y="550.1" width="8.8" height="8.8" fill="#d4877c"/>
<rect x="462.5" y="562.2" width="8.8" height="8.8" fill="#b5d59b"/>
<circle cx="466.90" cy="554.50" r="1.5" fill="#000"/>
<polygon points="465.40,567.95 468.40,567.95 466.90,565.25" fill="#000"/>
<text x="474.30" y="557.40" font-size="7.8" fill="#222" text-anchor="start" font-weight="normal" >Control</text>
<text x="474.30" y="569.60" font-size="7.8" fill="#222" text-anchor="start" font-weight="normal" textLength="34.4" lengthAdjust="spacingAndGlyphs">Runx1 KO</text>
<rect x="0.5" y="0.5" width="519" height="622" fill="none" stroke="#000" stroke-width="1.45"/>
</svg>
</body></html>
